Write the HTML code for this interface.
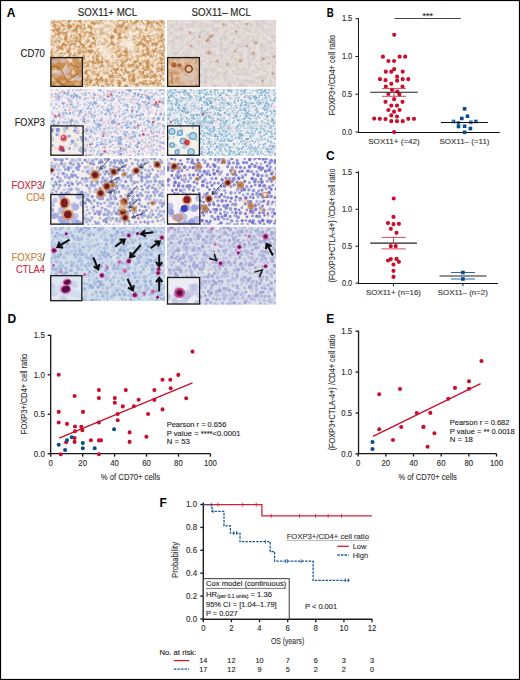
<!DOCTYPE html>
<html><head><meta charset="utf-8"><title>Figure</title>
<style>
html,body{margin:0;padding:0;background:#fff;}
body{width:520px;height:680px;overflow:hidden;position:relative;}
svg{position:absolute;left:0;top:0;display:block;}
text{font-family:"Liberation Sans", sans-serif;}
</style></head><body>
<svg width="520" height="680" viewBox="0 0 520 680">
<rect x="0" y="0" width="520" height="680" fill="#fff"/>
<defs><filter id="bl" x="-5%" y="-5%" width="110%" height="110%"><feGaussianBlur stdDeviation="0.6"/></filter><filter id="bl2" x="-5%" y="-5%" width="110%" height="110%"><feGaussianBlur stdDeviation="0.3"/></filter><radialGradient id="gb"><stop offset="0" stop-color="#5a1420"/><stop offset="0.4" stop-color="#7a2222"/><stop offset="0.62" stop-color="#c07038" stop-opacity="0.85"/><stop offset="1" stop-color="#e0a868" stop-opacity="0"/></radialGradient><radialGradient id="gbl"><stop offset="0" stop-color="#a05a30"/><stop offset="0.5" stop-color="#c07a40" stop-opacity="0.8"/><stop offset="1" stop-color="#e0b080" stop-opacity="0"/></radialGradient><radialGradient id="gm"><stop offset="0" stop-color="#5a0c44"/><stop offset="0.42" stop-color="#8a1868"/><stop offset="0.68" stop-color="#d04c9c" stop-opacity="0.75"/><stop offset="1" stop-color="#e090c8" stop-opacity="0"/></radialGradient><radialGradient id="gml"><stop offset="0" stop-color="#c03890"/><stop offset="0.55" stop-color="#d060a8" stop-opacity="0.7"/><stop offset="1" stop-color="#e8a0d0" stop-opacity="0"/></radialGradient></defs>
<filter id="tb1" x="0" y="0" width="100%" height="100%" color-interpolation-filters="sRGB"><feTurbulence type="fractalNoise" baseFrequency="0.28" numOctaves="3" seed="4"/><feColorMatrix type="matrix" values="0 0 0 0 0.78  0 0 0 0 0.56  0 0 0 0 0.32  3.2 0 0 0 -1.2"/></filter>
<filter id="tb1b" x="0" y="0" width="100%" height="100%" color-interpolation-filters="sRGB"><feTurbulence type="fractalNoise" baseFrequency="0.05" numOctaves="2" seed="9"/><feColorMatrix type="matrix" values="0 0 0 0 0.99  0 0 0 0 0.97  0 0 0 0 0.94  3.5 0 0 0 -2.0"/></filter>
<clipPath id="c1"><rect x="50.5" y="20" width="114.5" height="67"/></clipPath>
<g clip-path="url(#c1)"><g filter="url(#bl)"><rect x="47.5" y="17" width="120.5" height="73" fill="#f4e4d0"/>
<rect x="50.5" y="20" width="114.5" height="67" filter="url(#tb1)"/>
<path d="M87.6 30.1h0M71.2 59.0h0M158.2 43.8h0M77.2 52.5h0M101.0 27.4h0M62.2 58.0h0M154.6 43.0h0M118.1 51.2h0M157.8 30.4h0M65.5 30.2h0M150.4 72.0h0M151.8 30.9h0M99.6 67.0h0M154.7 70.4h0M146.2 57.4h0M153.3 26.2h0M123.0 33.3h0M56.4 64.4h0M106.1 81.1h0M127.1 28.0h0M68.2 55.0h0M58.6 55.1h0M94.9 35.0h0M98.6 79.3h0M92.1 42.4h0M144.7 71.8h0M77.5 38.9h0M72.2 85.2h0M119.5 71.9h0M75.5 46.8h0M108.9 22.7h0M141.2 37.7h0M156.8 80.0h0M65.6 35.2h0M124.6 47.8h0M108.7 24.3h0" stroke="#d2a066" stroke-width="0.9" stroke-linecap="round" stroke-opacity="0.45"/>
<path d="M58.8 55.9h0M139.8 25.5h0M140.9 74.8h0M146.7 83.3h0M144.3 77.9h0M80.6 20.3h0M60.3 26.8h0M146.1 28.0h0M120.5 59.9h0M154.7 43.7h0M117.3 80.6h0M55.3 26.5h0M110.4 78.7h0M100.9 21.2h0M80.5 32.1h0M100.0 53.2h0M69.2 25.7h0M101.5 37.6h0M97.0 36.0h0M59.1 53.5h0M81.5 36.6h0M54.2 67.5h0M85.3 28.6h0M88.0 41.4h0M97.2 63.5h0M70.3 28.9h0M82.5 37.9h0M59.4 22.1h0M105.9 47.3h0M52.6 71.4h0M140.5 34.9h0M91.6 44.5h0M59.7 70.4h0M120.4 36.9h0M123.4 44.1h0M164.2 62.2h0M141.8 37.7h0M136.0 34.8h0M124.3 57.7h0M164.3 68.5h0M112.1 45.1h0" stroke="#b98040" stroke-width="1.8" stroke-linecap="round" stroke-opacity="0.45"/>
<path d="M57.1 54.0h0M99.1 75.4h0M117.5 23.3h0M123.1 24.2h0M159.2 61.1h0M123.4 61.1h0M144.2 69.6h0M109.8 43.8h0M159.8 44.4h0M68.7 86.5h0M163.5 33.1h0M87.8 56.5h0M121.9 54.3h0M163.3 72.8h0M156.6 37.9h0M110.8 36.0h0M66.5 86.3h0M104.8 53.7h0M83.0 61.5h0M160.0 63.1h0M164.3 45.9h0M66.5 32.9h0M108.1 62.2h0M101.6 83.9h0M161.8 36.6h0M60.2 72.0h0M123.4 66.8h0M131.2 40.6h0M161.5 40.9h0M159.5 53.2h0M67.3 46.4h0M158.9 24.4h0M59.5 33.2h0M163.6 37.7h0M80.3 49.4h0M55.1 39.7h0M75.4 44.7h0M73.1 68.8h0M100.2 30.5h0M156.7 69.4h0M90.3 30.8h0M143.3 46.8h0M134.3 74.6h0M121.9 51.8h0M96.5 37.7h0M106.9 31.1h0M57.5 21.7h0M68.7 81.1h0M120.6 64.0h0M161.8 39.8h0" stroke="#c38a48" stroke-width="0.9" stroke-linecap="round" stroke-opacity="0.45"/>
<path d="M100.2 24.7h0M122.7 59.1h0M93.1 56.7h0M91.9 36.6h0M67.8 31.8h0M92.8 57.9h0M80.8 75.5h0M67.3 56.4h0M84.6 63.1h0M141.0 51.6h0M103.5 69.8h0M79.3 39.6h0M142.9 54.0h0M127.3 48.7h0M85.2 28.2h0M164.4 22.5h0M127.3 38.9h0M84.8 62.2h0M160.1 77.2h0M77.4 70.7h0M105.3 65.8h0M106.1 85.2h0M83.2 51.2h0M158.1 33.1h0M80.1 58.2h0M82.3 84.8h0M106.0 81.0h0M162.0 29.5h0M87.9 46.5h0M110.8 63.5h0M113.5 62.8h0M65.4 23.5h0M154.0 61.6h0M147.4 75.6h0M94.4 28.2h0M159.4 29.1h0M162.9 53.0h0M108.0 81.6h0M54.7 32.2h0M146.9 33.6h0" stroke="#c38a48" stroke-width="1.8" stroke-linecap="round" stroke-opacity="0.45"/>
<path d="M114.2 28.9h0M90.6 53.3h0M132.6 79.4h0M107.0 34.6h0M135.0 46.7h0M69.5 46.9h0M98.1 44.0h0M128.6 55.6h0M152.7 33.6h0M98.2 46.3h0M124.2 44.5h0M89.3 33.1h0M107.1 41.9h0M157.9 62.5h0M120.1 34.9h0M107.8 31.9h0M87.5 22.3h0M91.3 20.1h0M108.3 20.3h0M67.0 59.3h0M138.0 68.3h0M124.9 50.8h0M121.6 28.9h0M73.3 85.5h0M82.5 27.5h0M107.5 78.7h0M93.6 28.1h0M87.7 42.7h0M137.0 77.2h0M72.2 45.0h0M107.6 65.2h0M80.0 64.7h0M103.8 37.8h0M146.6 86.0h0M78.9 61.9h0M112.9 30.8h0M97.0 79.2h0M56.6 82.1h0M77.4 71.2h0M157.7 65.5h0M122.1 48.0h0M70.6 86.8h0M151.3 21.0h0" stroke="#b98040" stroke-width="0.9" stroke-linecap="round" stroke-opacity="0.45"/>
<path d="M112.4 58.3h0M57.3 33.8h0M55.0 64.8h0M148.9 83.7h0M135.2 50.6h0M52.9 73.6h0M87.8 85.2h0M73.3 38.6h0M97.0 56.0h0M78.6 50.0h0M73.2 79.1h0M144.9 67.9h0M145.1 59.1h0M50.9 73.4h0M75.4 52.8h0M159.6 28.9h0M143.5 62.3h0M150.2 45.7h0M77.1 81.6h0M72.3 63.7h0M84.6 68.3h0M152.5 35.7h0M73.9 37.1h0M142.8 46.6h0M143.9 32.9h0M59.9 69.1h0M144.4 37.0h0M124.4 49.7h0M97.8 54.7h0M124.2 28.3h0M123.3 65.5h0M119.3 45.4h0" stroke="#d2a066" stroke-width="1.8" stroke-linecap="round" stroke-opacity="0.45"/>
<path d="M99.5 41.0h0M120.2 24.9h0M126.5 24.1h0M53.1 83.7h0M138.9 55.7h0M119.8 43.1h0M140.9 42.3h0M69.0 48.9h0M133.2 21.3h0M137.0 74.9h0M102.5 42.7h0M108.4 85.5h0M152.7 72.5h0M88.5 63.7h0M83.7 25.1h0M117.1 29.5h0M68.7 83.6h0M79.0 37.8h0M73.8 25.4h0M102.1 70.4h0M79.8 69.5h0M106.6 24.9h0M158.3 68.4h0M106.9 66.6h0M57.4 46.4h0M104.0 40.9h0M134.9 51.8h0M72.8 24.2h0M71.4 73.8h0M61.5 53.4h0M62.6 59.9h0M97.3 44.9h0M119.1 56.9h0M95.1 44.6h0M61.5 62.8h0M155.0 25.4h0" stroke="#d2a066" stroke-width="1.35" stroke-linecap="round" stroke-opacity="0.45"/>
<path d="M107.2 43.0h0M69.4 42.9h0M124.6 86.5h0M120.8 30.0h0M164.2 51.2h0M85.4 70.9h0M52.1 61.9h0M122.2 65.6h0M96.9 68.7h0M83.7 44.9h0M164.9 59.5h0M70.1 47.8h0M75.7 80.7h0M51.7 40.2h0M94.0 71.5h0M112.5 49.9h0M80.5 68.0h0M104.9 84.1h0M137.5 72.2h0M151.6 35.5h0M69.2 66.6h0M135.8 79.2h0M65.0 83.2h0M71.0 20.2h0M80.6 53.9h0M53.1 20.2h0M155.3 32.9h0" stroke="#b98040" stroke-width="1.35" stroke-linecap="round" stroke-opacity="0.45"/>
<path d="M95.4 46.7h0M119.5 51.8h0M147.3 54.7h0M76.5 33.2h0M122.0 80.3h0M136.4 52.0h0M62.3 70.2h0M139.4 30.0h0M121.4 28.1h0M151.6 23.8h0M53.7 79.9h0M161.3 34.7h0M80.9 22.7h0M142.1 32.3h0M85.7 34.4h0M84.1 50.8h0M55.3 62.7h0M135.9 51.7h0M89.7 26.1h0M74.5 38.1h0M160.3 63.2h0M110.8 56.6h0M92.0 46.6h0M135.1 53.8h0M134.4 86.8h0M63.0 25.2h0M60.5 67.3h0M93.5 51.1h0M155.1 74.6h0M103.6 22.5h0M157.0 44.9h0M125.1 33.6h0M127.0 48.0h0M63.0 52.9h0M54.9 76.2h0M124.8 40.7h0M140.8 82.3h0M82.0 74.6h0M110.2 66.1h0M67.2 42.2h0M76.8 61.2h0M62.7 43.9h0M117.3 59.5h0M157.7 36.3h0M158.5 37.6h0" stroke="#c38a48" stroke-width="1.35" stroke-linecap="round" stroke-opacity="0.45"/>
<rect x="50.5" y="20" width="114.5" height="67" filter="url(#tb1b)"/>
<ellipse cx="102.5" cy="32" rx="9" ry="11" fill="#f8efe4" fill-opacity="0.4"/>
</g></g>
<filter id="tb1i" x="0" y="0" width="100%" height="100%" color-interpolation-filters="sRGB"><feTurbulence type="fractalNoise" baseFrequency="0.16" numOctaves="2" seed="21"/><feColorMatrix type="matrix" values="0 0 0 0 0.94  0 0 0 0 0.86  0 0 0 0 0.78  3.0 0 0 0 -1.3"/></filter>
<clipPath id="c2"><rect x="50.9" y="57.6" width="31.5" height="28.8"/></clipPath>
<g clip-path="url(#c2)"><g filter="url(#bl)"><rect x="47.9" y="54.6" width="37.5" height="34.8" fill="#c98c50"/>
<rect x="50.9" y="57.6" width="31.5" height="28.8" filter="url(#tb1i)"/>
<circle cx="66.9" cy="70.6" r="3.2" fill="#cdbccc" fill-opacity="0.8"/>
<circle cx="62.599999999999994" cy="60.6" r="2.6" fill="#cdbccc" fill-opacity="0.8"/>
<circle cx="58.9" cy="73.6" r="2.5" fill="#cdbccc" fill-opacity="0.8"/>
<circle cx="76.9" cy="77.6" r="2.6" fill="#cdbccc" fill-opacity="0.8"/>
<circle cx="54.9" cy="61.6" r="2.2" fill="#cdbccc" fill-opacity="0.8"/>
<path d="M52.9 66.6Q60.9 65.6 63.9 74.6T72.9 81.6M68.9 79.6L77.9 73.6M70.9 63.6Q74.9 68.6 80.9 66.6M56.9 79.6Q59.9 83.6 64.9 85.6" stroke="#9a5420" stroke-width="1.1" fill="none" stroke-opacity="0.75"/>
</g></g>
<rect x="50.9" y="57.6" width="31.5" height="28.8" fill="none" stroke="#1a1a1a" stroke-width="1.3"/>
<filter id="tb2" x="0" y="0" width="100%" height="100%" color-interpolation-filters="sRGB"><feTurbulence type="fractalNoise" baseFrequency="0.25" numOctaves="2" seed="11"/><feColorMatrix type="matrix" values="0 0 0 0 0.82  0 0 0 0 0.78  0 0 0 0 0.80  2.2 0 0 0 -0.8"/></filter>
<clipPath id="c3"><rect x="167" y="20" width="109" height="67"/></clipPath>
<g clip-path="url(#c3)"><g filter="url(#bl)"><rect x="164" y="17" width="115" height="73" fill="#e5dfd9"/>
<rect x="167" y="20" width="109" height="67" filter="url(#tb2)"/>
<path d="M274.0 76.4h0M253.3 63.3h0M203.7 37.5h0M268.4 23.2h0M250.8 60.3h0M214.6 71.8h0M227.4 41.7h0M274.2 73.3h0M186.8 28.3h0M272.9 86.6h0M205.5 62.8h0M187.3 20.2h0M193.7 40.2h0M168.3 83.8h0M218.0 57.7h0M177.3 64.2h0M198.9 75.5h0M252.7 57.7h0M233.4 41.2h0M271.0 31.0h0M197.9 20.1h0M273.3 73.4h0M225.3 56.2h0M190.2 26.2h0M220.0 58.0h0M178.5 41.7h0M258.8 62.1h0M184.0 38.2h0M267.8 26.5h0M175.6 25.9h0M266.9 54.7h0" stroke="#e2d8d0" stroke-width="1.5" stroke-linecap="round" stroke-opacity="0.7"/>
<path d="M258.5 66.7h0M170.6 27.5h0M192.2 31.1h0M176.4 79.5h0M189.5 37.6h0M224.9 70.5h0M196.8 27.3h0M252.3 67.8h0M274.3 43.8h0M275.6 70.9h0M179.9 48.1h0M232.4 69.2h0M190.3 47.8h0M251.9 57.1h0M214.4 48.3h0M187.1 22.3h0M228.7 58.7h0M228.9 22.6h0M168.5 45.9h0M218.5 80.0h0M244.8 77.3h0M170.5 24.1h0M200.9 68.9h0M240.8 29.7h0M257.8 59.2h0M209.2 45.2h0M213.1 59.3h0M257.8 74.4h0M188.8 70.3h0M189.5 37.1h0M213.4 83.4h0M259.0 42.7h0M236.7 81.8h0M222.2 32.2h0M265.4 80.6h0M180.5 52.2h0M193.0 29.6h0M182.2 50.0h0M244.8 57.1h0M254.7 37.5h0M207.5 59.9h0" stroke="#f4f0ee" stroke-width="1.5" stroke-linecap="round" stroke-opacity="0.7"/>
<path d="M271.2 35.7h0M174.4 23.1h0M234.4 22.1h0M261.0 26.1h0M214.5 55.1h0M274.1 62.3h0M223.9 30.8h0M271.9 26.8h0M193.4 77.1h0M195.3 66.9h0M202.8 20.7h0M252.2 83.0h0M204.4 69.7h0M213.7 62.7h0M265.3 56.7h0M220.7 23.9h0M233.5 65.7h0M221.9 38.2h0M238.3 73.1h0M239.3 78.2h0M266.6 63.9h0M229.7 81.5h0M190.8 28.1h0M217.1 25.9h0M171.9 86.8h0M171.2 37.1h0M252.7 67.5h0M261.9 37.8h0M219.0 39.2h0M272.8 48.9h0M264.7 23.9h0M182.3 20.1h0M206.3 22.7h0M197.7 62.8h0M168.7 81.0h0" stroke="#e2d8d0" stroke-width="1.0" stroke-linecap="round" stroke-opacity="0.7"/>
<path d="M209.7 59.2h0M273.5 66.9h0M269.9 27.2h0M235.9 52.0h0M242.1 37.2h0M195.2 84.0h0M189.5 46.0h0M273.9 39.8h0M196.9 46.8h0M188.1 63.0h0M268.2 77.2h0M233.3 58.8h0M251.6 43.2h0M207.9 48.1h0M236.4 62.6h0M222.7 52.5h0M201.6 40.0h0M229.6 46.7h0M183.0 65.1h0M171.3 62.5h0M167.5 65.8h0M202.0 53.9h0M230.0 44.0h0M207.5 51.1h0M272.3 86.4h0M178.0 41.3h0M245.2 33.1h0M206.9 42.2h0" stroke="#f4f0ee" stroke-width="1.0" stroke-linecap="round" stroke-opacity="0.7"/>
<path d="M182.1 63.1h0M256.1 74.9h0M179.2 22.3h0M243.8 56.0h0M269.9 39.0h0M252.9 66.7h0M203.4 63.1h0M187.9 40.2h0M210.5 73.0h0M195.0 69.5h0M239.8 63.7h0M259.6 52.3h0M260.6 54.7h0M171.2 56.4h0M259.3 50.6h0M274.9 32.3h0M190.1 28.7h0M257.2 80.7h0M257.6 62.4h0M265.5 73.0h0M264.1 60.8h0M220.9 34.3h0M258.5 65.0h0M243.3 36.5h0M250.9 56.8h0M268.6 37.0h0M246.1 21.0h0M233.2 26.3h0M217.0 83.5h0M201.7 35.6h0M202.2 35.7h0M216.7 52.3h0M173.2 80.0h0M197.2 32.1h0M251.0 67.7h0M186.1 29.2h0M262.0 37.8h0M257.6 44.6h0" stroke="#f4f0ee" stroke-width="2.0" stroke-linecap="round" stroke-opacity="0.7"/>
<path d="M167.5 52.9h0M253.8 32.4h0M204.8 75.7h0M202.6 26.4h0M230.4 55.0h0M184.0 36.6h0M218.9 21.1h0M212.6 48.2h0M195.9 35.0h0M205.7 77.0h0M208.0 37.0h0M210.5 57.1h0M172.1 75.1h0M250.5 24.0h0M197.0 58.1h0M248.1 81.8h0M235.5 67.5h0M209.0 72.7h0M203.4 38.8h0M233.2 65.4h0M192.4 58.8h0M201.4 22.0h0M176.1 23.4h0M240.8 40.0h0M268.1 34.8h0M273.7 21.1h0M200.6 20.7h0" stroke="#e2d8d0" stroke-width="2.0" stroke-linecap="round" stroke-opacity="0.7"/>
<path d="M223.7 49.9h0M223.0 55.5h0M178.2 78.3h0M211.2 29.2h0M259.4 23.6h0M251.6 82.8h0M229.9 38.4h0M173.2 21.5h0M233.0 43.3h0M179.8 46.6h0M256.6 42.1h0M221.6 63.5h0M235.8 55.1h0M258.8 59.3h0M180.2 30.5h0M196.1 26.7h0M173.0 79.7h0M262.0 42.5h0M192.9 22.3h0M204.2 30.4h0M262.1 28.2h0M240.8 47.1h0M262.4 59.2h0M189.9 81.3h0M216.4 23.6h0M195.5 56.6h0M243.1 28.9h0M231.0 36.1h0M229.0 39.4h0" stroke="#d0c4cc" stroke-width="1.0" stroke-linecap="round" stroke-opacity="0.5"/>
<path d="M180.2 67.9h0M186.9 26.9h0M171.9 28.2h0M203.9 36.1h0M247.7 39.2h0M184.7 83.8h0M223.4 75.9h0M267.5 86.7h0M222.9 27.4h0M235.7 60.4h0M211.8 72.8h0M275.7 58.5h0M210.2 44.3h0M271.8 48.3h0M222.0 35.2h0M181.3 67.3h0M265.1 59.4h0M205.8 76.6h0M221.3 54.9h0M270.2 48.4h0M268.9 63.7h0" stroke="#dcc0a8" stroke-width="2.2" stroke-linecap="round" stroke-opacity="0.5"/>
<path d="M261.6 58.6h0M170.9 85.0h0M271.4 82.6h0M178.0 28.2h0M192.8 22.6h0M217.8 55.8h0M208.8 59.2h0M202.5 38.1h0M244.2 81.3h0M206.5 44.6h0M171.8 82.4h0M185.5 45.4h0M263.2 77.7h0M213.9 70.7h0M273.2 65.6h0M257.3 38.8h0M213.7 54.3h0M206.3 33.8h0M187.7 56.4h0" stroke="#d6b49a" stroke-width="1.6" stroke-linecap="round" stroke-opacity="0.5"/>
<path d="M262.1 83.9h0M214.5 85.7h0M239.9 35.1h0M180.5 28.8h0M198.4 43.6h0M167.7 70.0h0M169.8 37.2h0M174.4 35.4h0M262.9 84.6h0M242.3 20.3h0M167.7 78.1h0M193.7 32.8h0M207.1 34.5h0M235.6 58.9h0M198.5 74.7h0M243.2 36.6h0M239.7 60.1h0M200.1 27.4h0M272.0 30.8h0M195.8 63.2h0" stroke="#dcc0a8" stroke-width="1.6" stroke-linecap="round" stroke-opacity="0.5"/>
<path d="M169.3 84.8h0M256.1 22.0h0M248.4 31.0h0M239.3 20.8h0M187.4 41.7h0M196.8 56.3h0M204.9 31.2h0M231.8 43.5h0M275.3 62.6h0M256.7 61.1h0M177.1 38.1h0M196.5 60.8h0M269.6 57.8h0M206.0 47.6h0M226.8 71.0h0" stroke="#d6b49a" stroke-width="2.2" stroke-linecap="round" stroke-opacity="0.5"/>
<path d="M247.5 37.5h0M209.4 48.2h0M261.4 61.6h0M193.4 34.8h0M250.2 54.9h0M256.5 54.7h0M261.9 20.3h0M212.6 72.5h0M267.3 71.8h0M275.8 54.7h0M188.4 53.4h0M196.0 63.3h0M193.5 46.1h0M186.2 44.6h0M205.3 47.6h0M247.5 57.0h0M212.5 69.8h0M221.8 66.1h0M250.0 22.9h0M248.5 42.2h0M267.2 63.2h0" stroke="#d0c4cc" stroke-width="2.2" stroke-linecap="round" stroke-opacity="0.5"/>
<path d="M229.8 55.0h0M260.9 29.9h0M226.8 44.6h0M268.8 47.9h0M182.3 33.6h0M179.1 77.1h0M224.3 59.9h0M215.0 61.8h0M204.4 82.7h0M170.2 25.1h0M191.1 40.7h0M228.3 44.2h0M200.9 29.1h0M223.2 49.8h0" stroke="#d0c4cc" stroke-width="1.6" stroke-linecap="round" stroke-opacity="0.5"/>
<path d="M221.6 38.7h0M255.2 79.3h0M214.5 45.3h0M242.4 70.0h0M222.0 32.6h0M245.0 43.7h0M214.9 61.6h0M169.4 78.2h0M215.3 76.0h0M193.8 60.7h0M209.5 25.8h0M202.0 64.4h0M188.0 68.2h0M241.6 43.4h0M226.3 36.7h0M240.1 35.9h0" stroke="#d6b49a" stroke-width="1.0" stroke-linecap="round" stroke-opacity="0.5"/>
<path d="M271.5 81.7h0M242.7 34.8h0M233.8 51.4h0M215.4 32.3h0M271.5 33.7h0M241.7 46.1h0M168.4 71.6h0M205.0 50.1h0M212.6 36.9h0M226.1 38.1h0M238.7 58.0h0M265.8 26.5h0M257.9 72.0h0M257.6 27.7h0M172.0 51.4h0" stroke="#dcc0a8" stroke-width="1.0" stroke-linecap="round" stroke-opacity="0.5"/>
<circle cx="210" cy="36.8" r="2.28" fill="#c89a80" fill-opacity="0.3"/><circle cx="210" cy="36.8" r="1.32" fill="#b87448" fill-opacity="0.5"/>
<circle cx="207.9" cy="39.9" r="2.09" fill="#c89a80" fill-opacity="0.3"/><circle cx="207.9" cy="39.9" r="1.21" fill="#b87448" fill-opacity="0.5"/>
<circle cx="212" cy="35.7" r="1.90" fill="#c89a80" fill-opacity="0.3"/><circle cx="212" cy="35.7" r="1.10" fill="#b87448" fill-opacity="0.5"/>
<circle cx="208.9" cy="52.5" r="2.66" fill="#c89a80" fill-opacity="0.3"/><circle cx="208.9" cy="52.5" r="1.54" fill="#b87448" fill-opacity="0.5"/>
<circle cx="206.8" cy="41" r="1.90" fill="#c89a80" fill-opacity="0.3"/><circle cx="206.8" cy="41" r="1.10" fill="#b87448" fill-opacity="0.5"/>
<circle cx="191.1" cy="46.2" r="1.71" fill="#c89a80" fill-opacity="0.3"/><circle cx="191.1" cy="46.2" r="0.99" fill="#b87448" fill-opacity="0.5"/>
<circle cx="199.5" cy="36.8" r="1.71" fill="#c89a80" fill-opacity="0.3"/><circle cx="199.5" cy="36.8" r="0.99" fill="#b87448" fill-opacity="0.5"/>
<circle cx="236.2" cy="31.5" r="1.71" fill="#c89a80" fill-opacity="0.3"/><circle cx="236.2" cy="31.5" r="0.99" fill="#b87448" fill-opacity="0.5"/>
<circle cx="246.7" cy="24.2" r="1.90" fill="#c89a80" fill-opacity="0.3"/><circle cx="246.7" cy="24.2" r="1.10" fill="#b87448" fill-opacity="0.5"/>
<circle cx="256.1" cy="43" r="2.28" fill="#c89a80" fill-opacity="0.3"/><circle cx="256.1" cy="43" r="1.32" fill="#b87448" fill-opacity="0.5"/>
<circle cx="253" cy="53.5" r="1.90" fill="#c89a80" fill-opacity="0.3"/><circle cx="253" cy="53.5" r="1.10" fill="#b87448" fill-opacity="0.5"/>
<circle cx="240.4" cy="60.9" r="2.28" fill="#c89a80" fill-opacity="0.3"/><circle cx="240.4" cy="60.9" r="1.32" fill="#b87448" fill-opacity="0.5"/>
<circle cx="263.4" cy="58.8" r="2.09" fill="#c89a80" fill-opacity="0.3"/><circle cx="263.4" cy="58.8" r="1.21" fill="#b87448" fill-opacity="0.5"/>
<circle cx="273.9" cy="56.7" r="1.90" fill="#c89a80" fill-opacity="0.3"/><circle cx="273.9" cy="56.7" r="1.10" fill="#b87448" fill-opacity="0.5"/>
<circle cx="227.8" cy="64" r="1.90" fill="#c89a80" fill-opacity="0.3"/><circle cx="227.8" cy="64" r="1.10" fill="#b87448" fill-opacity="0.5"/>
<circle cx="217.3" cy="60.9" r="1.71" fill="#c89a80" fill-opacity="0.3"/><circle cx="217.3" cy="60.9" r="0.99" fill="#b87448" fill-opacity="0.5"/>
<circle cx="235.1" cy="51.4" r="1.71" fill="#c89a80" fill-opacity="0.3"/><circle cx="235.1" cy="51.4" r="0.99" fill="#b87448" fill-opacity="0.5"/>
<circle cx="223.6" cy="24.2" r="1.71" fill="#c89a80" fill-opacity="0.3"/><circle cx="223.6" cy="24.2" r="0.99" fill="#b87448" fill-opacity="0.5"/>
<circle cx="262.4" cy="80.8" r="1.90" fill="#c89a80" fill-opacity="0.3"/><circle cx="262.4" cy="80.8" r="1.10" fill="#b87448" fill-opacity="0.5"/>
<circle cx="272.9" cy="73.5" r="1.90" fill="#c89a80" fill-opacity="0.3"/><circle cx="272.9" cy="73.5" r="1.10" fill="#b87448" fill-opacity="0.5"/>
<circle cx="246.7" cy="46.2" r="1.71" fill="#c89a80" fill-opacity="0.3"/><circle cx="246.7" cy="46.2" r="0.99" fill="#b87448" fill-opacity="0.5"/>
<circle cx="190" cy="32.6" r="1.71" fill="#c89a80" fill-opacity="0.3"/><circle cx="190" cy="32.6" r="0.99" fill="#b87448" fill-opacity="0.5"/>
</g></g>
<filter id="tb2i" x="0" y="0" width="100%" height="100%" color-interpolation-filters="sRGB"><feTurbulence type="fractalNoise" baseFrequency="0.2" numOctaves="2" seed="5"/><feColorMatrix type="matrix" values="0 0 0 0 0.82  0 0 0 0 0.58  0 0 0 0 0.38  2.6 0 0 0 -1.0"/></filter>
<clipPath id="c4"><rect x="167.6" y="57.6" width="31.8" height="28.8"/></clipPath>
<g clip-path="url(#c4)"><g filter="url(#bl)"><rect x="164.6" y="54.6" width="37.8" height="34.8" fill="#dcc2aa"/>
<rect x="167.6" y="57.6" width="31.8" height="28.8" filter="url(#tb2i)"/>
<ellipse cx="191" cy="79" rx="8" ry="6" fill="#ddd2dc" fill-opacity="0.35"/>
<g fill="#a85420" fill-opacity="0.85"><circle cx="173.8" cy="64.9" r="2.6"/><circle cx="179.6" cy="65.2" r="2"/></g>
<path d="M171 72Q173 78 172 84" stroke="#c07840" stroke-width="2.2" fill="none" stroke-opacity="0.7"/>
<circle cx="188.8" cy="68.9" r="3.4" fill="#e0c0b0" stroke="#8a3e14" stroke-width="1.6"/>
</g></g>
<rect x="167.6" y="57.6" width="31.8" height="28.8" fill="none" stroke="#1a1a1a" stroke-width="1.3"/>
<clipPath id="c5"><rect x="50.5" y="89" width="114.5" height="67"/></clipPath>
<g clip-path="url(#c5)"><g filter="url(#bl)"><rect x="47.5" y="86" width="120.5" height="73" fill="#f3eff4"/>
<path d="M48.1 86.3h0M68.1 88.2h0M61.0 91.1h0M83.0 95.1h0M131.3 100.8h0M80.6 104.7h0M144.0 103.8h0M139.3 107.1h0M158.2 106.3h0M159.8 107.2h0M118.6 108.6h0M143.8 108.5h0M150.6 108.2h0M151.9 112.2h0M116.2 115.7h0M141.0 114.2h0M101.7 117.5h0M48.1 120.4h0M136.0 120.5h0M101.4 124.2h0M138.2 123.0h0M159.6 125.9h0M79.3 128.0h0M74.6 130.3h0M73.2 134.8h0M101.7 133.6h0M70.6 137.3h0M146.7 136.1h0M69.1 139.5h0M160.5 139.2h0M152.3 142.4h0M57.5 144.3h0M117.7 143.8h0M141.7 145.0h0M145.5 145.3h0M84.0 148.2h0M112.5 151.3h0M144.2 151.1h0M161.7 153.3h0" stroke="#e4bcc6" stroke-width="1.8" stroke-linecap="round" stroke-opacity="0.8"/>
<path d="M51.3 87.8h0M167.3 90.9h0M89.3 93.2h0M112.7 95.3h0M133.1 96.3h0M131.7 99.4h0M119.0 101.2h0M63.8 107.0h0M148.1 107.4h0M63.6 114.7h0M95.3 115.9h0M119.7 116.8h0M124.1 118.5h0M153.5 118.6h0M63.2 122.4h0M97.7 123.1h0M123.3 122.5h0M141.2 123.6h0M165.9 123.6h0M67.4 125.5h0M140.3 125.4h0M86.1 128.7h0M128.6 127.4h0M164.4 128.4h0M101.7 141.3h0M109.5 142.6h0M100.4 144.4h0M112.6 144.6h0M95.5 147.0h0M153.7 150.5h0M96.9 154.2h0M81.1 156.2h0M152.0 155.1h0M49.4 158.7h0M103.0 159.4h0" stroke="#7ca0d4" stroke-width="1.8" stroke-linecap="round" stroke-opacity="0.8"/>
<path d="M56.0 88.0h0M105.8 87.2h0M85.3 89.9h0M49.6 91.9h0M62.9 95.8h0M91.0 96.0h0M88.8 98.5h0M161.5 101.6h0M86.6 105.0h0M131.9 103.1h0M134.4 103.5h0M163.4 104.4h0M134.7 106.9h0M150.7 106.3h0M49.0 108.3h0M161.9 109.5h0M116.1 113.1h0M144.1 111.1h0M160.2 115.0h0M159.6 117.9h0M51.8 121.0h0M148.7 120.1h0M87.5 127.0h0M118.6 125.3h0M60.1 129.6h0M107.3 128.2h0M117.1 131.4h0M153.4 130.3h0M88.3 134.0h0M90.8 134.9h0M128.5 134.0h0M139.5 134.2h0M68.5 137.5h0M92.7 141.3h0M156.7 142.5h0M148.1 144.7h0M114.9 148.0h0M133.9 148.6h0M155.9 148.7h0M99.9 151.1h0M166.6 153.8h0M59.2 156.7h0M103.1 156.8h0M126.7 156.1h0M113.1 158.8h0" stroke="#d4c8dc" stroke-width="2.3" stroke-linecap="round" stroke-opacity="0.8"/>
<path d="M59.2 87.0h0M86.8 87.2h0M122.3 89.5h0M131.9 89.7h0M80.8 93.6h0M106.6 93.3h0M53.6 96.7h0M100.6 95.7h0M152.4 95.1h0M159.9 95.9h0M93.5 97.5h0M96.7 98.8h0M99.1 98.5h0M53.6 100.7h0M85.2 101.1h0M140.6 104.5h0M99.4 109.6h0M128.6 111.8h0M156.5 112.1h0M86.5 115.3h0M134.3 114.8h0M129.8 116.5h0M111.3 119.4h0M90.0 126.5h0M110.9 125.2h0M165.6 126.4h0M76.1 130.2h0M53.2 133.8h0M97.4 133.1h0M98.5 137.7h0M133.5 136.7h0M56.4 139.7h0M132.4 140.0h0M89.1 141.7h0M99.2 142.1h0M69.5 145.6h0M95.4 146.1h0M99.2 148.2h0M108.9 147.4h0M78.8 149.4h0M166.7 151.2h0M86.1 153.9h0M102.1 153.4h0M112.2 153.5h0M130.8 152.9h0M114.1 158.8h0M130.9 158.6h0" stroke="#d4c8dc" stroke-width="1.8" stroke-linecap="round" stroke-opacity="0.8"/>
<path d="M61.2 88.2h0M74.4 86.6h0M118.1 86.9h0M109.4 90.9h0M124.1 92.9h0M105.4 98.9h0M152.0 100.5h0M51.6 103.0h0M72.1 103.9h0M84.2 107.7h0M53.0 109.3h0M74.6 110.1h0M98.5 111.0h0M123.0 111.2h0M65.1 116.8h0M68.6 118.5h0M68.6 119.9h0M129.7 121.4h0M82.6 122.4h0M150.0 126.9h0M89.5 129.5h0M160.2 128.9h0M111.6 131.9h0M154.9 131.8h0M57.7 136.2h0M96.6 137.8h0M128.6 135.7h0M137.7 135.8h0M51.4 139.3h0M82.4 138.9h0M88.1 140.5h0M138.1 140.2h0M115.1 141.2h0M68.8 149.9h0M130.4 151.0h0M141.0 153.2h0M138.8 155.1h0M72.1 159.5h0M137.8 158.6h0M144.1 158.1h0" stroke="#bccce8" stroke-width="1.8" stroke-linecap="round" stroke-opacity="0.8"/>
<path d="M71.0 87.4h0M90.3 88.2h0M135.8 89.2h0M140.8 90.1h0M74.2 94.0h0M119.1 92.9h0M122.3 92.3h0M75.8 95.4h0M142.0 94.6h0M73.9 97.3h0M113.9 98.9h0M49.7 100.6h0M71.5 101.7h0M142.6 101.9h0M63.9 103.3h0M127.4 105.0h0M65.2 110.2h0M90.9 108.8h0M127.2 110.0h0M147.6 109.2h0M93.2 115.3h0M136.7 115.5h0M94.2 120.9h0M147.6 120.9h0M152.4 123.7h0M158.5 123.7h0M57.6 125.0h0M81.5 126.8h0M125.3 125.3h0M53.1 128.1h0M63.4 128.6h0M104.3 128.9h0M124.5 131.8h0M142.4 131.1h0M150.9 131.0h0M143.9 135.1h0M53.1 136.9h0M153.7 136.7h0M166.4 140.1h0M67.2 146.1h0M92.2 144.0h0M63.4 149.9h0M85.4 151.3h0M142.4 149.4h0M138.3 154.0h0M91.0 155.1h0M135.6 156.1h0M84.2 158.9h0" stroke="#7ca0d4" stroke-width="2.3" stroke-linecap="round" stroke-opacity="0.8"/>
<path d="M77.6 87.2h0M143.7 87.2h0M159.9 88.0h0M55.4 94.1h0M93.9 93.6h0M134.8 93.5h0M116.6 96.0h0M123.6 99.1h0M149.3 98.2h0M164.4 98.6h0M167.9 101.8h0M62.3 103.0h0M105.1 103.1h0M88.9 106.5h0M111.4 106.4h0M81.6 110.1h0M109.3 112.0h0M136.4 111.5h0M84.7 115.4h0M109.8 114.6h0M99.8 120.7h0M135.3 122.7h0M61.9 125.7h0M74.6 124.6h0M127.4 125.2h0M126.7 127.9h0M145.6 129.1h0M54.0 139.9h0M96.8 139.0h0M110.9 142.1h0M121.1 142.6h0M149.5 142.5h0M160.2 142.4h0M106.5 144.5h0M159.9 146.0h0M167.9 144.8h0M60.0 151.1h0M90.7 151.1h0M103.8 151.1h0M125.9 150.6h0M157.0 149.8h0M160.9 156.6h0M120.2 158.2h0" stroke="#90b0dc" stroke-width="2.3" stroke-linecap="round" stroke-opacity="0.8"/>
<path d="M79.7 87.1h0M160.0 90.3h0M162.8 89.7h0M85.5 94.7h0M138.3 95.4h0M90.2 103.6h0M92.7 105.0h0M124.6 104.3h0M87.8 108.7h0M111.4 109.1h0M139.3 108.2h0M65.7 113.1h0M48.9 115.1h0M163.3 119.6h0M112.7 123.4h0M54.6 125.2h0M121.8 126.9h0M152.8 125.3h0M81.6 128.7h0M55.2 130.4h0M126.9 132.2h0M156.8 136.1h0M109.7 140.3h0M165.0 143.2h0M103.7 144.1h0M80.5 147.8h0M124.2 148.9h0M120.3 150.7h0M77.8 156.7h0M167.4 155.5h0M89.4 159.0h0M97.3 157.7h0" stroke="#90b0dc" stroke-width="2.8" stroke-linecap="round" stroke-opacity="0.8"/>
<path d="M84.3 87.2h0M56.8 89.1h0M78.5 90.2h0M98.2 89.6h0M145.1 90.8h0M144.6 91.7h0M143.0 97.6h0M96.8 100.3h0M138.7 100.5h0M50.6 106.7h0M119.1 106.4h0M157.2 110.0h0M111.0 113.7h0M149.1 114.1h0M63.3 117.4h0M83.0 117.0h0M87.0 120.1h0M96.5 120.0h0M131.5 122.5h0M105.5 126.3h0M65.5 131.0h0M121.2 131.5h0M107.3 133.7h0M85.5 137.5h0M79.4 139.2h0M145.7 142.5h0M50.0 149.3h0M133.4 150.9h0M143.0 153.6h0M147.2 152.4h0M68.8 155.1h0M73.7 158.4h0M119.3 159.8h0" stroke="#9cb6e0" stroke-width="1.8" stroke-linecap="round" stroke-opacity="0.8"/>
<path d="M92.9 87.6h0M103.2 86.4h0M115.2 88.5h0M156.6 87.1h0M162.0 88.0h0M166.2 87.1h0M80.9 89.4h0M113.0 90.8h0M156.5 89.1h0M69.8 95.8h0M109.5 96.7h0M122.4 94.7h0M133.8 99.0h0M136.3 99.4h0M162.9 101.5h0M78.0 103.3h0M94.1 107.7h0M121.8 115.0h0M110.4 117.6h0M148.1 118.1h0M73.3 120.9h0M125.1 119.9h0M116.3 123.9h0M128.1 123.2h0M48.0 125.1h0M90.5 128.7h0M87.3 130.4h0M99.6 131.1h0M109.2 131.8h0M166.4 130.4h0M86.2 133.6h0M110.8 133.2h0M153.7 133.6h0M81.4 136.2h0M67.4 139.0h0M85.9 141.3h0M105.6 141.8h0M60.5 146.1h0M126.6 145.7h0M121.5 147.7h0M149.5 147.2h0M48.8 152.3h0M61.4 153.3h0M106.4 152.4h0M135.0 152.6h0M150.5 153.3h0M152.4 152.7h0M93.7 155.7h0M97.4 156.6h0M52.6 159.5h0M140.4 158.1h0" stroke="#d4c8dc" stroke-width="2.8" stroke-linecap="round" stroke-opacity="0.8"/>
<path d="M95.2 87.0h0M124.9 91.1h0M163.5 94.6h0M76.8 100.7h0M47.8 102.9h0M57.8 104.4h0M167.7 111.1h0M101.7 115.0h0M147.1 114.5h0M74.7 116.8h0M78.5 117.1h0M60.8 121.1h0M105.7 121.3h0M122.5 119.9h0M91.5 122.3h0M130.4 131.1h0M67.0 133.5h0M72.5 139.5h0M48.4 142.9h0M74.5 141.3h0M83.3 143.2h0M131.5 144.8h0M164.6 144.4h0M76.3 147.0h0M56.2 150.6h0M72.6 149.6h0M88.9 150.4h0M106.9 151.2h0M164.4 149.8h0M83.0 153.7h0M117.0 157.0h0" stroke="#eed8dc" stroke-width="2.3" stroke-linecap="round" stroke-opacity="0.8"/>
<path d="M100.3 88.3h0M131.0 86.4h0M137.7 86.5h0M107.9 91.1h0M139.9 89.8h0M108.5 93.9h0M114.4 92.2h0M71.8 98.5h0M69.2 101.6h0M158.0 101.6h0M110.8 104.0h0M52.5 112.9h0M90.5 111.6h0M154.9 121.2h0M69.6 122.4h0M103.9 122.7h0M116.1 127.0h0M103.0 132.2h0M145.6 130.7h0M59.3 134.2h0M81.2 132.8h0M117.6 133.6h0M150.5 137.3h0M133.7 141.3h0M138.2 142.5h0M143.8 142.2h0M119.7 143.9h0M62.1 148.3h0M126.5 147.8h0M58.5 152.3h0M75.7 155.1h0M121.9 156.4h0M81.4 159.4h0" stroke="#e4bcc6" stroke-width="2.8" stroke-linecap="round" stroke-opacity="0.8"/>
<path d="M107.9 88.3h0M68.6 90.2h0M51.8 94.0h0M103.4 92.0h0M151.8 92.3h0M58.8 95.1h0M79.8 96.4h0M166.8 96.7h0M91.5 102.1h0M103.4 100.5h0M121.0 103.0h0M101.6 106.7h0M128.1 107.2h0M167.7 106.5h0M78.0 110.1h0M103.6 109.1h0M132.0 110.0h0M112.5 112.3h0M132.3 113.0h0M98.4 114.4h0M60.3 118.2h0M88.3 116.7h0M91.3 117.1h0M152.3 118.6h0M163.0 118.0h0M81.1 119.7h0M143.1 119.6h0M108.1 123.2h0M98.8 125.8h0M129.8 126.6h0M144.1 125.2h0M100.6 128.9h0M116.6 129.1h0M147.1 135.0h0M163.3 136.6h0M101.6 138.5h0M142.2 140.2h0M151.7 139.9h0M76.2 142.4h0M127.5 141.6h0M50.9 144.1h0M87.5 144.5h0M71.1 147.0h0M90.2 147.1h0M109.9 150.6h0M63.4 155.3h0M73.5 156.1h0M131.7 157.1h0M142.9 155.8h0M145.4 158.8h0M162.6 158.4h0" stroke="#90b0dc" stroke-width="1.8" stroke-linecap="round" stroke-opacity="0.8"/>
<path d="M112.5 87.9h0M100.3 90.3h0M129.4 89.7h0M64.5 93.0h0M147.0 97.7h0M95.9 103.4h0M166.2 103.5h0M69.9 113.3h0M80.0 112.4h0M59.2 114.5h0M105.8 114.2h0M142.7 114.6h0M84.1 118.7h0M132.0 116.9h0M70.9 121.5h0M101.7 119.9h0M49.7 122.4h0M58.8 122.7h0M119.1 123.8h0M149.1 122.1h0M71.1 124.9h0M71.9 131.6h0M91.1 131.6h0M133.5 132.4h0M103.7 133.8h0M125.3 134.8h0M90.1 137.1h0M118.5 137.8h0M120.4 137.5h0M85.8 139.0h0M51.8 143.0h0M162.5 142.8h0M97.3 145.4h0M137.6 147.2h0M81.6 150.4h0M53.1 153.4h0M89.0 155.7h0M163.0 156.2h0M66.9 158.3h0M155.1 158.5h0" stroke="#7ca0d4" stroke-width="2.8" stroke-linecap="round" stroke-opacity="0.8"/>
<path d="M120.7 88.0h0M50.7 89.0h0M144.5 95.2h0M157.9 95.1h0M139.4 99.1h0M109.0 105.0h0M97.1 107.3h0M58.9 112.5h0M141.8 113.1h0M52.7 114.9h0M128.5 115.9h0M54.0 118.1h0M144.4 118.0h0M65.2 119.4h0M156.4 125.7h0M119.2 129.1h0M136.6 132.3h0M49.7 137.3h0M61.3 136.1h0M78.3 137.1h0M83.1 137.0h0M106.4 135.9h0M108.7 135.8h0M115.2 136.8h0M165.4 135.9h0M76.7 139.2h0M136.5 139.0h0M145.5 139.2h0M154.2 139.9h0M54.4 141.4h0M57.4 141.4h0M61.0 141.2h0M53.3 147.3h0M130.4 147.0h0M141.0 148.0h0M143.7 148.3h0M160.3 148.3h0M75.4 149.4h0M159.8 150.4h0M123.8 153.5h0M64.9 158.3h0" stroke="#bccce8" stroke-width="2.3" stroke-linecap="round" stroke-opacity="0.8"/>
<path d="M123.8 87.8h0M54.1 89.0h0M95.6 94.1h0M99.0 93.6h0M64.8 97.2h0M57.6 101.9h0M82.1 100.2h0M127.2 102.3h0M99.2 104.9h0M119.2 103.4h0M91.7 105.5h0M115.8 106.5h0M61.9 109.8h0M113.9 110.1h0M55.8 111.2h0M137.8 112.0h0M98.5 117.5h0M106.5 118.4h0M56.6 123.1h0M65.6 124.6h0M135.4 128.1h0M142.9 128.7h0M51.6 132.3h0M74.8 133.4h0M55.1 137.4h0M64.4 136.8h0M130.2 135.8h0M140.9 136.6h0M164.6 140.7h0M65.8 141.6h0M67.4 147.7h0M90.6 153.7h0M164.8 158.9h0" stroke="#eed8dc" stroke-width="1.8" stroke-linecap="round" stroke-opacity="0.8"/>
<path d="M127.0 87.6h0M133.8 88.3h0M150.8 87.3h0M156.3 93.1h0M50.8 95.8h0M112.3 97.3h0M84.5 104.3h0M152.5 105.0h0M54.1 107.6h0M113.1 107.8h0M105.8 110.1h0M49.9 111.7h0M63.1 112.8h0M149.2 112.2h0M130.9 115.3h0M56.3 117.0h0M93.6 117.5h0M135.5 116.8h0M167.7 116.7h0M134.1 121.3h0M158.4 119.2h0M67.2 122.3h0M75.6 122.1h0M144.3 122.9h0M96.8 124.9h0M101.6 125.5h0M137.4 126.9h0M147.8 125.3h0M94.4 129.0h0M109.5 127.7h0M112.6 128.1h0M137.9 128.4h0M67.7 130.1h0M94.7 133.5h0M123.7 134.1h0M63.6 138.7h0M117.5 138.5h0M137.7 144.1h0M52.7 150.1h0M93.9 150.6h0M117.7 151.6h0M152.3 150.1h0M98.1 153.0h0M156.7 153.7h0M85.9 156.8h0M101.8 156.9h0M118.7 155.5h0M133.4 157.7h0M152.4 157.9h0" stroke="#a8c0e6" stroke-width="2.8" stroke-linecap="round" stroke-opacity="0.8"/>
<path d="M141.4 87.6h0M58.9 92.5h0M82.9 93.5h0M147.2 96.0h0M61.3 98.3h0M154.9 99.1h0M160.0 98.6h0M77.9 102.0h0M101.2 100.2h0M129.9 102.1h0M148.2 102.2h0M72.9 104.7h0M141.7 105.7h0M56.2 109.1h0M95.2 110.5h0M120.4 109.4h0M125.4 110.2h0M81.0 111.8h0M85.2 111.1h0M164.6 112.4h0M54.6 121.4h0M49.5 128.2h0M68.4 127.4h0M59.5 131.8h0M159.3 130.6h0M50.7 134.0h0M79.7 134.5h0M131.5 134.0h0M143.0 134.8h0M159.7 133.0h0M163.4 133.5h0M102.3 136.2h0M123.9 137.5h0M160.3 137.7h0M94.1 139.7h0M125.6 139.0h0M148.7 138.5h0M68.1 142.9h0M64.2 145.6h0M73.3 143.9h0M85.1 145.8h0M49.5 148.2h0M87.5 147.2h0M102.8 147.5h0M149.2 149.9h0M109.3 159.8h0" stroke="#a8c0e6" stroke-width="1.8" stroke-linecap="round" stroke-opacity="0.8"/>
<path d="M153.9 86.4h0M76.2 90.0h0M147.5 89.9h0M151.3 89.2h0M85.8 93.0h0M127.9 94.0h0M165.5 91.7h0M135.2 95.7h0M55.8 97.2h0M67.1 98.3h0M103.2 97.9h0M118.8 99.0h0M120.5 99.4h0M161.8 99.3h0M88.4 102.3h0M94.6 101.8h0M106.8 100.2h0M123.6 100.4h0M59.3 106.4h0M123.9 105.4h0M133.0 109.8h0M138.3 110.4h0M75.1 111.0h0M125.8 112.7h0M78.1 115.4h0M115.5 117.6h0M77.1 121.1h0M88.7 120.7h0M108.7 120.9h0M166.0 120.8h0M78.0 123.0h0M87.6 122.1h0M82.8 127.0h0M65.5 128.0h0M72.9 129.1h0M75.2 127.6h0M147.8 127.6h0M153.8 128.5h0M55.9 135.2h0M68.3 133.7h0M135.1 133.3h0M104.4 140.3h0M121.8 144.6h0M105.3 147.2h0M118.4 147.0h0M145.4 147.2h0M81.4 154.2h0M156.4 156.7h0" stroke="#bccce8" stroke-width="2.8" stroke-linecap="round" stroke-opacity="0.8"/>
<path d="M62.5 91.4h0M73.7 96.2h0M104.2 95.0h0M154.2 94.5h0M84.5 98.8h0M86.4 98.2h0M56.1 104.2h0M149.6 102.7h0M73.0 112.5h0M88.8 112.4h0M119.0 111.8h0M79.7 114.8h0M126.0 117.2h0M83.2 121.1h0M84.9 123.3h0M94.8 123.0h0M126.8 122.9h0M133.9 126.3h0M56.4 128.4h0M156.9 127.5h0M60.9 130.6h0M96.4 130.2h0M105.4 131.8h0M60.4 139.0h0M122.2 139.3h0M157.7 140.6h0M97.2 142.6h0M136.5 145.7h0M154.0 145.0h0M91.9 148.3h0M163.0 148.4h0M122.8 150.7h0M76.4 152.1h0M121.2 153.7h0M93.0 157.9h0" stroke="#9cb6e0" stroke-width="2.3" stroke-linecap="round" stroke-opacity="0.8"/>
<path d="M72.8 90.5h0M116.0 91.1h0M149.5 93.2h0M97.9 95.4h0M48.8 98.3h0M51.3 97.3h0M59.0 100.3h0M112.7 100.7h0M67.5 104.6h0M70.0 107.4h0M102.9 106.6h0M54.4 114.5h0M140.8 118.0h0M59.0 121.3h0M117.5 120.2h0M110.9 122.7h0M153.3 123.0h0M51.4 124.9h0M77.7 126.0h0M122.0 128.5h0M92.5 137.6h0M142.7 135.6h0M106.3 140.3h0M112.5 140.6h0M130.2 143.9h0M64.5 146.9h0M151.9 147.1h0M135.2 151.4h0M127.0 152.8h0M65.9 155.2h0M109.6 157.0h0M155.3 156.6h0M150.5 158.3h0" stroke="#e4bcc6" stroke-width="2.3" stroke-linecap="round" stroke-opacity="0.8"/>
<path d="M91.1 89.0h0M119.4 89.7h0M69.9 93.3h0M146.2 93.5h0M93.4 96.2h0M107.1 96.2h0M130.4 96.1h0M128.5 98.9h0M136.7 101.3h0M154.3 100.5h0M116.2 104.2h0M137.1 102.9h0M57.5 108.6h0M68.7 110.5h0M71.2 108.4h0M152.1 110.4h0M160.7 112.0h0M162.2 114.1h0M139.6 118.0h0M152.9 121.4h0M109.1 124.8h0M48.9 130.5h0M81.6 130.8h0M163.2 130.7h0M150.7 133.0h0M73.3 137.8h0M91.2 138.4h0M70.4 142.5h0M80.6 142.5h0M129.8 142.0h0M82.2 144.1h0M110.9 146.0h0M157.5 146.0h0M55.6 148.2h0M138.7 151.6h0M55.6 153.4h0M92.8 152.5h0M60.5 159.7h0" stroke="#eed8dc" stroke-width="2.8" stroke-linecap="round" stroke-opacity="0.8"/>
<path d="M60.7 93.5h0M161.9 93.8h0M57.9 95.0h0M120.6 96.4h0M126.2 95.5h0M153.9 99.6h0M109.6 100.7h0M156.3 104.7h0M158.4 104.4h0M67.1 106.0h0M78.2 105.6h0M107.5 107.1h0M145.9 106.6h0M94.5 112.6h0M61.8 115.8h0M67.4 114.1h0M73.8 114.8h0M119.1 115.6h0M155.8 114.6h0M158.7 117.7h0M113.9 120.0h0M127.9 121.5h0M93.1 126.9h0M131.4 128.1h0M167.2 129.7h0M129.2 138.8h0M140.3 142.3h0M74.5 145.8h0M151.4 145.5h0M98.4 151.1h0M64.5 152.9h0M70.7 153.1h0M108.4 153.5h0M53.1 156.8h0M112.6 156.6h0M55.6 157.6h0M87.6 158.4h0M99.0 158.9h0M104.5 159.5h0" stroke="#a8c0e6" stroke-width="2.3" stroke-linecap="round" stroke-opacity="0.8"/>
<path d="M68.0 92.3h0M111.3 92.3h0M138.0 94.1h0M58.5 99.4h0M77.3 97.2h0M80.0 97.8h0M145.3 102.2h0M146.2 104.9h0M73.0 107.1h0M75.9 107.4h0M126.8 105.9h0M132.2 107.4h0M155.5 105.9h0M101.6 112.5h0M108.2 111.3h0M90.7 114.0h0M123.8 113.8h0M49.7 117.3h0M140.1 119.3h0M52.5 122.2h0M163.3 125.7h0M98.9 127.6h0M150.6 127.8h0M84.4 131.4h0M114.9 131.8h0M166.9 134.7h0M120.0 140.0h0M118.4 141.6h0M78.0 144.1h0M58.1 147.1h0M67.2 149.8h0M114.6 152.5h0M119.2 153.2h0M56.5 156.9h0M130.2 156.7h0M58.5 158.3h0" stroke="#9cb6e0" stroke-width="2.8" stroke-linecap="round" stroke-opacity="0.8"/>
<path d="M157.2 131.8h0M78.0 142.3h0M76.0 131.2h0M158.0 118.3h0M53.6 124.2h0M135.7 145.6h0M126.8 89.9h0M83.4 148.7h0M139.2 151.1h0M50.6 154.7h0M63.3 103.9h0M80.6 110.9h0M64.5 122.6h0M99.1 124.5h0M111.7 100.3h0M152.0 133.0h0M57.8 151.3h0M127.7 127.5h0" stroke="#6f96d0" stroke-width="2.0" stroke-linecap="round" stroke-opacity="0.7"/>
<path d="M76.9 95.6h0M100.3 155.7h0M71.6 95.8h0M139.8 89.3h0M141.2 97.1h0M61.1 145.4h0M70.7 104.6h0M164.8 115.2h0M130.9 123.8h0M157.7 104.6h0M94.6 95.1h0M148.5 103.6h0M94.3 102.7h0M129.0 146.4h0M139.8 135.6h0M112.2 137.0h0" stroke="#6f96d0" stroke-width="2.5" stroke-linecap="round" stroke-opacity="0.7"/>
<path d="M104.4 99.6h0M120.6 139.8h0M93.7 98.2h0M164.4 126.3h0M54.5 144.7h0M115.1 115.4h0M68.9 99.7h0M50.8 104.6h0M152.0 96.7h0M63.8 126.8h0M137.5 103.5h0M134.7 93.8h0M53.5 120.5h0" stroke="#7a9ed4" stroke-width="2.5" stroke-linecap="round" stroke-opacity="0.7"/>
<path d="M114.7 122.1h0M71.8 120.1h0M58.6 96.9h0M100.7 155.4h0M134.7 135.9h0M138.8 142.7h0M112.5 121.6h0M129.9 91.1h0M64.8 148.3h0M87.1 130.4h0M119.5 143.2h0M157.7 106.4h0M149.4 99.1h0M99.0 125.2h0" stroke="#6f96d0" stroke-width="3.0" stroke-linecap="round" stroke-opacity="0.7"/>
<path d="M101.5 143.8h0M139.7 115.2h0M148.6 97.1h0M50.7 154.9h0M162.8 102.8h0M134.9 127.4h0M85.0 149.6h0M108.3 109.7h0M67.3 94.2h0M139.0 105.1h0M160.8 114.1h0M131.4 137.6h0M80.7 133.8h0M158.2 119.0h0" stroke="#7a9ed4" stroke-width="3.0" stroke-linecap="round" stroke-opacity="0.7"/>
<path d="M76.6 144.9h0M103.4 153.8h0M96.7 127.8h0M137.0 112.1h0M91.5 130.5h0M115.9 140.3h0M138.8 93.9h0M110.5 146.4h0M100.3 97.6h0M67.5 146.9h0M101.9 153.5h0M125.7 144.8h0M52.3 145.1h0M98.2 106.0h0M154.5 117.9h0" stroke="#7a9ed4" stroke-width="2.0" stroke-linecap="round" stroke-opacity="0.7"/>
<path d="M62.5 121.4h0M135.5 122.0h0M106.3 154.7h0M140.2 136.8h0M76.1 147.8h0M116.2 103.0h0M98.7 123.0h0M62.1 101.0h0M163.5 131.8h0M58.7 131.3h0M50.7 112.7h0M105.6 125.1h0" stroke="#e8a8b0" stroke-width="1.0" stroke-linecap="round" stroke-opacity="0.7"/>
<path d="M100.8 154.0h0M155.6 113.7h0M104.2 147.0h0M69.6 110.0h0M146.3 95.3h0M86.5 129.1h0M148.5 134.5h0M126.3 136.6h0M163.2 132.8h0M86.0 113.8h0" stroke="#e48894" stroke-width="2.0" stroke-linecap="round" stroke-opacity="0.7"/>
<path d="M82.2 111.7h0M118.6 92.4h0M102.0 106.2h0M77.4 128.9h0M54.0 135.9h0M102.2 145.0h0M139.3 101.9h0M131.9 149.0h0M94.3 106.2h0M51.8 113.7h0M161.6 107.5h0M103.5 137.8h0" stroke="#f0c8cc" stroke-width="1.0" stroke-linecap="round" stroke-opacity="0.7"/>
<path d="M103.0 130.9h0M118.4 145.0h0M107.4 129.3h0M147.6 108.0h0M155.2 152.9h0M85.9 144.9h0M66.4 122.9h0M93.9 101.2h0M56.0 94.8h0M51.7 89.7h0M77.9 111.1h0M153.8 151.9h0M101.0 134.8h0M156.7 140.1h0M125.2 122.5h0M88.0 139.5h0M62.7 95.4h0M146.1 120.2h0M125.4 99.6h0M146.0 145.6h0M107.9 153.1h0M114.4 147.1h0M105.6 138.8h0" stroke="#e8a8b0" stroke-width="1.5" stroke-linecap="round" stroke-opacity="0.7"/>
<path d="M82.7 112.6h0M93.3 132.1h0M104.5 148.7h0M81.0 89.4h0M163.3 93.6h0M53.8 147.1h0M82.7 120.1h0M121.9 123.1h0M81.3 153.3h0M153.8 122.0h0M76.7 99.6h0M125.8 93.5h0M137.9 127.3h0M159.4 132.3h0" stroke="#e48894" stroke-width="1.5" stroke-linecap="round" stroke-opacity="0.7"/>
<path d="M65.7 102.8h0M152.9 103.9h0M138.2 95.7h0M80.0 99.1h0M61.4 139.3h0M60.3 115.8h0M141.2 140.1h0M154.7 93.7h0M117.1 110.5h0M112.7 151.7h0M100.4 123.2h0M133.9 127.9h0M109.9 97.7h0" stroke="#e48894" stroke-width="1.0" stroke-linecap="round" stroke-opacity="0.7"/>
<path d="M96.2 114.8h0M165.0 126.8h0M51.6 103.0h0M159.8 116.0h0M108.7 120.7h0M135.3 108.3h0M92.7 118.1h0M132.1 90.4h0M92.3 141.7h0M155.7 120.4h0M161.7 106.9h0M56.0 136.1h0M159.0 133.0h0M72.1 137.3h0M159.0 137.0h0M74.6 148.5h0" stroke="#f0c8cc" stroke-width="1.5" stroke-linecap="round" stroke-opacity="0.7"/>
<path d="M117.4 123.8h0M129.5 137.3h0M56.2 100.0h0M133.2 137.7h0M161.0 123.9h0M130.4 143.9h0M161.4 146.9h0M119.1 96.9h0M145.4 101.2h0M113.1 112.9h0M61.1 96.7h0M117.5 95.9h0M55.6 97.3h0M154.1 140.5h0M71.5 135.6h0M100.7 96.6h0M56.6 93.9h0M57.6 133.9h0M62.4 113.1h0M159.8 146.3h0M147.3 146.3h0M91.6 115.0h0" stroke="#e8a8b0" stroke-width="2.0" stroke-linecap="round" stroke-opacity="0.7"/>
<path d="M154.9 132.2h0M65.3 129.9h0M141.3 149.1h0M79.9 91.1h0M116.1 150.9h0M127.7 101.2h0M91.6 96.9h0M100.9 152.0h0M87.3 149.7h0M82.1 117.2h0M105.7 133.5h0M86.0 146.1h0M57.5 90.5h0M87.9 89.6h0M164.7 89.9h0M74.3 110.3h0M144.9 143.0h0M144.3 126.0h0" stroke="#f0c8cc" stroke-width="2.0" stroke-linecap="round" stroke-opacity="0.7"/>
<path d="M129.6 156.0h0M154.5 104.7h0" stroke="#d84050" stroke-width="1.8" stroke-linecap="round" stroke-opacity="0.85"/>
<path d="M111.1 94.7h0M108.0 96.3h0M153.1 122.0h0" stroke="#c83040" stroke-width="2.2" stroke-linecap="round" stroke-opacity="0.85"/>
<path d="M55.4 116.3h0M159.6 101.8h0M105.0 151.5h0" stroke="#d84050" stroke-width="2.6" stroke-linecap="round" stroke-opacity="0.85"/>
<path d="M55.7 132.5h0M90.2 144.4h0M155.7 103.4h0M138.2 125.4h0M59.0 115.8h0" stroke="#d84050" stroke-width="2.2" stroke-linecap="round" stroke-opacity="0.85"/>
<path d="M132.1 110.9h0M156.2 102.0h0M121.0 154.3h0M84.4 121.3h0M120.7 148.4h0M103.5 135.9h0M86.1 155.5h0" stroke="#c83040" stroke-width="1.8" stroke-linecap="round" stroke-opacity="0.85"/>
<path d="M76.1 128.1h0M143.3 134.3h0" stroke="#c83040" stroke-width="2.6" stroke-linecap="round" stroke-opacity="0.85"/>
</g></g>
<clipPath id="c6"><rect x="50.9" y="125.9" width="32.2" height="29.3"/></clipPath>
<g clip-path="url(#c6)"><g filter="url(#bl)"><rect x="47.9" y="122.9" width="38.2" height="35.3" fill="#f2efe8"/>
<path d="M57.7 129.7h0M81.9 151.5h0M75.7 127.6h0M81.0 148.1h0M79.7 150.1h0" stroke="#98a4dc" stroke-width="3.5" stroke-linecap="round" stroke-opacity="0.75"/>
<path d="M51.7 129.7h0" stroke="#6a78c8" stroke-width="3.5" stroke-linecap="round" stroke-opacity="0.75"/>
<path d="M70.7 144.1h0M64.0 128.1h0" stroke="#b8c0e4" stroke-width="2.5" stroke-linecap="round" stroke-opacity="0.75"/>
<path d="M64.6 130.2h0M68.4 136.4h0M60.4 145.9h0" stroke="#b8c0e4" stroke-width="3.5" stroke-linecap="round" stroke-opacity="0.75"/>
<path d="M57.4 134.1h0M73.2 142.1h0M75.8 145.2h0M52.3 139.2h0M66.4 128.3h0M61.8 150.0h0" stroke="#b8c0e4" stroke-width="4.5" stroke-linecap="round" stroke-opacity="0.75"/>
<path d="M69.6 148.4h0M69.6 136.1h0" stroke="#6a78c8" stroke-width="2.5" stroke-linecap="round" stroke-opacity="0.75"/>
<path d="M77.6 132.0h0" stroke="#98a4dc" stroke-width="4.5" stroke-linecap="round" stroke-opacity="0.75"/>
<path d="M56.9 134.9h0M52.6 145.5h0M81.7 140.2h0M66.8 127.7h0" stroke="#7c88d0" stroke-width="2.5" stroke-linecap="round" stroke-opacity="0.75"/>
<path d="M57.9 130.0h0M51.6 130.7h0" stroke="#7c88d0" stroke-width="4.5" stroke-linecap="round" stroke-opacity="0.75"/>
<path d="M81.2 137.4h0M74.6 130.7h0M72.2 141.2h0" stroke="#7c88d0" stroke-width="3.5" stroke-linecap="round" stroke-opacity="0.75"/>
<path d="M77.8 139.8h0" stroke="#98a4dc" stroke-width="2.5" stroke-linecap="round" stroke-opacity="0.75"/>
<path d="M76.7 139.2h0M75.4 141.8h0M67.5 147.2h0" stroke="#f0d8d8" stroke-width="2.5" stroke-linecap="round" stroke-opacity="0.8"/>
<path d="M76.5 145.1h0M78.0 128.5h0" stroke="#e0c0c8" stroke-width="2.0" stroke-linecap="round" stroke-opacity="0.8"/>
<path d="M82.4 133.0h0M51.7 136.5h0M64.3 131.4h0" stroke="#e0c0c8" stroke-width="3.0" stroke-linecap="round" stroke-opacity="0.8"/>
<path d="M55.2 148.0h0M73.8 148.7h0M78.5 131.4h0" stroke="#f0d8d8" stroke-width="3.0" stroke-linecap="round" stroke-opacity="0.8"/>
<path d="M54.0 128.6h0" stroke="#e0c0c8" stroke-width="2.5" stroke-linecap="round" stroke-opacity="0.8"/>
<path d="M75.0 149.5h0M60.6 151.3h0" stroke="#f0d8d8" stroke-width="2.0" stroke-linecap="round" stroke-opacity="0.8"/>
<circle cx="63.7" cy="138" r="4.2" fill="#e898a8" fill-opacity="0.5"/><circle cx="63.7" cy="138" r="2.9" fill="#d03048" fill-opacity="0.85"/><circle cx="62.8" cy="137" r="0.9" fill="#f0c8d0"/>
<circle cx="61.5" cy="148.6" r="3.7" fill="#e898a8" fill-opacity="0.5"/><circle cx="61.5" cy="148.6" r="2.6" fill="#c82848" fill-opacity="0.85"/><circle cx="63.5" cy="150.5" r="1.5" fill="#5040a0" fill-opacity="0.8"/>
</g></g>
<rect x="50.9" y="125.9" width="32.2" height="29.3" fill="none" stroke="#1a1a1a" stroke-width="1.3"/>
<clipPath id="c7"><rect x="167" y="89" width="109" height="67"/></clipPath>
<g clip-path="url(#c7)"><g filter="url(#bl)"><rect x="164" y="86" width="115" height="73" fill="#f1f2f5"/>
<path d="M165.1 87.5h0M236.5 87.1h0M267.5 89.5h0M194.8 92.6h0M250.3 92.9h0M252.6 95.4h0M267.9 95.9h0M196.6 100.5h0M201.6 99.8h0M216.9 99.7h0M186.6 103.2h0M195.0 103.3h0M198.4 102.7h0M172.6 105.3h0M186.9 106.2h0M214.6 105.9h0M223.5 105.8h0M207.3 108.6h0M240.0 108.3h0M234.7 110.5h0M165.3 113.5h0M168.4 113.7h0M230.4 113.2h0M244.2 115.3h0M270.5 115.5h0M200.2 117.9h0M206.3 118.5h0M230.3 117.9h0M216.6 121.0h0M270.9 121.4h0M255.6 125.4h0M275.4 125.7h0M186.0 129.2h0M194.9 129.3h0M215.4 128.4h0M242.9 130.6h0M252.1 131.0h0M213.3 133.4h0M227.5 134.5h0M166.4 135.8h0M189.8 137.0h0M193.9 135.6h0M220.0 136.1h0M268.5 138.7h0M242.9 143.8h0M190.4 146.1h0M237.3 147.0h0M275.4 146.0h0M203.5 148.9h0M237.8 151.1h0M227.6 155.1h0M232.9 153.7h0M260.3 153.5h0M265.5 154.9h0M255.9 157.2h0" stroke="#b4d0e2" stroke-width="2.4" stroke-linecap="round" stroke-opacity="0.82"/>
<path d="M168.7 87.5h0M216.1 86.7h0M191.0 90.0h0M223.7 90.5h0M177.3 91.9h0M207.1 92.4h0M218.1 92.8h0M223.8 92.7h0M236.8 92.4h0M208.3 94.5h0M241.1 94.5h0M246.6 95.8h0M174.5 98.1h0M236.0 98.1h0M266.6 100.5h0M166.5 105.0h0M268.1 105.7h0M164.9 107.3h0M198.4 108.6h0M236.7 108.0h0M175.6 110.4h0M238.1 111.2h0M266.5 113.0h0M271.7 113.1h0M233.3 117.9h0M170.0 121.3h0M187.8 121.0h0M243.4 121.6h0M166.0 123.6h0M239.5 124.1h0M276.9 122.8h0M187.7 125.6h0M196.4 125.6h0M243.7 125.8h0M249.9 126.5h0M218.5 128.7h0M263.4 128.8h0M219.7 131.6h0M240.4 130.9h0M198.1 133.7h0M215.9 134.2h0M198.8 136.5h0M211.3 135.8h0M223.8 136.5h0M264.2 135.6h0M179.8 138.2h0M184.0 138.4h0M221.8 138.5h0M207.7 147.0h0M246.2 146.2h0M255.5 147.2h0M191.9 148.8h0M220.9 149.1h0M211.9 151.9h0M185.8 154.3h0M212.3 153.8h0M215.4 154.8h0M253.3 154.4h0M262.7 153.7h0M175.9 157.5h0" stroke="#78aecc" stroke-width="2.0" stroke-linecap="round" stroke-opacity="0.82"/>
<path d="M171.1 87.6h0M203.3 88.1h0M251.4 87.5h0M252.6 90.8h0M222.1 93.1h0M231.2 92.1h0M215.0 94.5h0M228.8 95.7h0M234.7 95.6h0M249.8 95.7h0M269.5 95.9h0M215.8 98.2h0M262.1 100.3h0M167.9 103.5h0M253.9 103.1h0M221.6 107.3h0M180.2 113.8h0M241.8 113.0h0M217.6 115.1h0M240.4 115.7h0M189.2 119.0h0M242.7 119.0h0M259.7 117.9h0M171.0 124.0h0M274.9 129.0h0M189.8 131.8h0M247.1 131.3h0M255.1 131.2h0M238.6 136.4h0M224.9 139.0h0M173.3 142.0h0M202.8 140.8h0M246.5 142.2h0M258.6 141.0h0M180.6 144.4h0M274.1 143.3h0M167.8 146.1h0M204.8 152.3h0M248.3 154.5h0M181.9 157.4h0M211.5 157.4h0M231.3 156.8h0M259.2 156.3h0" stroke="#8cb8d4" stroke-width="2.0" stroke-linecap="round" stroke-opacity="0.82"/>
<path d="M173.7 87.3h0M191.6 87.9h0M212.2 86.8h0M221.6 88.3h0M226.7 90.2h0M250.1 90.2h0M227.0 93.3h0M233.9 92.0h0M239.6 92.7h0M179.5 94.6h0M244.4 95.4h0M233.5 97.8h0M270.9 98.1h0M229.6 100.1h0M232.1 99.6h0M215.7 102.4h0M277.5 103.0h0M174.8 107.7h0M222.8 110.6h0M194.9 113.7h0M172.5 116.1h0M179.0 115.6h0M262.8 117.8h0M274.0 117.9h0M272.5 123.9h0M217.9 125.6h0M234.8 126.6h0M247.1 125.9h0M184.0 128.8h0M233.0 129.1h0M266.1 128.7h0M180.6 133.3h0M263.4 133.6h0M246.8 135.7h0M267.8 136.6h0M212.2 139.6h0M229.9 138.1h0M205.5 140.8h0M217.0 141.2h0M261.0 141.0h0M165.6 144.6h0M257.4 143.8h0M277.2 144.1h0M206.0 146.7h0M234.9 146.8h0M186.1 148.5h0M213.1 149.0h0M227.6 149.1h0M264.9 151.6h0M250.0 156.3h0" stroke="#e8d8de" stroke-width="2.0" stroke-linecap="round" stroke-opacity="0.82"/>
<path d="M176.6 87.2h0M244.5 86.7h0M277.7 88.3h0M217.3 89.9h0M258.4 89.7h0M165.5 93.1h0M244.6 93.1h0M260.6 92.9h0M262.9 91.9h0M190.0 95.9h0M226.3 94.9h0M261.6 94.8h0M265.0 95.2h0M244.8 97.3h0M254.9 106.1h0M258.4 104.7h0M213.0 107.7h0M256.8 108.5h0M266.6 108.7h0M202.2 110.6h0M191.0 115.2h0M258.2 116.4h0M181.1 118.7h0M248.5 117.9h0M178.2 121.2h0M197.1 121.6h0M205.1 121.2h0M262.0 121.4h0M189.7 123.2h0M213.8 126.6h0M220.3 125.7h0M260.7 128.6h0M194.3 131.1h0M219.3 133.4h0M229.6 133.8h0M203.1 135.7h0M194.3 138.5h0M201.0 138.9h0M175.5 141.3h0M241.2 141.5h0M168.3 144.5h0M173.9 144.0h0M250.5 144.7h0M263.5 144.6h0M195.7 146.8h0M252.1 147.3h0M166.1 148.7h0M168.1 148.9h0M209.0 149.3h0M241.6 148.7h0M166.7 151.1h0M175.1 151.1h0M220.6 150.9h0M246.0 152.2h0M255.1 151.4h0M171.2 154.6h0M185.5 156.3h0M192.8 156.7h0" stroke="#80b2d0" stroke-width="2.4" stroke-linecap="round" stroke-opacity="0.82"/>
<path d="M180.0 88.2h0M194.9 87.2h0M260.3 88.3h0M174.5 92.8h0M215.0 92.3h0M275.3 93.0h0M184.8 94.5h0M211.1 94.6h0M276.7 95.3h0M181.9 100.8h0M190.0 100.0h0M225.3 100.6h0M224.0 103.4h0M230.2 103.4h0M248.1 107.5h0M257.7 111.2h0M267.4 110.7h0M181.5 115.7h0M177.2 118.8h0M272.0 118.9h0M191.2 121.2h0M268.0 120.5h0M203.9 123.9h0M206.9 122.7h0M242.8 123.6h0M257.1 122.8h0M199.7 125.7h0M205.8 126.7h0M208.1 126.7h0M264.8 126.2h0M171.1 129.2h0M251.4 128.4h0M271.2 128.0h0M202.4 130.9h0M209.0 130.5h0M237.1 131.5h0M176.6 133.3h0M194.2 133.5h0M254.2 133.6h0M278.3 133.2h0M253.1 135.6h0M181.7 141.7h0M183.7 144.5h0M249.4 147.2h0M250.6 149.4h0M226.2 151.1h0M229.0 151.9h0M242.9 152.1h0M257.8 151.8h0M261.1 151.7h0M188.9 153.8h0M236.2 154.6h0M191.1 157.5h0" stroke="#a0c4dc" stroke-width="2.8" stroke-linecap="round" stroke-opacity="0.82"/>
<path d="M183.4 86.9h0M202.1 90.5h0M246.0 89.7h0M256.1 90.7h0M273.4 90.4h0M276.8 90.5h0M188.8 93.2h0M257.6 92.4h0M180.8 97.4h0M212.0 102.8h0M263.1 102.4h0M272.4 103.6h0M202.0 104.9h0M228.7 104.8h0M249.1 105.8h0M179.6 108.5h0M230.5 108.8h0M278.2 108.9h0M232.5 110.9h0M252.9 115.8h0M184.9 121.6h0M208.2 121.4h0M167.7 123.4h0M175.1 123.2h0M186.8 122.8h0M197.9 123.2h0M245.0 128.3h0M269.5 128.3h0M184.2 131.0h0M260.7 131.7h0M272.9 136.5h0M257.3 139.1h0M277.8 139.2h0M185.4 141.4h0M243.5 140.9h0M213.0 144.6h0M219.3 144.0h0M169.4 146.5h0M172.9 146.9h0M193.0 146.1h0M229.7 149.5h0M262.6 148.5h0M199.5 151.2h0M240.8 152.1h0M252.1 151.3h0M210.1 154.9h0M224.0 155.0h0M223.8 156.7h0" stroke="#80b2d0" stroke-width="2.0" stroke-linecap="round" stroke-opacity="0.82"/>
<path d="M185.5 87.6h0M207.4 88.3h0M265.8 86.9h0M275.2 88.3h0M185.0 90.9h0M228.7 90.5h0M172.3 95.9h0M205.8 94.6h0M220.2 95.0h0M168.9 97.7h0M275.5 98.1h0M176.6 100.0h0M199.8 100.1h0M274.0 100.6h0M206.9 103.3h0M210.4 103.0h0M227.6 103.3h0M260.3 103.1h0M183.8 107.9h0M201.6 108.1h0M182.4 111.0h0M247.7 113.5h0M166.6 115.6h0M197.1 115.0h0M220.3 115.2h0M235.6 116.1h0M246.4 116.5h0M267.2 116.5h0M204.3 118.7h0M272.6 120.4h0M192.8 123.6h0M172.1 130.5h0M199.2 131.3h0M188.3 137.0h0M215.0 136.0h0M247.7 139.0h0M179.5 141.9h0M209.0 142.2h0M189.7 144.8h0M175.3 146.4h0M217.0 146.9h0M273.3 146.7h0M173.8 149.3h0M209.0 152.4h0M239.0 154.0h0M204.7 157.2h0" stroke="#68a2c6" stroke-width="2.8" stroke-linecap="round" stroke-opacity="0.82"/>
<path d="M189.3 88.2h0M200.7 87.5h0M225.2 88.2h0M170.3 90.4h0M214.7 89.8h0M231.3 90.7h0M166.7 94.7h0M188.2 94.5h0M182.9 98.3h0M169.3 100.8h0M266.0 103.2h0M268.0 103.7h0M194.0 106.1h0M246.0 104.9h0M185.5 108.8h0M263.5 108.2h0M186.3 112.9h0M187.0 118.4h0M192.4 118.0h0M194.3 118.9h0M210.0 117.7h0M244.6 118.6h0M175.7 120.3h0M202.7 121.4h0M244.5 123.0h0M268.2 123.9h0M178.1 125.8h0M173.8 129.2h0M213.4 128.4h0M221.2 128.1h0M214.1 130.6h0M226.2 131.5h0M270.9 131.9h0M191.8 133.5h0M266.2 133.8h0M275.1 133.7h0M226.3 135.8h0M250.3 136.4h0M270.7 136.8h0M228.0 139.3h0M186.5 143.9h0M245.3 144.1h0M270.2 146.1h0M277.7 149.7h0M173.0 151.4h0M217.0 157.1h0" stroke="#80b2d0" stroke-width="2.8" stroke-linecap="round" stroke-opacity="0.82"/>
<path d="M198.4 87.9h0M199.6 90.4h0M186.2 92.7h0M210.4 92.3h0M255.6 96.0h0M185.5 98.2h0M209.5 97.9h0M212.1 98.1h0M234.8 100.4h0M241.4 100.0h0M276.6 101.1h0M242.1 102.7h0M235.6 106.1h0M219.2 108.0h0M223.9 108.3h0M245.0 108.4h0M207.7 110.1h0M217.4 110.0h0M264.7 110.1h0M270.6 111.1h0M210.2 112.5h0M199.5 115.0h0M224.0 118.2h0M256.4 118.6h0M166.5 121.3h0M221.0 123.5h0M172.7 125.4h0M193.8 125.3h0M225.4 125.6h0M253.6 128.3h0M188.2 131.0h0M181.3 136.0h0M235.9 138.1h0M241.7 138.6h0M245.9 139.2h0M265.2 139.0h0M275.1 138.7h0M252.2 141.1h0M255.3 141.8h0M259.6 144.4h0M201.9 147.2h0M180.6 148.9h0M195.3 149.9h0M225.1 149.2h0M254.1 149.1h0M182.4 152.1h0M198.0 153.5h0M207.4 153.8h0M179.2 156.9h0M187.4 156.2h0M246.6 156.6h0" stroke="#68a2c6" stroke-width="2.0" stroke-linecap="round" stroke-opacity="0.82"/>
<path d="M218.0 87.5h0M244.3 90.7h0M179.7 92.3h0M191.6 97.4h0M256.4 97.9h0M265.7 97.7h0M210.7 101.1h0M171.3 103.4h0M176.8 102.7h0M204.3 102.3h0M207.9 105.1h0M211.8 106.2h0M274.0 110.9h0M218.2 113.5h0M224.8 113.0h0M262.5 113.4h0M208.8 116.1h0M229.2 115.1h0M218.2 119.1h0M226.3 121.0h0M238.2 120.3h0M180.3 124.2h0M200.2 123.2h0M253.6 122.8h0M176.3 125.9h0M192.2 128.9h0M167.7 130.8h0M211.4 131.5h0M200.6 133.6h0M173.3 136.0h0M217.5 136.6h0M176.6 139.4h0M190.5 141.7h0M199.9 142.0h0M229.2 141.0h0M229.6 147.2h0M171.1 149.7h0M170.7 151.2h0M165.7 154.9h0M192.1 154.8h0M201.3 153.7h0M173.3 157.0h0M264.1 156.9h0" stroke="#68a2c6" stroke-width="2.4" stroke-linecap="round" stroke-opacity="0.82"/>
<path d="M226.9 87.2h0M237.7 89.7h0M241.3 90.8h0M172.0 93.0h0M183.2 92.3h0M200.2 92.4h0M268.3 92.9h0M170.1 95.7h0M167.2 100.6h0M208.3 100.1h0M214.7 100.0h0M221.5 102.9h0M270.7 105.5h0M170.4 110.3h0M244.2 110.2h0M215.0 113.7h0M236.8 113.2h0M212.7 118.3h0M250.5 118.8h0M199.5 120.8h0M211.4 121.2h0M209.8 123.2h0M201.8 126.2h0M261.1 126.4h0M210.0 129.1h0M236.4 128.5h0M223.2 130.8h0M204.6 133.2h0M248.5 133.1h0M259.7 133.0h0M231.8 136.3h0M261.3 136.6h0M166.2 139.4h0M217.9 139.6h0M220.7 141.0h0M223.7 140.9h0M270.9 141.8h0M177.7 144.1h0M181.1 146.6h0M220.0 146.4h0M243.0 147.2h0M177.3 149.3h0M256.3 149.4h0M266.3 148.6h0M202.1 152.0h0M231.1 151.2h0M276.9 152.3h0M202.3 156.7h0M270.7 156.2h0" stroke="#8cb8d4" stroke-width="2.8" stroke-linecap="round" stroke-opacity="0.82"/>
<path d="M230.6 87.2h0M233.9 86.9h0M268.6 86.8h0M220.9 90.3h0M271.8 93.0h0M194.0 94.7h0M217.2 96.0h0M231.9 95.6h0M178.0 98.1h0M224.9 98.5h0M246.5 100.4h0M218.6 103.7h0M196.3 105.2h0M261.9 104.7h0M273.9 106.1h0M260.5 108.3h0M271.6 107.8h0M197.1 111.0h0M228.7 110.7h0M252.5 111.0h0M192.1 113.6h0M212.3 112.8h0M175.1 115.9h0M165.2 117.5h0M171.8 117.6h0M193.2 120.6h0M257.9 120.5h0M263.6 120.3h0M218.8 123.3h0M211.2 126.3h0M267.2 126.8h0M180.1 128.0h0M234.3 131.3h0M168.4 133.9h0M235.0 135.7h0M258.6 135.9h0M197.9 138.8h0M187.9 141.2h0M196.5 141.4h0M214.8 141.5h0M171.8 144.7h0M200.4 144.1h0M247.6 144.2h0M199.1 145.9h0M213.8 147.1h0M267.9 147.2h0M198.6 149.4h0M206.1 149.9h0M178.5 151.1h0M194.0 151.5h0M178.1 153.8h0M194.9 153.7h0M267.3 156.3h0" stroke="#e8d8de" stroke-width="2.4" stroke-linecap="round" stroke-opacity="0.82"/>
<path d="M240.0 87.1h0M248.6 88.3h0M210.7 90.7h0M269.8 90.1h0M198.6 93.1h0M265.6 92.5h0M278.2 91.9h0M196.3 96.0h0M237.0 94.7h0M165.6 97.9h0M189.0 97.8h0M206.8 98.6h0M230.3 98.1h0M238.6 98.0h0M278.2 97.2h0M219.5 99.9h0M222.8 100.1h0M255.5 99.8h0M248.2 103.6h0M244.3 105.1h0M168.5 108.8h0M179.3 110.2h0M205.2 111.3h0M246.1 110.7h0M249.1 110.8h0M255.8 110.1h0M276.3 111.0h0M257.0 112.5h0M276.5 115.6h0M213.9 121.0h0M276.3 120.6h0M177.8 122.9h0M194.8 123.3h0M233.1 122.8h0M229.2 125.6h0M189.1 128.2h0M197.8 128.1h0M186.1 133.5h0M189.1 133.9h0M271.9 134.1h0M178.4 136.8h0M243.2 135.5h0M192.2 144.6h0M210.1 144.1h0M211.0 146.5h0M258.5 147.0h0M215.2 149.4h0M188.2 151.8h0M222.0 153.7h0M257.5 153.9h0M225.3 156.1h0" stroke="#8cb8d4" stroke-width="2.4" stroke-linecap="round" stroke-opacity="0.82"/>
<path d="M242.8 87.0h0M179.3 89.3h0M193.8 90.6h0M234.6 89.5h0M191.8 92.1h0M262.6 98.1h0M184.4 99.9h0M193.4 100.4h0M188.5 103.5h0M236.4 103.2h0M169.6 105.2h0M217.0 105.0h0M237.9 105.4h0M189.0 108.7h0M254.1 107.6h0M274.3 107.8h0M214.4 110.5h0M183.2 113.8h0M238.8 112.5h0M210.8 115.4h0M222.3 115.6h0M226.1 115.7h0M216.3 117.7h0M238.8 117.6h0M215.8 122.8h0M260.7 124.0h0M191.3 126.4h0M232.4 126.7h0M258.3 125.7h0M241.9 127.9h0M175.3 130.4h0M181.4 130.8h0M249.5 130.6h0M272.7 131.1h0M208.3 136.1h0M174.5 138.6h0M191.5 138.9h0M272.3 138.3h0M237.1 141.4h0M222.3 152.2h0M271.6 154.2h0M169.7 157.4h0M209.1 156.3h0M220.6 156.7h0M261.0 157.2h0" stroke="#e8d8de" stroke-width="2.8" stroke-linecap="round" stroke-opacity="0.82"/>
<path d="M254.2 87.9h0M204.9 90.1h0M265.0 90.5h0M200.8 97.8h0M250.4 98.5h0M254.0 97.4h0M245.7 102.2h0M251.5 103.3h0M257.3 102.6h0M241.0 105.4h0M265.1 106.0h0M178.1 107.7h0M184.1 111.3h0M220.2 110.4h0M188.4 112.6h0M204.5 112.9h0M169.6 115.3h0M193.6 115.5h0M202.5 115.2h0M250.3 115.2h0M168.4 118.7h0M212.1 123.1h0M224.3 123.0h0M274.0 122.9h0M237.8 126.2h0M228.2 128.1h0M256.6 128.8h0M278.1 128.6h0M196.2 131.2h0M209.5 134.1h0M221.8 134.4h0M239.5 134.0h0M241.6 134.4h0M239.1 138.2h0M222.1 144.7h0M234.1 144.2h0M188.1 146.3h0M238.8 149.2h0M268.2 149.7h0M184.0 151.7h0M234.1 152.1h0M267.8 151.6h0M270.1 152.1h0M168.0 154.9h0M174.6 154.5h0M229.8 154.2h0M195.8 157.1h0" stroke="#78aecc" stroke-width="2.8" stroke-linecap="round" stroke-opacity="0.82"/>
<path d="M256.6 87.9h0M242.5 93.1h0M273.9 94.8h0M198.3 97.2h0M269.4 97.5h0M174.9 103.6h0M205.3 105.0h0M220.1 104.8h0M233.8 108.4h0M242.7 108.8h0M191.0 111.3h0M193.7 109.9h0M200.0 110.0h0M177.1 112.7h0M254.8 113.8h0M276.9 113.2h0M213.7 115.1h0M273.7 115.8h0M197.7 118.4h0M228.6 120.4h0M234.2 120.9h0M246.8 121.6h0M250.9 123.6h0M167.0 126.7h0M169.6 125.4h0M252.5 126.5h0M273.2 125.9h0M224.6 128.6h0M247.8 128.1h0M224.9 133.2h0M170.3 136.8h0M205.0 136.1h0M232.8 139.4h0M193.7 140.9h0M249.6 141.8h0M194.6 144.5h0M207.4 143.7h0M225.3 144.3h0M238.8 143.9h0M185.5 146.8h0M219.1 149.0h0M236.9 148.5h0M274.1 148.7h0M272.7 152.1h0M218.6 153.7h0M277.6 154.7h0M229.2 157.1h0" stroke="#b4d0e2" stroke-width="2.8" stroke-linecap="round" stroke-opacity="0.82"/>
<path d="M262.9 87.6h0M167.1 90.8h0M203.3 92.9h0M199.7 94.4h0M195.8 98.4h0M218.5 97.3h0M172.2 101.0h0M179.5 100.3h0M187.1 100.8h0M243.5 101.1h0M253.2 105.8h0M191.6 108.5h0M268.6 108.0h0M167.3 110.6h0M264.8 115.6h0M221.1 118.4h0M254.4 118.2h0M265.4 118.9h0M226.9 123.1h0M201.1 128.0h0M229.5 130.5h0M276.1 130.8h0M245.9 133.0h0M185.3 135.9h0M188.7 138.2h0M215.6 139.4h0M212.0 141.7h0M225.5 141.0h0M271.9 144.1h0M226.0 146.2h0M248.0 148.8h0M250.6 153.7h0M269.0 154.0h0M214.0 156.5h0M234.8 156.0h0" stroke="#a0c4dc" stroke-width="2.0" stroke-linecap="round" stroke-opacity="0.82"/>
<path d="M272.2 87.8h0M173.2 89.3h0M182.3 89.7h0M176.3 95.4h0M259.2 95.5h0M259.1 97.2h0M205.8 100.8h0M165.9 103.1h0M179.7 102.2h0M192.2 103.4h0M190.6 105.7h0M231.3 105.8h0M195.6 107.8h0M187.5 110.7h0M226.7 110.5h0M170.7 113.2h0M174.2 113.2h0M227.7 113.8h0M233.6 113.1h0M274.6 113.6h0M237.2 115.7h0M261.6 115.1h0M175.1 118.9h0M183.2 118.5h0M236.1 118.0h0M222.8 120.7h0M240.1 120.4h0M252.7 121.6h0M255.6 121.6h0M265.5 122.9h0M181.6 126.5h0M223.4 126.3h0M241.1 126.3h0M230.7 128.4h0M239.3 129.4h0M170.6 131.7h0M174.8 133.7h0M183.4 133.5h0M276.3 137.1h0M186.2 138.5h0M206.7 138.5h0M251.0 138.3h0M260.6 138.9h0M262.7 139.6h0M223.8 146.7h0M232.1 147.2h0M263.7 146.7h0M200.7 148.9h0M217.4 152.5h0M249.7 152.4h0M241.3 156.4h0M275.9 156.3h0" stroke="#a0c4dc" stroke-width="2.4" stroke-linecap="round" stroke-opacity="0.82"/>
<path d="M175.4 90.0h0M261.2 90.0h0M168.5 92.2h0M203.9 97.3h0M222.1 97.9h0M248.6 97.5h0M238.1 100.6h0M258.8 100.6h0M270.7 100.1h0M234.2 102.6h0M176.1 104.9h0M179.2 104.9h0M184.6 104.8h0M171.7 107.6h0M210.5 108.3h0M215.8 108.0h0M172.6 109.8h0M240.4 110.1h0M201.6 112.4h0M207.3 113.3h0M245.4 113.4h0M259.9 113.7h0M205.9 116.2h0M255.1 115.6h0M173.4 120.5h0M181.3 121.2h0M220.8 120.4h0M249.4 121.6h0M248.1 124.0h0M270.6 126.1h0M166.2 128.3h0M168.5 129.3h0M176.9 128.0h0M206.7 128.4h0M178.1 130.5h0M264.5 130.7h0M267.9 131.4h0M165.5 134.3h0M207.5 133.3h0M251.5 133.3h0M240.7 135.7h0M209.3 139.1h0M167.7 141.8h0M169.9 141.1h0M231.4 140.7h0M268.0 141.1h0M203.7 143.8h0M215.3 143.4h0M227.3 144.7h0M265.3 143.6h0M188.7 149.0h0M271.4 149.0h0M196.1 151.1h0M183.2 153.9h0M275.2 153.9h0M167.4 156.5h0M251.9 156.1h0M274.0 156.8h0" stroke="#78aecc" stroke-width="2.4" stroke-linecap="round" stroke-opacity="0.82"/>
<path d="M197.0 90.7h0M212.2 93.4h0M247.6 92.7h0M249.6 101.2h0M263.8 99.8h0M240.1 102.7h0M181.1 106.2h0M198.8 106.2h0M225.7 105.9h0M203.1 108.3h0M228.0 108.6h0M251.4 107.6h0M251.4 113.7h0M185.0 116.3h0M278.3 118.9h0M230.1 123.2h0M263.5 123.2h0M204.0 128.3h0M217.5 131.3h0M232.1 131.0h0M258.1 130.7h0M171.9 133.3h0M233.8 134.2h0M235.6 134.4h0M196.0 136.9h0M171.1 139.4h0M203.8 139.6h0M254.6 138.9h0M253.7 143.2h0M245.3 149.6h0M259.9 148.7h0M203.8 154.7h0M241.6 154.1h0M199.0 157.1h0M238.3 157.3h0M243.5 157.2h0" stroke="#b4d0e2" stroke-width="2.0" stroke-linecap="round" stroke-opacity="0.82"/>
<path d="M256.7 103.0h0M237.4 131.3h0M179.0 111.8h0M268.2 152.4h0M214.5 102.5h0M225.2 97.6h0M210.3 114.3h0M270.7 97.4h0M200.2 120.6h0M270.6 143.7h0M219.8 125.8h0M254.2 128.3h0M246.2 141.0h0M269.7 108.6h0M192.4 147.4h0M210.3 139.4h0M272.6 131.1h0M238.7 96.5h0M240.9 153.8h0M248.7 98.6h0M182.6 90.3h0M256.4 93.2h0M252.0 105.0h0M232.0 114.5h0M185.8 93.7h0M222.9 101.5h0M230.6 117.5h0M169.7 136.0h0" stroke="#f0d0d8" stroke-width="2.0" stroke-linecap="round" stroke-opacity="0.7"/>
<path d="M207.7 113.7h0M227.5 125.6h0M270.7 104.4h0M183.4 110.0h0M240.4 120.3h0M268.5 147.4h0M182.3 132.6h0M268.8 128.7h0M215.7 96.1h0M179.1 102.4h0M250.1 136.9h0M247.8 117.9h0M220.5 92.6h0" stroke="#f0d0d8" stroke-width="1.5" stroke-linecap="round" stroke-opacity="0.7"/>
<path d="M237.6 146.0h0M220.3 107.1h0M255.2 150.8h0M172.7 134.3h0M169.3 131.5h0M184.7 155.1h0M202.1 110.3h0M222.2 113.6h0M233.5 105.6h0M168.8 90.4h0M221.4 94.3h0M202.1 101.9h0M235.9 98.6h0M275.2 119.4h0M244.0 134.8h0M246.3 96.1h0M231.4 106.9h0M211.1 144.8h0M266.7 120.3h0" stroke="#f0d0d8" stroke-width="1.0" stroke-linecap="round" stroke-opacity="0.7"/>
<circle cx="203" cy="114" r="1.3" fill="#c04050" fill-opacity="0.75"/><circle cx="171" cy="122" r="1.2" fill="#c04050" fill-opacity="0.7"/>
</g></g>
<clipPath id="c8"><rect x="167.6" y="125.9" width="31.8" height="29.3"/></clipPath>
<g clip-path="url(#c8)"><g filter="url(#bl)"><rect x="164.6" y="122.9" width="37.8" height="35.3" fill="#f4f0ea"/>
<path d="M173.6 137.2h0M193.0 127.6h0M196.7 140.1h0" stroke="#98c0dc" stroke-width="2.5" stroke-linecap="round" stroke-opacity="0.7"/>
<path d="M177.2 134.8h0M187.8 135.2h0M181.9 130.0h0M181.4 139.6h0" stroke="#98c0dc" stroke-width="3.25" stroke-linecap="round" stroke-opacity="0.7"/>
<path d="M187.2 144.8h0M182.8 146.9h0M175.8 145.7h0" stroke="#b0d0e4" stroke-width="2.5" stroke-linecap="round" stroke-opacity="0.7"/>
<path d="M187.5 145.9h0M180.5 126.9h0" stroke="#b0d0e4" stroke-width="3.25" stroke-linecap="round" stroke-opacity="0.7"/>
<path d="M188.3 138.2h0" stroke="#f0dcdc" stroke-width="2.5" stroke-linecap="round" stroke-opacity="0.7"/>
<path d="M168.8 138.0h0M174.8 145.5h0M178.8 149.4h0" stroke="#b0d0e4" stroke-width="4.0" stroke-linecap="round" stroke-opacity="0.7"/>
<path d="M177.3 129.9h0" stroke="#f0dcdc" stroke-width="3.25" stroke-linecap="round" stroke-opacity="0.7"/>
<path d="M184.4 147.3h0" stroke="#98c0dc" stroke-width="4.0" stroke-linecap="round" stroke-opacity="0.7"/>
<g fill="#a8cce0" stroke="#5a9cc8" stroke-width="1.1" fill-opacity="0.85"><circle cx="172" cy="131.5" r="3.0"/><circle cx="180" cy="133" r="2.5"/><circle cx="193" cy="136" r="3.4"/><circle cx="183" cy="141" r="2.8"/><circle cx="191" cy="152" r="3.2"/><circle cx="172" cy="145" r="2.3"/><circle cx="177" cy="152" r="2.1"/></g>
<circle cx="186.9" cy="142.4" r="3.8" fill="#e08080" fill-opacity="0.5"/><circle cx="186.9" cy="142.4" r="2.7" fill="#c82830" fill-opacity="0.85"/>
</g></g>
<rect x="167.6" y="125.9" width="31.8" height="29.3" fill="none" stroke="#1a1a1a" stroke-width="1.3"/>
<clipPath id="c9"><rect x="50.5" y="158" width="114.5" height="66.7"/></clipPath>
<g clip-path="url(#c9)"><g filter="url(#bl)"><rect x="47.5" y="155" width="120.5" height="72.7" fill="#f5efef"/>
<path d="M48.2 156.9h0M95.4 157.0h0M115.4 154.8h0M141.8 155.4h0M100.9 160.3h0M114.6 160.6h0M142.8 160.1h0M154.7 159.1h0M93.6 164.0h0M114.8 162.8h0M104.8 167.2h0M138.7 166.1h0M109.1 173.8h0M117.1 173.2h0M52.0 178.8h0M57.7 177.2h0M131.2 177.6h0M59.5 181.4h0M68.0 182.6h0M91.7 182.1h0M101.7 181.9h0M56.6 184.3h0M95.7 189.6h0M105.5 188.3h0M48.9 193.1h0M97.7 196.9h0M120.8 196.4h0M81.6 200.0h0M64.0 203.8h0M139.2 203.8h0M74.1 206.7h0M162.1 206.0h0M94.9 213.6h0M152.9 214.6h0M59.3 217.4h0M54.5 226.2h0" stroke="#8c98d2" stroke-width="3.25" stroke-linecap="round" stroke-opacity="0.9"/>
<path d="M52.0 156.0h0M111.6 156.7h0M119.1 157.1h0M88.9 159.7h0M129.5 166.8h0M154.6 166.7h0M126.9 173.2h0M168.0 181.4h0M82.5 184.7h0M97.6 184.7h0M158.2 185.2h0M163.4 189.7h0M53.2 206.4h0M91.6 208.1h0M159.5 216.9h0M161.0 220.6h0M72.4 225.8h0" stroke="#bcc2e4" stroke-width="2.8" stroke-linecap="round" stroke-opacity="0.9"/>
<path d="M56.8 155.7h0M127.2 156.7h0M133.6 156.8h0M135.6 159.7h0M138.3 160.7h0M160.3 159.8h0M82.1 163.2h0M154.4 162.5h0M73.1 171.6h0M72.4 176.8h0M157.9 176.7h0M137.5 182.2h0M56.4 191.6h0M102.2 192.9h0M110.4 196.5h0M65.0 200.3h0M111.2 199.2h0M136.0 200.4h0M165.4 200.5h0M151.3 202.6h0M64.8 206.3h0M102.1 208.0h0M52.2 213.7h0M89.5 213.2h0M51.0 217.1h0M67.0 217.7h0M48.0 221.3h0M157.8 220.9h0M156.2 226.2h0" stroke="#94a0d6" stroke-width="2.8" stroke-linecap="round" stroke-opacity="0.9"/>
<path d="M59.9 155.1h0M55.2 159.2h0M61.9 160.1h0M168.3 158.4h0M99.7 162.5h0M157.5 162.6h0M68.4 167.9h0M79.0 166.1h0M106.7 171.5h0M115.0 171.6h0M72.0 175.1h0M95.6 175.1h0M113.1 173.9h0M141.9 177.2h0M97.1 181.9h0M105.1 180.8h0M108.2 185.0h0M123.0 186.1h0M162.4 184.9h0M100.2 188.5h0M81.8 192.4h0M132.0 192.6h0M166.9 191.7h0M137.8 195.5h0M61.3 199.8h0M87.4 199.3h0M84.9 202.8h0M125.9 203.7h0M130.1 203.0h0M128.9 207.1h0M59.7 210.4h0M72.6 210.4h0M118.9 210.3h0M143.4 211.9h0M61.1 214.5h0M70.6 214.6h0M99.2 213.8h0M116.7 213.5h0M141.7 215.1h0M166.5 215.0h0M129.9 224.8h0" stroke="#808ccc" stroke-width="3.7" stroke-linecap="round" stroke-opacity="0.9"/>
<path d="M64.5 155.4h0M106.4 155.9h0M130.4 158.4h0M49.0 162.9h0M87.4 162.1h0M102.0 166.6h0M158.1 171.1h0M146.8 174.7h0M60.3 178.6h0M89.6 178.2h0M108.3 181.5h0M162.9 181.3h0M103.0 185.2h0M153.9 184.9h0M148.4 192.4h0M57.7 195.7h0M74.8 196.0h0M154.9 195.4h0M162.8 196.3h0M91.6 203.3h0M104.7 202.9h0M136.2 207.0h0M49.5 210.4h0M67.8 209.5h0M87.3 210.1h0M133.3 213.3h0M137.3 214.8h0M163.3 219.0h0M95.1 222.0h0" stroke="#9ca6da" stroke-width="2.8" stroke-linecap="round" stroke-opacity="0.9"/>
<path d="M70.2 155.2h0M56.1 164.0h0M148.6 162.5h0M150.1 166.7h0M57.5 169.7h0M59.9 170.2h0M90.0 170.1h0M128.1 169.7h0M54.1 174.7h0M58.5 173.5h0M160.9 173.8h0M94.4 178.8h0M97.8 177.7h0M85.0 181.8h0M132.4 184.6h0M64.2 189.8h0M68.2 189.3h0M122.9 188.2h0M167.9 189.3h0M89.8 191.5h0M97.9 192.5h0M136.7 192.1h0M131.0 196.5h0M68.5 199.5h0M157.2 200.4h0M119.9 207.1h0M132.9 207.1h0M148.7 207.4h0M149.7 214.2h0M142.4 217.4h0M110.7 220.5h0M122.5 226.2h0M142.2 226.2h0M160.5 225.2h0" stroke="#bcc2e4" stroke-width="3.25" stroke-linecap="round" stroke-opacity="0.9"/>
<path d="M73.7 156.1h0M137.6 163.5h0M145.2 169.9h0M100.2 174.6h0M71.2 182.6h0M58.6 188.4h0M78.9 189.8h0M125.8 188.6h0M137.6 188.5h0M159.4 187.8h0M78.5 192.6h0M129.1 192.5h0M146.0 198.9h0M167.7 203.4h0M110.3 206.2h0M79.6 211.5h0M156.2 210.3h0M160.2 211.4h0M77.8 215.2h0M127.8 213.7h0M70.3 219.1h0M81.0 222.0h0M116.3 220.9h0M124.3 221.7h0" stroke="#acb4de" stroke-width="3.25" stroke-linecap="round" stroke-opacity="0.9"/>
<path d="M78.2 156.8h0M144.3 156.8h0M70.4 163.2h0M50.9 165.8h0M122.3 166.6h0M142.2 167.6h0M87.3 171.5h0M69.3 177.8h0M102.9 178.1h0M111.2 176.8h0M146.0 177.6h0M116.6 181.9h0M134.4 182.4h0M141.7 180.6h0M53.5 185.8h0M91.6 184.9h0M71.1 189.3h0M147.6 187.8h0M61.6 193.3h0M107.0 191.6h0M154.1 192.2h0M159.8 195.2h0M56.4 200.8h0M132.8 199.6h0M113.0 203.1h0M122.2 202.3h0M60.0 206.9h0M82.3 207.6h0M100.1 211.6h0M126.7 211.8h0M168.0 211.8h0M119.3 214.0h0M62.1 218.4h0M75.0 218.1h0M69.8 221.3h0M51.4 224.8h0" stroke="#94a0d6" stroke-width="3.7" stroke-linecap="round" stroke-opacity="0.9"/>
<path d="M83.1 155.3h0M86.6 154.7h0M157.5 156.4h0M75.7 160.5h0M146.9 160.0h0M51.6 163.0h0M64.9 164.0h0M58.6 166.0h0M87.5 167.0h0M103.1 171.3h0M162.1 171.6h0M164.9 169.7h0M92.2 173.4h0M164.4 173.7h0M123.3 176.7h0M49.7 182.1h0M121.1 180.8h0M119.6 184.8h0M85.4 193.3h0M95.1 191.3h0M48.3 200.9h0M154.5 200.0h0M76.3 204.2h0M56.6 207.1h0M114.6 207.9h0M166.5 206.4h0M55.1 209.8h0M57.4 215.0h0M65.2 214.2h0M86.0 214.8h0M124.0 214.7h0M125.0 218.8h0M64.9 220.8h0M118.2 225.1h0" stroke="#bcc2e4" stroke-width="3.7" stroke-linecap="round" stroke-opacity="0.9"/>
<path d="M89.7 155.6h0M85.1 160.1h0M108.4 159.0h0M121.1 160.6h0M61.4 163.6h0M90.6 163.3h0M102.0 162.2h0M47.2 171.6h0M118.9 170.4h0M133.3 174.1h0M118.9 178.9h0M148.9 176.6h0M112.4 182.7h0M125.7 181.7h0M72.5 184.0h0M86.9 185.6h0M116.7 186.0h0M112.4 189.4h0M92.2 196.6h0M89.6 200.9h0M127.8 198.6h0M78.2 207.4h0M145.0 206.8h0M130.0 210.7h0M81.5 215.4h0M106.2 218.9h0M56.5 222.6h0M61.3 222.0h0M106.5 222.1h0M128.8 221.1h0M144.9 221.8h0M67.4 225.8h0M105.1 225.8h0" stroke="#808ccc" stroke-width="3.25" stroke-linecap="round" stroke-opacity="0.9"/>
<path d="M98.1 156.7h0M49.3 158.5h0M92.8 160.7h0M111.1 162.7h0M161.6 162.2h0M166.7 162.4h0M54.3 166.7h0M97.6 167.8h0M159.5 166.6h0M123.3 170.6h0M82.5 178.8h0M116.8 178.8h0M147.3 181.8h0M94.3 185.6h0M116.7 188.2h0M130.0 189.6h0M51.7 193.2h0M157.1 191.4h0M79.0 197.3h0M114.1 196.0h0M142.0 195.3h0M147.4 196.3h0M108.0 199.8h0M51.2 203.1h0M154.8 202.3h0M160.2 202.7h0M74.7 210.1h0M105.5 209.6h0M108.6 211.7h0M135.4 211.2h0M164.0 211.5h0M107.7 214.6h0M84.3 218.3h0M121.0 218.1h0M148.1 216.9h0M100.0 225.5h0M113.5 225.4h0M169.2 226.2h0" stroke="#9ca6da" stroke-width="3.7" stroke-linecap="round" stroke-opacity="0.9"/>
<path d="M103.8 155.1h0M58.7 159.7h0M117.5 160.6h0M144.7 163.2h0M164.9 167.8h0M68.6 170.0h0M152.6 169.7h0M104.9 174.2h0M150.4 173.9h0M166.9 174.2h0M141.5 186.3h0M144.9 184.7h0M149.2 185.8h0M109.4 189.9h0M140.4 193.3h0M49.4 195.9h0M150.9 195.8h0M72.6 200.1h0M102.6 198.9h0M58.6 203.3h0M66.4 204.3h0M100.9 203.8h0M158.1 207.8h0M83.2 211.4h0M139.8 210.3h0M148.4 222.1h0M75.6 225.4h0M92.8 225.5h0M124.9 224.5h0M137.9 225.4h0M147.9 224.2h0" stroke="#8c98d2" stroke-width="2.8" stroke-linecap="round" stroke-opacity="0.9"/>
<path d="M135.6 154.8h0M79.8 159.7h0M96.3 158.9h0M151.4 158.5h0M141.5 164.2h0M64.1 166.3h0M125.0 166.6h0M53.7 169.7h0M65.4 169.4h0M138.8 175.3h0M65.4 177.1h0M77.4 177.4h0M49.2 184.6h0M65.2 185.2h0M128.0 186.0h0M161.9 192.9h0M62.0 196.8h0M84.3 196.5h0M133.3 196.3h0M123.9 199.1h0M71.0 203.3h0M110.3 203.2h0M124.8 207.1h0M141.6 206.2h0M97.2 211.7h0M114.3 211.3h0M48.2 214.3h0M144.4 215.4h0M161.5 215.4h0M91.9 217.7h0M98.3 222.8h0M119.7 221.2h0M135.7 222.1h0M140.6 222.0h0M152.7 221.5h0M62.7 225.3h0" stroke="#9ca6da" stroke-width="3.25" stroke-linecap="round" stroke-opacity="0.9"/>
<path d="M149.9 156.7h0M152.2 156.4h0M162.5 156.2h0M72.3 160.0h0M73.2 164.4h0M98.4 170.7h0M133.0 170.9h0M140.0 170.5h0M148.7 170.8h0M66.7 175.2h0M156.7 175.2h0M154.5 177.7h0M150.6 181.6h0M76.6 188.8h0M89.5 188.2h0M67.4 194.9h0M88.0 195.1h0M149.7 198.8h0M54.4 203.7h0M48.4 207.7h0M111.5 213.8h0M158.7 214.3h0M87.7 219.0h0M109.0 217.9h0M86.5 221.8h0" stroke="#acb4de" stroke-width="3.7" stroke-linecap="round" stroke-opacity="0.9"/>
<path d="M167.1 156.8h0M105.4 159.0h0M126.1 160.4h0M119.9 162.8h0M76.7 168.0h0M110.6 169.5h0M50.2 173.1h0M63.2 173.6h0M86.1 178.7h0M128.0 176.8h0M155.3 181.0h0M159.9 182.0h0M66.2 193.5h0M68.5 192.6h0M110.3 193.3h0M115.1 192.4h0M72.0 195.6h0M102.0 197.3h0M76.9 199.3h0M115.6 198.6h0M133.5 202.5h0M163.5 203.4h0M68.2 206.9h0M104.1 214.3h0M78.9 219.0h0M112.5 218.5h0M77.2 222.5h0M104.1 220.7h0M165.6 222.0h0M96.5 224.2h0M109.1 225.4h0" stroke="#8c98d2" stroke-width="3.7" stroke-linecap="round" stroke-opacity="0.9"/>
<path d="M66.8 158.4h0M78.2 163.7h0M114.0 166.7h0M78.3 169.5h0M93.6 171.2h0M55.4 182.1h0M131.2 180.5h0M112.1 185.7h0M142.5 189.7h0M52.3 200.8h0M94.1 200.6h0M97.6 203.0h0M117.5 203.9h0M148.2 203.4h0M122.9 211.0h0M151.8 210.9h0M156.2 217.4h0M90.0 220.6h0M134.0 225.1h0" stroke="#94a0d6" stroke-width="3.25" stroke-linecap="round" stroke-opacity="0.9"/>
<path d="M122.9 163.0h0M132.3 163.7h0M116.7 167.3h0M167.9 165.7h0M137.0 169.6h0M75.3 175.4h0M122.6 174.6h0M130.4 175.4h0M141.7 173.2h0M47.6 178.9h0M80.2 182.7h0M60.0 185.5h0M69.2 185.7h0M77.8 184.1h0M49.9 189.8h0M152.3 187.7h0M155.2 188.8h0M118.9 192.0h0M104.5 195.2h0M168.8 196.8h0M99.7 199.1h0M139.7 200.2h0M80.6 203.9h0M93.8 207.0h0M146.4 210.3h0M54.0 217.5h0M116.7 218.9h0M138.3 218.2h0M52.5 222.0h0M58.7 224.2h0M79.3 226.5h0M88.5 225.2h0" stroke="#808ccc" stroke-width="2.8" stroke-linecap="round" stroke-opacity="0.9"/>
<path d="M71.3 167.5h0M85.0 167.5h0M92.2 168.1h0M110.2 165.7h0M82.8 171.3h0M88.6 173.7h0M107.3 178.6h0M62.4 181.0h0M76.5 181.4h0M87.3 181.0h0M165.0 185.8h0M53.6 189.7h0M134.0 188.6h0M145.6 192.2h0M54.4 196.5h0M125.9 195.2h0M120.5 200.8h0M160.9 200.5h0M86.6 206.9h0M97.9 206.0h0M107.9 206.0h0M93.4 210.4h0M73.8 214.2h0M100.1 218.1h0M134.8 216.8h0M151.2 217.0h0M167.0 216.9h0M73.6 222.0h0M83.4 225.5h0" stroke="#acb4de" stroke-width="2.8" stroke-linecap="round" stroke-opacity="0.9"/>
<path d="M96.6 178.6h0M90.2 193.8h0M146.2 221.2h0M134.2 207.6h0M130.5 197.1h0M163.6 165.8h0M112.7 220.0h0M102.7 214.2h0" stroke="#f3dcc0" stroke-width="2.25" stroke-linecap="round" stroke-opacity="0.7"/>
<path d="M55.1 224.1h0M133.3 174.3h0M127.7 191.2h0M69.0 192.3h0" stroke="#efd2b0" stroke-width="2.25" stroke-linecap="round" stroke-opacity="0.7"/>
<path d="M118.5 185.6h0M106.1 214.2h0M85.1 168.9h0M111.7 218.6h0M81.6 209.5h0M94.5 202.3h0M79.3 220.2h0M57.0 164.0h0M65.0 165.3h0M111.5 194.8h0M107.5 196.6h0M100.3 220.1h0" stroke="#efd2b0" stroke-width="1.5" stroke-linecap="round" stroke-opacity="0.7"/>
<path d="M135.3 205.4h0M139.9 169.5h0M140.3 220.0h0M158.1 187.2h0M97.7 169.1h0" stroke="#f3dcc0" stroke-width="3.0" stroke-linecap="round" stroke-opacity="0.7"/>
<path d="M157.3 216.4h0M148.6 197.2h0M51.7 170.1h0M80.1 183.3h0M53.3 208.6h0M53.4 206.3h0M110.5 179.0h0" stroke="#f3dcc0" stroke-width="1.5" stroke-linecap="round" stroke-opacity="0.7"/>
<path d="M151.5 209.6h0M159.9 169.6h0M105.6 195.6h0M89.2 165.8h0" stroke="#efd2b0" stroke-width="3.0" stroke-linecap="round" stroke-opacity="0.7"/>
<circle cx="95.0" cy="175.0" r="6.08" fill="url(#gb)"/>
<circle cx="113.8" cy="171.8" r="4.75" fill="url(#gb)"/>
<circle cx="136.2" cy="170.7" r="4.56" fill="url(#gb)"/>
<circle cx="157.3" cy="164.6" r="4.56" fill="url(#gb)"/>
<circle cx="106.8" cy="186.3" r="5.32" fill="url(#gb)"/>
<circle cx="100.6" cy="193.2" r="5.32" fill="url(#gb)"/>
<circle cx="124.1" cy="201.8" r="5.13" fill="url(#gb)"/>
<circle cx="123" cy="212.2" r="5.13" fill="url(#gb)"/>
<circle cx="125.2" cy="217.7" r="4.94" fill="url(#gb)"/>
<circle cx="51.5" cy="170.2" r="3.42" fill="url(#gb)"/>
<circle cx="113" cy="185" r="3.84" fill="url(#gbl)"/>
<circle cx="134" cy="208.9" r="3.84" fill="url(#gbl)"/>
<circle cx="152.8" cy="203.3" r="3.20" fill="url(#gbl)"/>
<circle cx="124.6" cy="174.2" r="3.04" fill="url(#gbl)"/>
<g fill="#e8b070" fill-opacity="0.55"><ellipse cx="123" cy="206" rx="3" ry="6"/><ellipse cx="95" cy="180" rx="3" ry="2"/></g>
<path d="M109.0 159.2L99.8 169.5M103.2 168.3L99.8 169.5L100.6 166.0" fill="none" stroke="#2a2a3a" stroke-width="0.85"/>
<path d="M126.7 164.3L117.5 170.1M121.1 169.9L117.5 170.1L119.3 167.0" fill="none" stroke="#2a2a3a" stroke-width="0.85"/>
<path d="M147.7 162.4L139.6 167.8M143.2 167.5L139.6 167.8L141.3 164.6" fill="none" stroke="#2a2a3a" stroke-width="0.85"/>
<path d="M119.4 177.0L109.8 182.2M113.4 182.2L109.8 182.2L111.8 179.2" fill="none" stroke="#2a2a3a" stroke-width="0.85"/>
<path d="M115.4 190.3L108.5 192.4M112.0 193.1L108.5 192.4L111.0 189.8" fill="none" stroke="#2a2a3a" stroke-width="0.85"/>
<path d="M137.3 185.7L127.5 196.7M130.9 195.5L127.5 196.7L128.3 193.2" fill="none" stroke="#2a2a3a" stroke-width="0.85"/>
<path d="M139.6 197.8L129.6 207.8M133.1 206.8L129.6 207.8L130.6 204.3" fill="none" stroke="#2a2a3a" stroke-width="0.85"/>
<path d="M142.9 213.3L131.8 217.7M135.4 218.1L131.8 217.7L134.1 214.9" fill="none" stroke="#2a2a3a" stroke-width="0.85"/>
</g></g>
<clipPath id="c10"><rect x="50.8" y="194.5" width="32.2" height="29.6"/></clipPath>
<g clip-path="url(#c10)"><g filter="url(#bl)"><rect x="47.8" y="191.5" width="38.2" height="35.6" fill="#f4f0f4"/>
<path d="M61.4 209.7h0M51.9 204.6h0M75.4 216.0h0M69.0 212.7h0M73.7 205.2h0" stroke="#b0b6e2" stroke-width="6.0" stroke-linecap="round" stroke-opacity="0.75"/>
<path d="M61.9 196.2h0M83.0 203.6h0M79.1 196.0h0M74.8 222.3h0" stroke="#9aa4dc" stroke-width="7.0" stroke-linecap="round" stroke-opacity="0.75"/>
<path d="M80.2 223.5h0M51.7 210.2h0M78.2 222.5h0" stroke="#8c98d6" stroke-width="5.0" stroke-linecap="round" stroke-opacity="0.75"/>
<path d="M55.1 200.2h0" stroke="#b0b6e2" stroke-width="5.0" stroke-linecap="round" stroke-opacity="0.75"/>
<path d="M61.3 219.3h0M66.5 222.1h0" stroke="#8c98d6" stroke-width="7.0" stroke-linecap="round" stroke-opacity="0.75"/>
<path d="M54.0 215.9h0M76.1 206.7h0" stroke="#8c98d6" stroke-width="6.0" stroke-linecap="round" stroke-opacity="0.75"/>
<path d="M61.6 211.0h0M74.8 207.4h0M73.4 219.1h0" stroke="#b0b6e2" stroke-width="7.0" stroke-linecap="round" stroke-opacity="0.75"/>
<path d="M56.3 215.4h0" stroke="#9aa4dc" stroke-width="6.0" stroke-linecap="round" stroke-opacity="0.75"/>
<path d="M62.4 222.6h0" stroke="#9aa4dc" stroke-width="5.0" stroke-linecap="round" stroke-opacity="0.75"/>
<g fill="#d88a48" fill-opacity="0.75"><ellipse cx="64.8" cy="203.0" rx="5.5" ry="6"/><ellipse cx="67.8" cy="214.5" rx="6" ry="5.5"/></g>
<g fill="#7a1a22"><ellipse cx="64.3" cy="203.0" rx="3.5" ry="4.5"/><ellipse cx="67.8" cy="214.5" rx="3.8" ry="3.8"/></g>
</g></g>
<rect x="50.8" y="194.5" width="32.2" height="29.6" fill="none" stroke="#1a1a1a" stroke-width="1.3"/>
<clipPath id="c11"><rect x="167" y="158" width="109" height="66.7"/></clipPath>
<g clip-path="url(#c11)"><g filter="url(#bl)"><rect x="164" y="155" width="115" height="72.7" fill="#f7f2f0"/>
<path d="M165.8 156.8h0M188.0 158.7h0M249.8 159.4h0M275.5 160.8h0M167.9 167.4h0M184.6 167.2h0M193.3 167.6h0M214.8 166.1h0M259.3 167.5h0M269.2 170.1h0M280.0 174.8h0M178.2 177.5h0M238.8 178.3h0M252.2 178.5h0M175.1 182.4h0M261.9 181.9h0M178.6 185.7h0M202.8 185.5h0M244.2 189.5h0M276.4 189.0h0M269.1 192.6h0M245.8 197.8h0M184.2 205.4h0M216.3 209.7h0M166.7 212.8h0M171.4 212.5h0M176.1 212.8h0M225.4 215.3h0M202.1 220.6h0M262.7 220.4h0" stroke="#6468ca" stroke-width="3.7" stroke-linecap="round" stroke-opacity="0.88"/>
<path d="M168.6 156.6h0M178.5 156.2h0M199.6 154.9h0M218.8 167.7h0M257.0 171.6h0M272.8 172.0h0M174.4 178.2h0M205.0 179.7h0M184.7 181.7h0M223.6 182.9h0M241.5 183.0h0M194.2 187.1h0M278.8 186.4h0M198.2 189.5h0M224.6 190.4h0M194.5 194.5h0M193.1 198.1h0M258.0 196.9h0M174.1 201.5h0M181.9 200.2h0M256.9 201.4h0M188.1 205.7h0M185.8 209.6h0M227.5 219.2h0M226.9 223.9h0M189.7 228.9h0M266.9 226.9h0M272.2 227.0h0" stroke="#9ca0de" stroke-width="3.25" stroke-linecap="round" stroke-opacity="0.88"/>
<path d="M174.3 155.4h0M222.7 158.4h0M165.9 164.0h0M169.3 163.6h0M208.3 171.4h0M219.9 173.9h0M266.6 175.6h0M212.0 178.5h0M229.8 178.5h0M272.4 179.4h0M242.2 186.9h0M218.7 189.7h0M237.7 189.7h0M204.7 194.6h0M215.7 196.8h0M182.1 208.6h0M270.0 209.0h0M197.0 212.6h0M173.8 215.2h0M235.2 215.6h0M178.5 224.4h0M196.0 224.4h0M229.0 224.0h0M269.4 222.8h0M232.2 227.7h0M244.6 227.1h0" stroke="#9ca0de" stroke-width="3.7" stroke-linecap="round" stroke-opacity="0.88"/>
<path d="M182.3 154.9h0M234.6 155.8h0M197.7 160.0h0M181.7 164.2h0M207.9 164.5h0M265.2 162.2h0M201.0 167.2h0M267.2 166.0h0M239.6 171.8h0M171.8 175.5h0M197.8 174.7h0M209.9 174.8h0M242.7 177.5h0M261.0 178.9h0M194.0 182.2h0M174.1 185.7h0M207.2 187.0h0M221.3 186.3h0M172.4 190.5h0M271.2 189.5h0M177.6 193.8h0M212.8 192.5h0M203.5 202.1h0M245.4 204.0h0M169.6 208.2h0M174.4 209.0h0M267.8 213.7h0M182.0 216.9h0M179.3 219.5h0" stroke="#6468ca" stroke-width="2.8" stroke-linecap="round" stroke-opacity="0.88"/>
<path d="M186.9 155.3h0M247.6 156.0h0M251.2 155.6h0M171.6 158.6h0M218.9 159.5h0M259.4 158.4h0M168.0 169.9h0M265.5 171.2h0M271.5 173.8h0M222.1 179.7h0M244.7 181.3h0M193.3 190.3h0M221.4 194.5h0M219.3 197.1h0M231.4 198.0h0M236.3 196.9h0M250.7 201.7h0M276.9 201.7h0M166.4 204.8h0M175.3 206.2h0M207.8 209.5h0M263.8 209.9h0M202.5 212.5h0M236.1 212.7h0M218.0 216.8h0M256.7 216.2h0M242.1 220.6h0M170.8 227.8h0" stroke="#6468ca" stroke-width="3.25" stroke-linecap="round" stroke-opacity="0.88"/>
<path d="M189.9 157.0h0M243.8 162.5h0M262.5 168.2h0M172.3 170.5h0M178.3 171.9h0M168.7 179.7h0M279.0 179.7h0M269.6 187.2h0M180.7 190.4h0M216.4 193.0h0M256.9 193.7h0M198.6 196.4h0M262.8 196.9h0M271.0 196.4h0M224.0 205.8h0M232.9 204.5h0M249.3 203.9h0M280.3 205.2h0M190.5 209.7h0M194.1 209.2h0M206.2 211.7h0M240.4 212.9h0M263.2 212.4h0M238.1 217.2h0M253.3 220.9h0M183.4 226.7h0" stroke="#7e84d6" stroke-width="3.7" stroke-linecap="round" stroke-opacity="0.88"/>
<path d="M195.9 156.8h0M238.1 155.4h0M269.3 155.2h0M175.0 159.6h0M204.9 162.5h0M274.7 162.9h0M189.7 167.4h0M207.2 166.4h0M213.3 170.0h0M255.8 179.3h0M188.3 181.3h0M271.4 181.7h0M255.2 185.0h0M272.8 185.2h0M214.2 189.2h0M258.7 190.8h0M280.5 189.7h0M174.4 193.5h0M239.6 192.8h0M188.9 197.6h0M250.2 197.2h0M230.3 201.6h0M248.1 201.4h0M276.6 204.9h0M246.9 209.9h0M197.9 221.3h0M245.9 220.6h0M204.6 224.4h0M205.6 228.6h0" stroke="#7e84d6" stroke-width="2.8" stroke-linecap="round" stroke-opacity="0.88"/>
<path d="M204.3 156.1h0M221.3 156.8h0M260.4 155.4h0M251.9 164.1h0M279.5 167.1h0M261.1 169.9h0M276.5 174.0h0M216.0 178.5h0M281.2 181.9h0M251.3 186.4h0M166.2 189.6h0M241.6 190.6h0M186.3 194.1h0M199.3 193.4h0M172.4 197.9h0M253.2 197.9h0M170.3 200.6h0M176.8 200.8h0M190.2 202.1h0M193.7 205.2h0M202.1 205.7h0M205.3 205.7h0M262.6 206.0h0M189.1 213.1h0M220.4 213.7h0M259.5 213.0h0M177.1 215.8h0M199.4 216.4h0M203.6 215.4h0M246.9 216.8h0M264.5 215.3h0M168.0 224.8h0M274.5 223.6h0M194.2 227.6h0M218.1 227.3h0" stroke="#6c70cc" stroke-width="2.8" stroke-linecap="round" stroke-opacity="0.88"/>
<path d="M208.9 156.7h0M265.6 156.0h0M224.6 162.6h0M246.7 162.6h0M227.6 166.7h0M236.5 167.1h0M181.8 170.7h0M234.9 172.1h0M189.6 174.9h0M227.5 174.6h0M245.6 174.8h0M253.7 174.2h0M262.1 175.5h0M225.9 178.1h0M218.4 183.0h0M229.0 182.3h0M209.5 189.6h0M248.9 189.8h0M227.8 197.6h0M165.3 201.9h0M194.4 202.1h0M200.3 200.7h0M208.0 201.1h0M272.8 202.1h0M230.1 216.4h0M184.2 219.1h0M210.3 221.2h0M218.5 219.2h0M259.2 221.3h0" stroke="#7e84d6" stroke-width="3.25" stroke-linecap="round" stroke-opacity="0.88"/>
<path d="M217.8 156.5h0M271.2 160.7h0M229.0 163.2h0M237.7 163.4h0M255.0 166.2h0M204.4 171.7h0M233.8 178.9h0M269.8 178.9h0M203.0 181.5h0M254.8 181.4h0M187.3 186.2h0M189.8 185.9h0M260.4 194.3h0M240.3 198.5h0M222.1 200.8h0M209.4 204.5h0M227.5 205.3h0M255.1 205.4h0M226.2 207.8h0M255.8 209.3h0M184.3 213.6h0M253.4 212.2h0M168.9 215.9h0M167.0 220.4h0M249.9 221.1h0M190.8 223.8h0M199.3 224.6h0M208.5 223.7h0M264.1 224.8h0M280.4 228.2h0" stroke="#7278d2" stroke-width="3.7" stroke-linecap="round" stroke-opacity="0.88"/>
<path d="M225.9 155.1h0M269.7 163.1h0M199.8 171.2h0M230.8 170.5h0M176.8 175.1h0M182.4 179.3h0M253.5 190.5h0M230.9 192.8h0M252.5 194.6h0M181.2 197.6h0M206.5 196.9h0M218.6 205.5h0M235.6 204.4h0M230.5 208.9h0M279.1 207.9h0M212.0 216.5h0M259.5 216.5h0M174.5 220.2h0M193.9 220.7h0M231.7 220.8h0M255.1 224.8h0M180.9 226.7h0M214.6 227.5h0" stroke="#8a90da" stroke-width="3.7" stroke-linecap="round" stroke-opacity="0.88"/>
<path d="M243.7 156.1h0M273.4 155.2h0M231.8 158.5h0M263.2 159.0h0M277.5 162.6h0M240.4 167.3h0M242.2 171.0h0M184.8 175.9h0M193.5 174.9h0M199.9 177.4h0M167.4 181.2h0M237.1 182.0h0M183.0 186.0h0M238.9 185.2h0M176.3 189.5h0M207.2 193.4h0M209.9 196.8h0M275.1 197.6h0M279.2 196.7h0M263.7 201.2h0M213.9 204.4h0M235.4 209.1h0M179.8 211.6h0M245.3 213.6h0M206.5 221.0h0M214.9 219.1h0M181.8 222.9h0M235.0 224.8h0M252.6 222.8h0M211.0 228.0h0M262.7 227.7h0" stroke="#6c70cc" stroke-width="3.25" stroke-linecap="round" stroke-opacity="0.88"/>
<path d="M256.4 157.0h0M192.0 162.3h0M198.6 163.0h0M179.0 167.9h0M249.6 166.7h0M217.7 171.0h0M248.0 171.0h0M214.2 173.7h0M258.0 175.2h0M224.6 185.9h0M259.8 185.5h0M264.2 185.8h0M164.5 193.7h0M267.1 196.5h0M250.8 211.6h0M274.7 213.5h0M268.0 221.2h0M276.3 220.8h0M280.6 220.2h0M221.0 223.0h0" stroke="#6c70cc" stroke-width="3.7" stroke-linecap="round" stroke-opacity="0.88"/>
<path d="M278.4 154.8h0M254.7 158.8h0M279.3 159.8h0M233.4 162.8h0M232.2 167.6h0M270.4 167.1h0M275.8 168.3h0M196.2 170.4h0M251.6 171.6h0M180.4 175.9h0M190.5 178.2h0M179.1 183.1h0M207.1 183.1h0M168.5 185.0h0M231.0 186.5h0M246.8 186.7h0M190.1 194.2h0M184.9 198.5h0M224.5 196.5h0M217.8 200.8h0M177.3 207.7h0M213.8 209.3h0M220.6 209.5h0M260.3 208.0h0M273.4 209.5h0M252.5 215.8h0M237.1 221.1h0M242.2 224.2h0" stroke="#8a90da" stroke-width="3.25" stroke-linecap="round" stroke-opacity="0.88"/>
<path d="M167.1 160.0h0M202.9 159.7h0M205.2 160.8h0M187.5 162.3h0M217.8 162.3h0M256.8 163.3h0M261.0 164.2h0M198.1 167.2h0M242.1 175.7h0M184.3 189.7h0M183.3 192.8h0M225.6 192.9h0M235.2 192.9h0M243.2 194.9h0M239.7 200.4h0M260.6 202.0h0M196.7 204.9h0M271.4 204.2h0M227.5 212.8h0M232.2 212.4h0M272.0 212.5h0M185.5 216.1h0M268.2 215.3h0M174.3 224.3h0M278.3 224.0h0M198.4 227.6h0M224.2 226.6h0M253.2 226.6h0M257.3 227.2h0M274.9 226.9h0" stroke="#9ca0de" stroke-width="2.8" stroke-linecap="round" stroke-opacity="0.88"/>
<path d="M180.4 160.6h0M192.6 159.9h0M237.0 160.4h0M194.4 163.9h0M171.5 167.8h0M176.4 167.6h0M244.6 167.8h0M197.1 183.5h0M214.6 183.2h0M249.5 182.6h0M187.3 201.8h0M225.9 200.8h0M268.4 201.6h0M239.1 209.8h0M165.3 217.1h0M191.8 217.4h0M247.7 224.6h0M260.1 223.2h0" stroke="#7278d2" stroke-width="2.8" stroke-linecap="round" stroke-opacity="0.88"/>
<path d="M210.5 159.1h0M228.8 160.8h0M244.8 158.7h0M210.3 166.8h0M187.5 169.8h0M221.5 171.8h0M276.8 170.6h0M185.7 179.1h0M196.0 179.2h0M210.3 182.4h0M258.6 182.0h0M267.2 181.3h0M276.6 182.7h0M164.6 187.2h0M189.2 189.2h0M266.1 188.9h0M247.7 194.0h0M203.0 197.4h0M213.3 202.4h0M235.4 200.5h0M172.1 204.5h0M258.7 204.5h0M199.9 208.2h0M242.0 207.7h0M215.2 212.7h0M224.6 211.9h0M194.6 216.6h0M272.5 216.5h0M224.1 219.1h0M218.0 225.0h0M237.7 224.5h0M237.5 227.6h0" stroke="#8a90da" stroke-width="2.8" stroke-linecap="round" stroke-opacity="0.88"/>
<path d="M215.2 159.6h0M266.1 158.7h0M178.3 164.1h0M213.7 164.6h0M222.0 162.5h0M202.2 175.2h0M207.0 173.9h0M233.2 174.2h0M236.0 175.0h0M164.3 177.8h0M232.3 181.3h0M212.0 185.3h0M234.2 184.9h0M262.0 190.1h0M277.2 192.9h0M176.0 197.9h0M267.8 204.1h0M204.3 209.2h0M251.1 209.3h0M194.2 212.3h0M210.4 211.8h0M222.0 216.8h0M187.7 220.5h0M271.0 221.0h0M164.9 224.0h0M176.5 228.5h0" stroke="#7278d2" stroke-width="3.25" stroke-linecap="round" stroke-opacity="0.88"/>
<path d="M272.8 220.5h0M233.0 205.7h0M169.8 199.3h0M182.7 217.8h0M257.7 170.2h0M184.8 176.7h0M267.4 185.4h0M217.9 175.1h0M266.0 196.1h0M243.4 204.7h0" stroke="#efd2b0" stroke-width="2.25" stroke-linecap="round" stroke-opacity="0.7"/>
<path d="M185.4 211.0h0M218.6 198.7h0M222.3 177.0h0M198.1 222.1h0" stroke="#f3dcc0" stroke-width="2.25" stroke-linecap="round" stroke-opacity="0.7"/>
<path d="M236.9 178.6h0M244.3 213.0h0M215.9 183.2h0M262.2 170.3h0M176.1 167.2h0M266.9 179.7h0M255.7 192.6h0M247.1 221.7h0M194.3 162.2h0M209.0 166.1h0M214.1 223.3h0M240.0 220.7h0M250.0 216.2h0" stroke="#efd2b0" stroke-width="1.5" stroke-linecap="round" stroke-opacity="0.7"/>
<path d="M190.1 208.3h0M194.7 197.8h0M253.9 204.8h0M208.0 223.8h0M185.9 171.6h0M189.2 170.8h0" stroke="#f3dcc0" stroke-width="1.5" stroke-linecap="round" stroke-opacity="0.7"/>
<path d="M270.0 204.8h0M183.3 177.7h0M254.8 212.4h0M177.7 215.4h0" stroke="#f3dcc0" stroke-width="3.0" stroke-linecap="round" stroke-opacity="0.7"/>
<path d="M272.5 170.2h0M248.7 213.8h0M266.6 210.2h0" stroke="#efd2b0" stroke-width="3.0" stroke-linecap="round" stroke-opacity="0.7"/>
<circle cx="174.3" cy="166.4" r="4.75" fill="url(#gb)"/>
<circle cx="227.8" cy="182.7" r="4.56" fill="url(#gb)"/>
<circle cx="208.9" cy="198.9" r="4.75" fill="url(#gb)"/>
<circle cx="198.4" cy="166.4" r="3.68" fill="url(#gbl)"/>
<circle cx="223.6" cy="161.1" r="3.52" fill="url(#gbl)"/>
<circle cx="240.4" cy="185.3" r="4.00" fill="url(#gbl)"/>
<circle cx="204.7" cy="208.3" r="3.84" fill="url(#gbl)"/>
<circle cx="250.9" cy="206.2" r="3.52" fill="url(#gbl)"/>
<circle cx="273.9" cy="177.9" r="3.52" fill="url(#gbl)"/>
<circle cx="197.4" cy="179" r="3.04" fill="url(#gbl)"/>
<g fill="none" stroke="#c87838" stroke-width="1.2" stroke-opacity="0.75"><circle cx="240.4" cy="185.3" r="3.2"/><circle cx="204.7" cy="208.3" r="3"/><circle cx="250.9" cy="206.2" r="2.8"/><circle cx="198.4" cy="166.4" r="2.8"/><circle cx="265" cy="195" r="2.6"/><circle cx="233" cy="172" r="2.4"/></g>
<g fill="#e0a060" fill-opacity="0.35"><ellipse cx="180" cy="168" rx="5" ry="2"/><ellipse cx="246" cy="201" rx="4" ry="2"/><ellipse cx="262" cy="210" rx="3" ry="3"/></g>
<path d="M222.6 183.2L212.1 194.7M215.5 193.5L212.1 194.7L213.0 191.2" fill="none" stroke="#2a2a3a" stroke-width="0.85"/>
</g></g>
<clipPath id="c12"><rect x="167.5" y="194.4" width="32.3" height="29.6"/></clipPath>
<g clip-path="url(#c12)"><g filter="url(#bl)"><rect x="164.5" y="191.4" width="38.3" height="35.6" fill="#f6f2f4"/>
<path d="M179.1 219.2h0M190.6 221.4h0" stroke="#7c88d4" stroke-width="5.0" stroke-linecap="round" stroke-opacity="0.75"/>
<path d="M194.5 207.0h0M182.0 211.3h0" stroke="#a4aae0" stroke-width="6.0" stroke-linecap="round" stroke-opacity="0.75"/>
<path d="M170.0 206.3h0M196.7 219.2h0M194.5 222.9h0M198.9 197.9h0M183.9 217.1h0" stroke="#a4aae0" stroke-width="7.0" stroke-linecap="round" stroke-opacity="0.75"/>
<path d="M174.3 217.3h0M192.5 220.0h0M179.9 222.6h0M171.7 214.7h0" stroke="#a4aae0" stroke-width="5.0" stroke-linecap="round" stroke-opacity="0.75"/>
<path d="M191.9 222.3h0" stroke="#8e98dc" stroke-width="6.0" stroke-linecap="round" stroke-opacity="0.75"/>
<path d="M199.3 207.2h0" stroke="#8e98dc" stroke-width="5.0" stroke-linecap="round" stroke-opacity="0.75"/>
<path d="M171.1 211.8h0" stroke="#7c88d4" stroke-width="6.0" stroke-linecap="round" stroke-opacity="0.75"/>
<path d="M194.0 208.5h0M186.7 207.8h0M185.4 223.7h0" stroke="#8e98dc" stroke-width="7.0" stroke-linecap="round" stroke-opacity="0.75"/>
<path d="M187.2 198.2h0" stroke="#7c88d4" stroke-width="7.0" stroke-linecap="round" stroke-opacity="0.75"/>
<g fill="#e08840" fill-opacity="0.8"><ellipse cx="187" cy="200" rx="5" ry="4.5"/><ellipse cx="178" cy="217.5" rx="5" ry="4"/></g>
<circle cx="186.9" cy="199.7" r="3.4" fill="#8a1830"/>
<circle cx="184.2" cy="208.5" r="3.5" fill="#3c40b8"/>
<circle cx="177.5" cy="217.4" r="2.8" fill="#a8a0c8"/>
</g></g>
<rect x="167.5" y="194.4" width="32.3" height="29.6" fill="none" stroke="#1a1a1a" stroke-width="1.3"/>
<clipPath id="c13"><rect x="50.5" y="226.7" width="114.5" height="74.3"/></clipPath>
<g clip-path="url(#c13)"><g filter="url(#bl)"><rect x="47.5" y="223.7" width="120.5" height="80.3" fill="#d2deea"/>
<path d="M51.7 223.3h0M65.6 223.9h0M160.6 224.8h0M62.5 227.0h0M137.3 227.2h0M149.2 228.7h0M57.0 233.3h0M79.2 231.6h0M151.6 231.3h0M93.6 234.6h0M74.0 239.1h0M156.6 239.2h0M58.9 242.0h0M67.6 243.7h0M140.2 243.7h0M105.1 252.0h0M91.6 255.4h0M117.7 253.3h0M58.6 257.1h0M105.7 257.0h0M110.8 257.0h0M87.5 262.6h0M145.7 265.7h0M94.6 270.5h0M107.3 269.1h0M56.1 274.1h0M96.8 272.0h0M165.0 276.1h0M100.9 281.7h0M118.1 281.3h0M47.2 284.6h0M65.8 284.1h0M151.5 284.4h0M100.8 292.2h0M122.6 291.1h0M161.5 294.4h0M130.7 299.8h0M161.4 298.6h0" stroke="#94a8d6" stroke-width="3.0" stroke-linecap="round" stroke-opacity="0.85"/>
<path d="M55.7 223.7h0M142.3 224.7h0M168.1 224.3h0M155.4 231.5h0M123.5 235.2h0M78.4 239.3h0M112.7 240.2h0M83.4 247.5h0M55.5 250.7h0M146.4 250.6h0M74.9 254.8h0M82.2 254.3h0M103.5 254.7h0M151.1 254.4h0M55.1 257.1h0M92.2 258.8h0M138.8 261.9h0M71.9 265.6h0M157.4 264.6h0M52.6 268.5h0M55.8 269.5h0M71.0 270.3h0M114.0 268.5h0M128.8 268.2h0M64.3 273.9h0M76.0 273.5h0M158.2 271.9h0M70.9 279.7h0M93.3 281.0h0M145.1 281.2h0M161.1 280.5h0M166.9 281.6h0M84.6 289.0h0M116.9 290.6h0M66.6 295.1h0M114.4 294.4h0M124.4 294.5h0" stroke="#9cb0da" stroke-width="4.0" stroke-linecap="round" stroke-opacity="0.85"/>
<path d="M62.5 223.5h0M162.6 227.3h0M70.3 233.1h0M67.4 237.0h0M115.4 234.7h0M105.2 239.8h0M139.9 238.8h0M52.2 246.7h0M74.3 246.7h0M47.8 253.3h0M78.9 254.5h0M146.8 255.0h0M64.0 257.2h0M60.4 262.8h0M91.9 262.7h0M118.4 263.2h0M59.1 266.7h0M77.0 265.9h0M81.6 264.7h0M118.4 265.3h0M157.1 268.9h0M50.5 273.8h0M152.9 272.2h0M70.8 275.9h0M105.1 276.1h0M114.0 277.3h0M110.6 280.4h0M71.3 288.8h0M162.9 288.6h0M128.9 292.3h0M55.8 295.1h0M96.3 300.1h0M156.8 299.8h0M81.5 302.0h0M132.4 303.4h0M137.5 303.0h0" stroke="#aebde0" stroke-width="4.0" stroke-linecap="round" stroke-opacity="0.85"/>
<path d="M70.4 224.1h0M138.7 224.9h0M60.2 228.9h0M133.8 232.4h0M168.4 232.8h0M122.2 239.7h0M132.7 242.6h0M101.8 251.9h0M122.6 263.0h0M126.4 263.2h0M85.7 265.8h0M166.7 265.5h0M140.7 272.5h0M48.0 276.6h0M112.6 284.4h0M146.0 285.4h0M160.5 284.5h0M139.6 287.4h0M96.2 292.1h0M107.4 292.7h0M63.1 294.6h0M51.5 302.2h0M71.9 303.1h0M83.7 304.3h0M89.8 302.1h0M120.6 303.7h0M166.4 301.9h0" stroke="#9cb0da" stroke-width="3.5" stroke-linecap="round" stroke-opacity="0.85"/>
<path d="M79.2 225.1h0M117.6 225.2h0M49.3 235.7h0M105.2 236.0h0M167.8 236.0h0M47.9 238.3h0M52.9 240.2h0M57.6 238.4h0M88.7 242.2h0M116.2 244.0h0M165.4 242.3h0M99.5 247.7h0M131.0 248.0h0M168.2 246.0h0M49.3 250.4h0M97.7 250.3h0M131.3 255.6h0M66.4 258.0h0M124.8 259.1h0M145.0 258.9h0M107.3 261.1h0M51.0 266.4h0M150.5 265.9h0M93.5 274.1h0M102.3 273.8h0M109.5 273.3h0M128.0 273.2h0M75.2 275.9h0M92.2 276.5h0M151.5 277.5h0M128.6 279.5h0M53.7 292.7h0M60.3 291.0h0M61.9 299.3h0M167.9 298.3h0M109.6 303.9h0" stroke="#c0cce6" stroke-width="3.5" stroke-linecap="round" stroke-opacity="0.85"/>
<path d="M81.8 223.5h0M108.0 223.4h0M133.4 228.9h0M131.5 235.1h0M60.2 240.6h0M135.1 240.6h0M164.7 240.5h0M150.6 247.4h0M128.0 249.7h0M139.4 255.2h0M75.7 257.3h0M80.2 258.3h0M129.0 258.0h0M156.9 258.5h0M127.5 264.8h0M48.3 268.3h0M165.4 269.7h0M168.7 269.3h0M135.5 272.7h0M62.9 280.7h0M154.2 287.5h0M149.8 294.7h0M165.4 296.8h0M57.8 300.6h0M85.8 300.5h0M138.7 298.5h0" stroke="#aebde0" stroke-width="3.5" stroke-linecap="round" stroke-opacity="0.85"/>
<path d="M87.6 224.6h0M50.1 229.5h0M102.2 228.4h0M146.1 228.6h0M129.5 232.6h0M63.1 235.8h0M127.7 234.6h0M118.3 243.2h0M145.8 244.1h0M47.6 247.4h0M121.9 247.5h0M125.2 246.1h0M159.3 248.2h0M163.5 254.8h0M167.6 254.5h0M88.4 258.4h0M137.4 258.5h0M140.5 257.2h0M56.3 261.4h0M78.9 261.0h0M89.5 265.1h0M93.9 265.9h0M65.7 268.5h0M78.4 268.7h0M117.7 268.4h0M161.8 272.7h0M167.5 272.8h0M135.0 277.3h0M68.7 284.1h0M83.6 283.7h0M94.9 283.7h0M107.2 288.2h0M72.8 294.5h0M102.7 296.0h0M111.5 296.8h0M131.3 295.7h0M136.8 295.7h0M158.7 295.5h0M47.6 299.8h0M60.2 304.0h0M122.7 304.3h0" stroke="#a8b8de" stroke-width="4.0" stroke-linecap="round" stroke-opacity="0.85"/>
<path d="M92.5 223.6h0M112.0 223.7h0M81.1 229.4h0M85.2 227.3h0M99.0 229.4h0M117.5 232.1h0M139.8 232.9h0M142.8 232.0h0M89.0 235.0h0M111.4 235.7h0M158.9 243.9h0M62.1 247.4h0M120.0 250.3h0M124.3 250.8h0M108.2 254.6h0M146.8 263.0h0M155.4 261.3h0M101.1 266.2h0M152.7 269.3h0M66.5 281.3h0M61.4 284.7h0M73.1 284.3h0M90.6 285.7h0M100.8 284.6h0M54.9 286.9h0M67.5 288.5h0M152.3 293.1h0M156.8 291.0h0M80.2 295.9h0M82.6 299.0h0M92.2 300.4h0M54.8 302.0h0" stroke="#94a8d6" stroke-width="4.0" stroke-linecap="round" stroke-opacity="0.85"/>
<path d="M95.0 225.2h0M124.1 227.6h0M85.9 230.8h0M104.7 232.5h0M131.0 239.3h0M161.1 238.7h0M168.6 238.7h0M90.6 246.9h0M113.9 246.9h0M165.1 247.1h0M75.8 250.7h0M153.1 250.2h0M68.7 253.6h0M85.9 254.5h0M142.9 253.9h0M73.6 263.1h0M159.7 261.5h0M58.2 272.1h0M120.0 273.1h0M88.1 275.6h0M50.5 279.6h0M124.6 285.6h0M139.2 291.5h0M76.1 295.9h0M70.9 299.7h0M93.6 303.7h0" stroke="#b4c2e2" stroke-width="4.0" stroke-linecap="round" stroke-opacity="0.85"/>
<path d="M101.1 225.3h0M130.4 225.3h0M55.5 228.7h0M77.0 227.9h0M165.4 228.8h0M47.5 230.9h0M52.0 232.7h0M161.4 232.0h0M59.7 235.1h0M141.5 234.6h0M144.7 236.5h0M107.4 240.0h0M62.2 242.4h0M112.0 242.6h0M127.9 242.7h0M94.6 245.8h0M114.5 250.7h0M66.3 253.2h0M99.5 255.7h0M66.5 262.7h0M53.6 265.7h0M62.4 266.0h0M135.7 264.6h0M149.0 274.1h0M129.0 275.7h0M144.2 277.2h0M59.7 281.0h0M123.2 279.7h0M130.6 285.0h0M59.5 288.9h0M148.4 288.4h0M142.9 292.9h0M49.5 295.6h0M122.0 299.0h0M162.8 303.1h0" stroke="#a8b8de" stroke-width="3.5" stroke-linecap="round" stroke-opacity="0.85"/>
<path d="M104.2 224.7h0M133.7 224.4h0M88.8 228.6h0M94.5 227.2h0M114.1 228.6h0M122.3 232.6h0M55.3 236.6h0M72.8 236.0h0M106.4 244.4h0M161.7 243.5h0M139.8 246.4h0M148.5 246.4h0M80.1 250.8h0M60.4 254.7h0M135.0 253.2h0M150.9 260.7h0M97.2 266.0h0M114.0 265.2h0M162.3 265.3h0M60.7 269.6h0M105.5 270.2h0M66.6 272.4h0M89.5 272.0h0M66.5 278.1h0M98.2 281.6h0M137.2 281.5h0M150.3 281.4h0M157.1 281.6h0M92.3 287.6h0M98.1 287.0h0M119.5 294.6h0M144.4 294.6h0M53.5 300.0h0M164.4 299.1h0M106.0 303.1h0M145.9 302.7h0" stroke="#94a8d6" stroke-width="3.5" stroke-linecap="round" stroke-opacity="0.85"/>
<path d="M121.5 224.0h0M147.0 225.5h0M150.9 224.6h0M96.3 232.5h0M107.7 231.5h0M126.7 231.1h0M118.1 235.8h0M69.6 240.4h0M75.3 244.1h0M86.0 244.0h0M101.1 243.6h0M84.3 249.5h0M111.9 250.7h0M113.0 254.8h0M153.5 257.1h0M144.0 261.8h0M131.8 266.2h0M90.9 269.0h0M126.1 268.6h0M122.9 273.9h0M118.2 278.1h0M160.5 277.1h0M118.0 283.4h0M138.5 283.7h0M169.7 283.1h0M124.7 286.9h0M49.0 291.5h0M73.0 292.2h0M82.1 291.0h0M86.3 292.5h0M141.6 296.4h0M154.1 295.1h0M104.2 298.7h0M134.0 299.9h0M148.5 300.2h0M139.7 303.8h0" stroke="#c0cce6" stroke-width="3.0" stroke-linecap="round" stroke-opacity="0.85"/>
<path d="M125.6 223.4h0M140.4 229.2h0M90.2 232.8h0M165.3 232.4h0M115.9 238.6h0M126.3 238.4h0M152.4 240.3h0M69.8 246.5h0M88.3 246.2h0M89.0 250.3h0M132.0 249.5h0M98.9 259.4h0M166.4 258.7h0M95.3 261.0h0M133.1 261.2h0M121.7 268.6h0M115.5 273.1h0M61.1 276.4h0M83.2 276.5h0M101.2 275.9h0M107.9 277.6h0M139.2 277.1h0M75.4 279.4h0M89.5 280.0h0M156.6 284.7h0M63.1 286.9h0M119.3 288.8h0M128.4 288.6h0M133.1 289.0h0M136.5 287.5h0M104.1 292.5h0M146.4 290.6h0M161.1 293.2h0M92.6 294.8h0M99.7 300.3h0M107.7 299.0h0M101.7 302.1h0" stroke="#b4c2e2" stroke-width="3.5" stroke-linecap="round" stroke-opacity="0.85"/>
<path d="M155.6 223.3h0M83.6 233.1h0M137.3 235.2h0M81.5 239.2h0M97.8 244.2h0M104.5 248.3h0M133.9 248.0h0M139.7 249.8h0M165.7 250.7h0M120.6 254.9h0M160.8 254.3h0M51.5 258.4h0M118.4 257.7h0M148.3 259.5h0M106.3 265.5h0M152.5 265.6h0M143.5 269.2h0M133.1 273.2h0M96.6 278.2h0M103.3 284.8h0M135.3 292.2h0M97.6 295.4h0" stroke="#9cb0da" stroke-width="3.0" stroke-linecap="round" stroke-opacity="0.85"/>
<path d="M163.7 225.0h0M99.6 231.0h0M101.5 235.8h0M158.9 236.1h0M96.6 239.7h0M143.8 238.3h0M51.5 243.1h0M72.3 243.2h0M79.4 244.3h0M66.1 246.9h0M60.3 250.9h0M149.1 251.6h0M161.0 251.0h0M58.2 254.9h0M125.3 254.3h0M48.7 263.0h0M70.8 262.1h0M82.2 261.2h0M130.1 261.9h0M169.5 260.8h0M142.1 266.5h0M99.8 269.5h0M107.6 272.9h0M121.7 277.6h0M146.0 276.7h0M55.7 281.3h0M77.2 283.6h0M87.3 284.1h0M145.5 288.1h0M165.3 288.0h0M66.5 292.9h0M85.5 296.3h0M107.1 295.6h0M128.0 295.1h0M78.6 299.0h0" stroke="#aebde0" stroke-width="3.0" stroke-linecap="round" stroke-opacity="0.85"/>
<path d="M68.4 228.4h0M120.4 228.7h0M154.2 227.3h0M77.4 237.0h0M87.3 238.2h0M146.2 238.5h0M55.2 244.0h0M156.7 248.2h0M72.0 251.4h0M86.0 257.1h0M101.4 258.5h0M116.1 258.0h0M162.2 257.4h0M51.4 262.0h0M103.0 262.7h0M111.6 262.8h0M122.9 265.7h0M81.8 269.7h0M87.1 269.1h0M135.0 268.6h0M106.0 279.6h0M56.9 284.7h0M49.6 288.5h0M57.3 291.0h0M124.7 292.6h0M66.2 300.3h0M117.9 300.4h0M142.5 300.2h0" stroke="#a8b8de" stroke-width="3.0" stroke-linecap="round" stroke-opacity="0.85"/>
<path d="M159.0 228.8h0M66.1 232.6h0M75.4 230.9h0M149.7 235.3h0M154.6 235.1h0M162.0 235.2h0M91.6 240.8h0M123.3 243.7h0M150.7 244.1h0M55.9 246.6h0M141.9 247.8h0M68.3 250.4h0M136.3 251.5h0M157.6 251.1h0M95.8 253.5h0M111.8 264.8h0M161.3 270.5h0M51.5 277.8h0M125.6 275.9h0M114.7 280.7h0M131.6 281.4h0M135.0 283.8h0M164.3 285.6h0M115.1 288.7h0M70.5 292.2h0M79.1 291.9h0M112.3 292.4h0M164.9 293.1h0M167.7 290.8h0M58.7 296.1h0M64.3 304.1h0M68.6 303.3h0M127.2 304.3h0M149.9 304.3h0" stroke="#c0cce6" stroke-width="4.0" stroke-linecap="round" stroke-opacity="0.85"/>
<path d="M81.8 236.7h0M101.0 238.4h0M152.7 243.4h0M78.9 248.3h0M107.5 247.9h0M53.7 254.2h0M131.4 259.0h0M100.9 262.9h0M57.3 276.8h0M156.5 276.2h0M168.6 277.7h0M121.1 284.8h0M141.7 285.2h0M89.1 287.8h0M102.7 288.2h0M110.9 286.9h0M157.7 288.2h0M75.3 299.3h0M125.4 300.1h0M151.6 298.5h0M153.8 302.1h0" stroke="#b4c2e2" stroke-width="3.0" stroke-linecap="round" stroke-opacity="0.85"/>
<path d="M73.0 228.4h0M112.9 273.9h0M72.3 289.2h0M68.6 257.0h0M143.0 299.3h0M76.7 279.3h0M98.4 294.8h0M104.4 275.1h0M109.9 292.2h0" stroke="#e0ecee" stroke-width="3.0" stroke-linecap="round" stroke-opacity="0.6"/>
<path d="M72.6 239.9h0M132.9 265.3h0M153.9 241.7h0M145.7 265.0h0M83.2 285.4h0M120.2 276.1h0M87.2 237.4h0M157.8 239.1h0M54.7 263.6h0M59.1 227.2h0M163.2 268.7h0" stroke="#e8f0f2" stroke-width="2.0" stroke-linecap="round" stroke-opacity="0.6"/>
<path d="M132.3 288.2h0M148.1 272.4h0M101.2 240.8h0M70.6 241.2h0M116.1 280.2h0M93.5 267.4h0M114.7 258.0h0" stroke="#e8f0f2" stroke-width="4.0" stroke-linecap="round" stroke-opacity="0.6"/>
<path d="M102.4 300.9h0M138.3 253.1h0M83.5 249.1h0M125.5 297.4h0M103.9 265.7h0M111.8 276.1h0M108.1 228.1h0M103.7 270.9h0" stroke="#e0ecee" stroke-width="2.0" stroke-linecap="round" stroke-opacity="0.6"/>
<path d="M86.6 261.6h0M92.3 281.0h0M97.8 264.5h0M123.9 238.4h0M55.5 279.5h0M117.1 299.3h0M134.6 259.2h0M119.5 300.7h0M98.5 269.9h0M131.5 250.3h0M162.8 257.1h0" stroke="#e0ecee" stroke-width="4.0" stroke-linecap="round" stroke-opacity="0.6"/>
<path d="M127.6 293.0h0M115.9 250.3h0M131.7 261.2h0M123.2 266.2h0" stroke="#e8f0f2" stroke-width="3.0" stroke-linecap="round" stroke-opacity="0.6"/>
<circle cx="54" cy="250.5" r="3.64" fill="url(#gm)"/>
<circle cx="66.2" cy="233.8" r="2.24" fill="url(#gm)"/>
<circle cx="128.8" cy="235.5" r="2.80" fill="url(#gm)"/>
<circle cx="137.5" cy="233.5" r="2.24" fill="url(#gm)"/>
<circle cx="161.9" cy="237.6" r="3.08" fill="url(#gm)"/>
<circle cx="128.8" cy="261.1" r="3.36" fill="url(#gm)"/>
<circle cx="101.9" cy="275.4" r="3.36" fill="url(#gm)"/>
<circle cx="158.7" cy="269.3" r="2.80" fill="url(#gm)"/>
<circle cx="158.1" cy="273" r="3.08" fill="url(#gm)"/>
<circle cx="134.9" cy="295" r="3.50" fill="url(#gm)"/>
<circle cx="157.6" cy="297.3" r="2.24" fill="url(#gm)"/>
<circle cx="53.5" cy="265.2" r="2.10" fill="url(#gml)"/>
<circle cx="61" cy="272" r="2.10" fill="url(#gml)"/>
<circle cx="84.6" cy="274.5" r="2.40" fill="url(#gml)"/>
<circle cx="107.1" cy="267.5" r="2.25" fill="url(#gml)"/>
<circle cx="119.5" cy="261.9" r="2.70" fill="url(#gml)"/>
<circle cx="124.8" cy="270.9" r="3.30" fill="url(#gml)"/>
<circle cx="152.9" cy="291.5" r="3.30" fill="url(#gml)"/>
<circle cx="144.4" cy="293.1" r="2.40" fill="url(#gml)"/>
<path d="M69.6 239.6L57.5 247.0M62.9 247.4L57.5 247.0L59.6 242.0" fill="none" stroke="#111" stroke-width="2.1" stroke-linejoin="miter" stroke-linecap="butt"/>
<path d="M93.3 257.4L98.2 269.3M99.4 264.0L98.2 269.3L93.6 266.4" fill="none" stroke="#111" stroke-width="2.1" stroke-linejoin="miter" stroke-linecap="butt"/>
<path d="M115.3 246.6L124.8 239.5M119.4 239.6L124.8 239.5L123.2 244.6" fill="none" stroke="#111" stroke-width="2.1" stroke-linejoin="miter" stroke-linecap="butt"/>
<path d="M140.7 245.0L130.1 257.2M135.4 255.9L130.1 257.2L130.6 251.8" fill="none" stroke="#111" stroke-width="2.1" stroke-linejoin="miter" stroke-linecap="butt"/>
<path d="M153.4 232.3L141.2 233.9M146.0 236.4L141.2 233.9L145.1 230.2" fill="none" stroke="#111" stroke-width="2.1" stroke-linejoin="miter" stroke-linecap="butt"/>
<path d="M150.7 248.2L159.7 241.3M154.3 241.5L159.7 241.3L158.1 246.5" fill="none" stroke="#111" stroke-width="2.1" stroke-linejoin="miter" stroke-linecap="butt"/>
<path d="M159.2 254.6L159.2 266.4M162.3 262.0L159.2 266.4L156.1 262.0" fill="none" stroke="#111" stroke-width="2.1" stroke-linejoin="miter" stroke-linecap="butt"/>
<path d="M159.2 291.5L159.2 277.8M156.1 282.2L159.2 277.8L162.3 282.2" fill="none" stroke="#111" stroke-width="2.1" stroke-linejoin="miter" stroke-linecap="butt"/>
<path d="M127.5 278.8L132.8 290.4M133.8 285.1L132.8 290.4L128.1 287.7" fill="none" stroke="#111" stroke-width="2.1" stroke-linejoin="miter" stroke-linecap="butt"/>
</g></g>
<clipPath id="c14"><rect x="50.7" y="275.7" width="31.1" height="25.0"/></clipPath>
<g clip-path="url(#c14)"><g filter="url(#bl)"><rect x="47.7" y="272.7" width="37.1" height="31.0" fill="#dfe8f0"/>
<path d="M63.1 298.7h0M74.9 284.6h0M54.3 293.1h0" stroke="#c4cee6" stroke-width="7.0" stroke-linecap="round" stroke-opacity="0.7"/>
<path d="M61.3 291.0h0M52.0 284.5h0M59.6 288.3h0M79.1 294.3h0" stroke="#d0d8ec" stroke-width="5.0" stroke-linecap="round" stroke-opacity="0.7"/>
<path d="M65.9 293.1h0M73.3 294.1h0M74.4 292.8h0" stroke="#d0d8ec" stroke-width="7.0" stroke-linecap="round" stroke-opacity="0.7"/>
<path d="M53.2 286.5h0M64.7 299.6h0M63.6 299.9h0" stroke="#c4cee6" stroke-width="5.0" stroke-linecap="round" stroke-opacity="0.7"/>
<path d="M79.0 296.2h0M62.2 285.4h0" stroke="#d0d8ec" stroke-width="6.0" stroke-linecap="round" stroke-opacity="0.7"/>
<path d="M71.1 283.3h0" stroke="#c4cee6" stroke-width="6.0" stroke-linecap="round" stroke-opacity="0.7"/>
<g fill="#d850a8" fill-opacity="0.8"><ellipse cx="67.2" cy="282.2" rx="4.6" ry="3.6"/><ellipse cx="65.7" cy="289.4" rx="5.6" ry="4.6"/></g>
<g fill="#5a1048"><ellipse cx="67.2" cy="282.2" rx="3.4" ry="2.4" transform="rotate(-20 67.2 282.2)"/><ellipse cx="65.9" cy="289.2" rx="4.2" ry="3.2" transform="rotate(-20 65.9 289.2)"/></g>
</g></g>
<rect x="50.7" y="275.7" width="31.1" height="25.0" fill="none" stroke="#1a1a1a" stroke-width="1.3"/>
<clipPath id="c15"><rect x="167" y="226.7" width="109" height="78"/></clipPath>
<g clip-path="url(#c15)"><g filter="url(#bl)"><rect x="164" y="223.7" width="115" height="84" fill="#dcdeea"/>
<path d="M164.4 223.8h0M188.0 229.5h0M211.1 235.4h0M258.3 234.5h0M270.8 235.6h0M279.4 236.0h0M247.5 240.8h0M259.1 240.8h0M264.9 244.0h0M166.1 247.6h0M177.7 248.1h0M215.2 255.7h0M254.0 254.1h0M167.1 258.9h0M223.9 258.2h0M270.9 258.3h0M222.0 261.9h0M267.7 263.0h0M271.7 269.9h0M249.8 273.1h0M258.3 273.6h0M221.9 276.6h0M202.1 280.9h0M235.4 279.6h0M203.5 291.9h0M226.3 295.7h0M278.6 296.8h0M242.6 298.2h0M254.5 300.1h0M229.2 305.6h0" stroke="#b6bce0" stroke-width="3.5" stroke-linecap="round" stroke-opacity="0.85"/>
<path d="M170.0 225.5h0M185.2 225.2h0M224.7 224.6h0M178.8 228.5h0M205.6 227.2h0M251.9 229.2h0M194.8 232.4h0M250.3 232.6h0M260.4 235.5h0M172.8 238.4h0M274.3 244.1h0M236.8 247.0h0M200.4 250.3h0M186.6 254.0h0M273.9 257.4h0M185.6 261.4h0M190.6 270.3h0M219.6 268.9h0M167.7 281.3h0M233.5 291.4h0M277.7 291.8h0M166.1 295.9h0M170.2 294.5h0M217.7 295.3h0M220.6 307.1h0M237.0 306.6h0M243.4 307.3h0M268.0 306.8h0" stroke="#b0b6dc" stroke-width="3.5" stroke-linecap="round" stroke-opacity="0.85"/>
<path d="M174.2 224.0h0M176.6 225.8h0M211.9 223.7h0M230.6 225.2h0M267.4 223.4h0M249.5 228.2h0M274.0 228.3h0M193.8 235.2h0M274.2 235.7h0M245.5 246.8h0M191.9 255.7h0M198.1 254.0h0M211.6 254.6h0M220.5 254.5h0M258.3 266.6h0M211.2 268.5h0M250.1 268.8h0M165.9 273.6h0M184.8 272.0h0M198.3 273.2h0M279.6 273.3h0M270.3 281.7h0M228.5 284.6h0M246.9 283.1h0M239.2 289.2h0M252.0 287.7h0M273.4 288.1h0M178.5 291.9h0M256.2 292.1h0M169.8 300.3h0M259.3 299.6h0M187.0 307.6h0" stroke="#c2c6e4" stroke-width="3.0" stroke-linecap="round" stroke-opacity="0.85"/>
<path d="M182.6 224.8h0M277.5 225.3h0M184.8 227.4h0M244.1 227.4h0M178.3 231.4h0M186.6 231.1h0M275.7 232.8h0M174.4 235.2h0M224.5 240.8h0M210.4 242.5h0M234.9 242.6h0M194.2 247.7h0M273.3 248.2h0M245.5 250.9h0M237.9 254.2h0M259.9 254.8h0M251.9 258.1h0M178.8 260.7h0M264.5 261.5h0M277.5 268.8h0M170.4 273.1h0M180.8 272.0h0M186.9 276.6h0M217.7 277.5h0M259.4 276.5h0M192.9 281.9h0M173.1 283.8h0M211.1 288.6h0M227.5 289.1h0M178.7 295.8h0M183.2 295.4h0M188.8 296.2h0M261.5 296.2h0M183.2 303.5h0M239.4 304.3h0M245.8 306.9h0" stroke="#b0b6dc" stroke-width="4.0" stroke-linecap="round" stroke-opacity="0.85"/>
<path d="M190.8 224.8h0M250.1 224.4h0M197.1 227.8h0M210.5 229.4h0M180.7 236.2h0M200.3 236.3h0M232.1 235.8h0M255.1 239.1h0M233.3 253.8h0M190.5 260.7h0M166.2 266.9h0M176.8 266.5h0M179.5 266.8h0M214.9 266.7h0M278.0 265.3h0M234.5 270.2h0M225.5 276.0h0M243.5 277.5h0M209.3 281.8h0M243.3 280.9h0M251.8 284.1h0M200.7 287.6h0M256.3 289.1h0M209.9 294.9h0M223.4 294.5h0M254.0 296.4h0M173.4 299.3h0M230.1 299.6h0M246.4 300.3h0M231.5 303.3h0M191.5 307.5h0" stroke="#b6bce0" stroke-width="4.0" stroke-linecap="round" stroke-opacity="0.85"/>
<path d="M195.4 225.8h0M223.9 227.7h0M230.3 229.5h0M277.7 229.2h0M190.5 239.8h0M233.7 238.9h0M275.9 239.9h0M184.9 244.0h0M261.0 242.1h0M277.7 246.4h0M193.1 250.0h0M248.0 252.0h0M265.4 251.2h0M204.4 254.6h0M263.2 255.4h0M183.5 257.6h0M265.3 258.9h0M216.3 262.6h0M228.5 262.0h0M272.3 260.9h0M240.6 264.7h0M177.9 269.2h0M200.3 269.0h0M242.8 268.5h0M192.2 273.1h0M177.2 276.0h0M207.9 277.0h0M189.2 281.9h0M205.4 281.8h0M257.2 281.7h0M260.8 280.0h0M199.9 283.4h0M224.1 288.5h0M200.4 296.9h0M235.3 294.5h0M275.3 294.7h0M181.2 300.7h0M198.1 299.1h0M178.8 308.1h0M251.1 308.1h0" stroke="#9ea6d6" stroke-width="4.0" stroke-linecap="round" stroke-opacity="0.85"/>
<path d="M199.8 225.3h0M202.4 224.2h0M237.0 224.9h0M174.7 229.4h0M213.1 227.5h0M219.9 228.9h0M269.3 229.1h0M165.7 232.8h0M210.9 232.0h0M272.6 238.2h0M198.6 248.2h0M213.9 251.6h0M235.9 249.9h0M275.3 250.3h0M230.1 255.5h0M251.6 253.7h0M175.8 258.6h0M213.8 257.8h0M218.1 259.1h0M278.2 256.9h0M241.4 263.2h0M189.7 266.6h0M222.5 265.4h0M252.6 264.8h0M180.9 270.0h0M214.5 273.4h0M274.3 272.5h0M276.9 276.3h0M219.3 281.0h0M222.1 281.4h0M275.4 281.3h0M167.9 285.4h0M271.5 283.2h0M208.3 291.3h0M229.8 290.6h0M245.9 292.0h0M263.1 292.1h0M205.4 295.5h0M269.3 296.3h0M195.6 300.6h0M170.4 306.3h0M172.9 305.8h0" stroke="#989fd2" stroke-width="3.0" stroke-linecap="round" stroke-opacity="0.85"/>
<path d="M206.6 225.3h0M247.2 224.9h0M259.9 223.4h0M267.1 229.5h0M266.8 231.3h0M177.0 238.5h0M167.5 244.4h0M192.4 242.9h0M214.3 242.1h0M168.2 246.1h0M208.9 246.5h0M243.3 246.9h0M269.1 247.1h0M168.3 251.0h0M184.7 250.0h0M256.1 252.0h0M202.2 259.3h0M226.2 258.0h0M244.9 259.4h0M249.0 257.2h0M235.7 265.9h0M215.6 270.1h0M232.5 273.8h0M241.6 283.9h0M165.7 286.9h0M198.2 288.8h0M264.8 304.2h0M263.4 307.2h0" stroke="#b6bce0" stroke-width="3.0" stroke-linecap="round" stroke-opacity="0.85"/>
<path d="M217.7 224.4h0M220.3 224.8h0M170.1 228.1h0M227.9 227.7h0M233.5 232.6h0M262.5 232.3h0M203.7 239.7h0M229.3 240.4h0M237.9 240.6h0M171.1 243.1h0M244.6 244.5h0M186.5 247.7h0M221.0 246.3h0M256.0 248.1h0M241.7 254.3h0M180.1 258.6h0M239.8 257.4h0M182.3 263.2h0M219.4 266.1h0M165.2 270.3h0M169.7 270.0h0M202.7 268.6h0M169.5 277.5h0M212.4 276.3h0M213.5 281.1h0M212.3 285.3h0M184.2 287.1h0M188.0 287.4h0M270.9 289.1h0M260.7 292.6h0M249.2 296.2h0M172.0 301.8h0M176.7 302.7h0M234.5 302.9h0M245.1 302.5h0" stroke="#989fd2" stroke-width="3.5" stroke-linecap="round" stroke-opacity="0.85"/>
<path d="M234.8 224.1h0M235.3 228.3h0M181.8 232.2h0M217.0 231.1h0M266.4 234.7h0M181.5 240.4h0M220.9 240.6h0M243.5 240.7h0M232.7 244.4h0M183.3 247.5h0M187.2 250.8h0M204.5 251.5h0M196.8 258.1h0M235.9 259.1h0M206.8 262.7h0M212.6 262.4h0M246.1 262.7h0M250.5 262.3h0M246.2 270.7h0M266.7 279.7h0M172.4 287.1h0M205.3 287.5h0M219.9 299.1h0M192.0 304.1h0M200.5 303.5h0M215.2 303.5h0M270.8 301.9h0M199.2 306.7h0" stroke="#b0b6dc" stroke-width="3.0" stroke-linecap="round" stroke-opacity="0.85"/>
<path d="M254.1 225.6h0M207.2 240.8h0M217.5 238.4h0M202.3 243.8h0M228.3 244.5h0M172.8 247.6h0M168.1 254.3h0M230.3 257.3h0M170.3 261.8h0M209.4 264.8h0M202.3 272.5h0M253.7 272.9h0M182.3 276.0h0M264.6 285.3h0M219.1 288.3h0M190.4 292.5h0M194.0 293.1h0M242.1 292.7h0M175.5 295.4h0M271.9 299.4h0M249.2 302.6h0" stroke="#c2c6e4" stroke-width="3.5" stroke-linecap="round" stroke-opacity="0.85"/>
<path d="M263.2 225.2h0M183.7 235.2h0M236.0 236.8h0M188.1 243.2h0M218.8 244.5h0M233.8 246.5h0M225.0 253.2h0M267.7 253.3h0M256.8 258.7h0M173.7 262.3h0M200.2 263.1h0M171.5 264.7h0M245.2 264.8h0M262.7 269.4h0M237.0 273.8h0M270.5 274.0h0M200.0 277.5h0M203.8 277.1h0M232.9 278.1h0M241.4 279.8h0M165.7 284.4h0M202.8 284.8h0M233.0 285.6h0M277.1 284.1h0M244.5 287.7h0M241.2 294.5h0M213.2 298.2h0M274.3 303.2h0M212.0 306.4h0" stroke="#aab0da" stroke-width="3.0" stroke-linecap="round" stroke-opacity="0.85"/>
<path d="M272.6 225.4h0M167.1 228.8h0M201.8 228.5h0M261.4 229.3h0M168.2 230.8h0M208.4 231.7h0M237.9 231.9h0M186.3 239.8h0M211.2 239.1h0M240.1 243.3h0M256.2 244.1h0M176.0 250.9h0M223.8 251.1h0M226.1 250.2h0M279.5 251.0h0M173.4 253.6h0M207.2 255.8h0M189.7 257.1h0M191.5 259.1h0M261.9 259.5h0M203.5 262.0h0M254.8 261.6h0M230.6 264.5h0M266.1 266.2h0M174.0 269.9h0M267.2 272.0h0M194.4 277.1h0M272.6 276.0h0M181.0 289.4h0M174.2 292.3h0M182.4 292.4h0M237.2 293.0h0M251.1 291.0h0M265.5 296.4h0M176.9 298.5h0M224.3 298.6h0M232.7 298.2h0M228.3 304.2h0M194.5 307.4h0M217.4 306.1h0" stroke="#aab0da" stroke-width="4.0" stroke-linecap="round" stroke-opacity="0.85"/>
<path d="M192.5 227.1h0M225.1 233.0h0M241.7 231.4h0M271.8 233.0h0M198.0 235.5h0M249.9 236.8h0M264.7 240.6h0M179.6 242.4h0M249.9 243.3h0M269.9 243.6h0M202.7 246.8h0M178.7 250.4h0M165.4 253.7h0M177.3 255.2h0M276.3 253.6h0M171.7 257.3h0M197.0 265.9h0M204.5 265.2h0M249.5 264.8h0M274.7 265.8h0M238.0 269.8h0M175.6 274.1h0M248.5 280.1h0M179.0 283.7h0M215.7 283.3h0M174.5 288.6h0M249.8 287.0h0M211.0 293.1h0M219.8 290.7h0M194.0 296.4h0M256.9 295.5h0M186.1 299.3h0M207.2 300.0h0M268.1 300.0h0M167.0 304.0h0" stroke="#989fd2" stroke-width="4.0" stroke-linecap="round" stroke-opacity="0.85"/>
<path d="M240.6 228.5h0M174.6 232.4h0M198.8 232.3h0M220.5 230.9h0M166.0 235.5h0M222.7 234.7h0M195.3 239.0h0M175.3 244.5h0M197.5 243.4h0M189.9 247.7h0M223.8 246.1h0M230.1 247.2h0M249.9 246.1h0M172.0 250.1h0M196.8 250.4h0M210.4 250.6h0M231.9 251.4h0M246.9 254.4h0M205.4 258.3h0M259.0 262.2h0M201.8 266.9h0M225.9 265.1h0M186.6 270.3h0M209.1 270.4h0M217.5 272.7h0M166.1 277.6h0M228.1 275.7h0M231.4 280.6h0M190.6 283.8h0M193.9 284.9h0M206.8 283.6h0M220.7 283.9h0M224.6 292.2h0M268.9 292.1h0M273.5 290.8h0M215.5 294.3h0M230.4 294.9h0M243.3 295.1h0M191.2 299.5h0M237.7 298.3h0M277.1 298.1h0M197.3 303.2h0M233.0 306.8h0M275.6 305.7h0" stroke="#c2c6e4" stroke-width="4.0" stroke-linecap="round" stroke-opacity="0.85"/>
<path d="M258.1 228.8h0M190.2 231.3h0M246.7 231.0h0M259.5 231.4h0M239.5 234.9h0M169.0 239.0h0M222.7 243.0h0M259.0 247.2h0M241.2 251.5h0M184.7 265.3h0M262.4 266.7h0M225.7 269.3h0M261.8 271.9h0M245.3 277.6h0M250.2 278.2h0M262.8 277.0h0M267.1 277.6h0M196.9 280.8h0M228.2 280.8h0M252.7 281.4h0M278.4 289.0h0M264.4 300.2h0M222.7 303.3h0M260.4 303.2h0M203.2 306.8h0M208.0 306.7h0M255.1 307.6h0M272.9 307.2h0" stroke="#aab0da" stroke-width="3.5" stroke-linecap="round" stroke-opacity="0.85"/>
<path d="M202.3 231.5h0M171.7 236.0h0M187.9 234.8h0M228.1 234.9h0M245.2 235.0h0M254.0 236.2h0M251.8 239.7h0M218.5 251.0h0M252.4 250.1h0M270.2 251.2h0M183.3 254.9h0M194.9 255.0h0M272.7 253.5h0M210.1 257.7h0M194.8 268.2h0M209.3 274.3h0M227.2 272.3h0M174.2 277.2h0M180.9 283.4h0M256.2 285.6h0M268.4 285.3h0M192.1 287.1h0M236.9 287.8h0M262.2 287.7h0M265.2 288.5h0M168.8 291.4h0M197.8 295.3h0M216.5 299.2h0M251.3 299.0h0M205.8 304.0h0M210.7 302.6h0M278.5 303.5h0M166.0 305.7h0M225.5 307.8h0" stroke="#9ea6d6" stroke-width="3.0" stroke-linecap="round" stroke-opacity="0.85"/>
<path d="M256.1 230.9h0M207.0 236.8h0M213.7 236.0h0M219.5 236.9h0M165.9 240.1h0M198.2 238.6h0M268.6 239.5h0M205.9 242.6h0M253.8 244.5h0M263.0 247.9h0M262.2 251.2h0M164.3 262.4h0M194.1 263.0h0M223.8 262.2h0M234.6 262.5h0M193.7 265.4h0M255.3 268.1h0M224.1 273.1h0M191.4 276.8h0M237.1 276.5h0M174.4 281.4h0M277.6 279.9h0M185.9 283.3h0M237.5 285.2h0M259.9 283.4h0M165.6 292.0h0M187.4 292.7h0M216.6 291.4h0M181.2 303.4h0M189.1 302.8h0" stroke="#9ea6d6" stroke-width="3.5" stroke-linecap="round" stroke-opacity="0.85"/>
<path d="M181.0 252.3h0M179.7 286.7h0M194.9 298.1h0M238.0 283.8h0M187.3 230.5h0M264.1 249.2h0M194.7 292.0h0M248.4 234.4h0M263.8 244.9h0M194.6 284.4h0" stroke="#f0f2f6" stroke-width="3.0" stroke-linecap="round" stroke-opacity="0.6"/>
<path d="M267.0 299.2h0M218.0 228.3h0M255.5 253.0h0M176.7 254.0h0M262.1 270.1h0M250.3 291.7h0M274.4 276.0h0M261.8 247.8h0M271.4 293.7h0" stroke="#f0f2f6" stroke-width="4.0" stroke-linecap="round" stroke-opacity="0.6"/>
<path d="M234.5 290.0h0M251.2 242.7h0M246.1 242.0h0M258.3 280.7h0M233.6 229.8h0M258.3 263.1h0M264.3 260.5h0" stroke="#eceef4" stroke-width="3.0" stroke-linecap="round" stroke-opacity="0.6"/>
<path d="M206.0 271.2h0M194.4 273.2h0M210.8 271.9h0M206.5 265.3h0M260.7 229.6h0M177.9 264.3h0M180.8 277.1h0M185.4 298.7h0M221.9 243.6h0M178.2 280.7h0" stroke="#eceef4" stroke-width="4.0" stroke-linecap="round" stroke-opacity="0.6"/>
<path d="M248.4 293.8h0M252.6 268.4h0M269.5 232.7h0M190.1 233.7h0M273.5 303.9h0M204.6 290.4h0M178.9 302.0h0M233.6 231.8h0M257.0 227.7h0" stroke="#f0f2f6" stroke-width="2.0" stroke-linecap="round" stroke-opacity="0.6"/>
<path d="M248.3 251.2h0M205.7 264.1h0M242.2 253.7h0M233.5 249.8h0M191.1 244.2h0" stroke="#eceef4" stroke-width="2.0" stroke-linecap="round" stroke-opacity="0.6"/>
<circle cx="265.5" cy="236.5" r="3.92" fill="url(#gm)"/>
<circle cx="239.3" cy="247" r="3.08" fill="url(#gm)"/>
<circle cx="238.3" cy="252.8" r="2.24" fill="url(#gm)"/>
<circle cx="220.5" cy="263.3" r="2.80" fill="url(#gm)"/>
<circle cx="265.5" cy="266.3" r="2.66" fill="url(#gm)"/>
<circle cx="248.8" cy="236.1" r="2.25" fill="url(#gml)"/>
<circle cx="215.2" cy="244.4" r="2.25" fill="url(#gml)"/>
<circle cx="212.1" cy="229.1" r="2.25" fill="url(#gml)"/>
<circle cx="172.2" cy="227.7" r="1.80" fill="url(#gml)"/>
<path d="M209.2 258.5L216.5 260.4L214.2 253.8" fill="none" stroke="#111" stroke-width="1.5"/>
<path d="M254.5 272.1L262.3 269.8L259.5 277.0" fill="none" stroke="#111" stroke-width="1.5"/>
<path d="M272.9 255.4L266.6 243.8M265.9 249.2L266.6 243.8L271.5 246.2" fill="none" stroke="#111" stroke-width="2.1" stroke-linejoin="miter" stroke-linecap="butt"/>
</g></g>
<clipPath id="c16"><rect x="167.5" y="277.5" width="32.1" height="26.5"/></clipPath>
<g clip-path="url(#c16)"><g filter="url(#bl)"><rect x="164.5" y="274.5" width="38.1" height="32.5" fill="#ecedf4"/>
<path d="M178.9 303.8h0M189.9 293.4h0M185.9 296.0h0" stroke="#c4c8e4" stroke-width="7.5" stroke-linecap="round" stroke-opacity="0.75"/>
<path d="M197.4 303.3h0M176.3 295.3h0" stroke="#b8bcdc" stroke-width="6.75" stroke-linecap="round" stroke-opacity="0.75"/>
<path d="M174.5 301.0h0M168.4 296.7h0" stroke="#b8bcdc" stroke-width="6.0" stroke-linecap="round" stroke-opacity="0.75"/>
<path d="M181.8 293.9h0M191.6 287.1h0M184.4 300.0h0M194.1 291.9h0" stroke="#c4c8e4" stroke-width="6.75" stroke-linecap="round" stroke-opacity="0.75"/>
<path d="M194.6 287.1h0M187.1 295.9h0" stroke="#b8bcdc" stroke-width="7.5" stroke-linecap="round" stroke-opacity="0.75"/>
<path d="M177.2 289.2h0M185.8 292.9h0M199.1 295.3h0" stroke="#c4c8e4" stroke-width="6.0" stroke-linecap="round" stroke-opacity="0.75"/>
<circle cx="179.6" cy="292.8" r="5.4" fill="#c83890" fill-opacity="0.85"/><circle cx="179.6" cy="292.8" r="3.4" fill="#8a1450"/><circle cx="179.6" cy="292.8" r="1.8" fill="#3a0420"/>
</g></g>
<rect x="167.5" y="277.5" width="32.1" height="26.5" fill="none" stroke="#1a1a1a" stroke-width="1.3"/>
<text x="6.8" y="16.8" font-size="12.0" fill="#000" font-weight="bold">A</text>
<text x="107.5" y="15.8" font-size="10.27" fill="#222" text-anchor="middle" textLength="59.6" lengthAdjust="spacingAndGlyphs" stroke="#222" stroke-width="0.12">SOX11+ MCL</text>
<text x="221.2" y="15.8" font-size="10.27" fill="#222" text-anchor="middle" textLength="59.3" lengthAdjust="spacingAndGlyphs" stroke="#222" stroke-width="0.12">SOX11– MCL</text>
<text x="44.9" y="56.9" font-size="10.27" fill="#222" text-anchor="end" textLength="24.3" lengthAdjust="spacingAndGlyphs" stroke="#222" stroke-width="0.12">CD70</text>
<text x="44.9" y="126" font-size="10.27" fill="#222" text-anchor="end" textLength="30.2" lengthAdjust="spacingAndGlyphs" stroke="#222" stroke-width="0.12">FOXP3</text>
<text x="44.9" y="189.1" font-size="10.27" text-anchor="end" fill="#222" stroke-width="0.12" textLength="33.4" lengthAdjust="spacingAndGlyphs"><tspan fill="#c8283c" stroke="#c8283c">FOXP3</tspan><tspan stroke="#222">/</tspan></text>
<text x="44.9" y="200.9" font-size="10.27" fill="#c8843e" text-anchor="end" textLength="18.7" lengthAdjust="spacingAndGlyphs" stroke="#c8843e" stroke-width="0.12">CD4</text>
<text x="44.9" y="261.4" font-size="10.27" text-anchor="end" fill="#222" stroke-width="0.12" textLength="33.4" lengthAdjust="spacingAndGlyphs"><tspan fill="#c8843e" stroke="#c8843e">FOXP3</tspan><tspan stroke="#222">/</tspan></text>
<text x="44.9" y="272.7" font-size="10.27" fill="#d0283e" text-anchor="end" textLength="28.9" lengthAdjust="spacingAndGlyphs" stroke="#d0283e" stroke-width="0.12">CTLA4</text>
<text x="326.8" y="16.7" font-size="12.0" fill="#000" font-weight="bold" textLength="7.0" lengthAdjust="spacingAndGlyphs">B</text>
<path d="M358.5 18.2V132.5" stroke="#1a1a1a" stroke-width="1.05"/>
<path d="M355.5 18.75H358.5" stroke="#1a1a1a" stroke-width="1.05"/>
<text x="352.2" y="21.35" font-size="8.14" fill="#2a2a2a" text-anchor="end" textLength="10.29" lengthAdjust="spacingAndGlyphs" stroke="#2a2a2a" stroke-width="0.12">1.5</text>
<path d="M355.5 56.50H358.5" stroke="#1a1a1a" stroke-width="1.05"/>
<text x="352.2" y="59.1" font-size="8.14" fill="#2a2a2a" text-anchor="end" textLength="10.29" lengthAdjust="spacingAndGlyphs" stroke="#2a2a2a" stroke-width="0.12">1.0</text>
<path d="M355.5 94.25H358.5" stroke="#1a1a1a" stroke-width="1.05"/>
<text x="352.2" y="96.85" font-size="8.14" fill="#2a2a2a" text-anchor="end" textLength="10.29" lengthAdjust="spacingAndGlyphs" stroke="#2a2a2a" stroke-width="0.12">0.5</text>
<path d="M355.5 132.00H358.5" stroke="#1a1a1a" stroke-width="1.05"/>
<text x="352.2" y="134.6" font-size="8.14" fill="#2a2a2a" text-anchor="end" textLength="10.29" lengthAdjust="spacingAndGlyphs" stroke="#2a2a2a" stroke-width="0.12">0.0</text>
<path d="M358 132.5H499.8" stroke="#111" stroke-width="1.05"/>
<text x="0" y="0" font-size="8.8" fill="#333" stroke="#333" stroke-width="0.12" text-anchor="middle" textLength="80" lengthAdjust="spacingAndGlyphs" transform="translate(334.6 75.2) rotate(-90)">FOXP3+/CD4+ cell ratio</text>
<text x="394" y="143.5" font-size="7.98" fill="#333" text-anchor="middle" textLength="51.6" lengthAdjust="spacingAndGlyphs" stroke="#333" stroke-width="0.12">SOX11+ (=42)</text>
<text x="464.5" y="143.5" font-size="7.98" fill="#333" text-anchor="middle" textLength="50" lengthAdjust="spacingAndGlyphs" stroke="#333" stroke-width="0.12">SOX11– (=11)</text>
<path d="M394.5 18.5H460.8" stroke="#444" stroke-width="1"/>
<text x="427.8" y="18.6" font-size="9.0" fill="#222" text-anchor="middle" stroke="#222" stroke-width="0.12">***</text>
<path d="M394.2 34.8h0M382.9 56.7h0M399.6 56.7h0M405.2 56.7h0M388.4 61.0h0M394.1 61.0h0M385.8 71.7h0M391.3 71.7h0M394.2 69.2h0M402.7 71.7h0M380.0 79.2h0M385.5 80.2h0M397.1 76.7h0M397.1 80.7h0M402.7 79.2h0M408.3 79.2h0M391.3 83.8h0M385.8 86.5h0M402.5 86.5h0M391.9 89.8h0M397.3 91.5h0M388.4 94.0h0M399.4 94.4h0M394.1 99.2h0M385.5 101.8h0M402.5 101.8h0M391.3 105.6h0M397.0 105.6h0M388.4 110.0h0M399.6 110.0h0M394.1 111.7h0M391.3 115.4h0M397.0 116.5h0M374.2 118.6h0M379.8 118.8h0M385.5 119.1h0M391.3 121.2h0M397.0 121.2h0M402.7 121.2h0M408.3 118.8h0M414.0 118.8h0M394.1 132.1h0" stroke="#c8102e" stroke-width="4.2" stroke-linecap="round"/>
<path d="M370.2 92.3H417.7" stroke="#222" stroke-width="1.1"/>
<path d="M382 88.4H406M382 96.3H406M394 88.4V96.3" stroke="#d03050" stroke-width="0.9"/>
<g fill="#0a4c8a"><rect x="462.8" y="107.0" width="3.6" height="3.6"/><rect x="465.7" y="114.4" width="3.6" height="3.6"/><rect x="460.0" y="116.7" width="3.6" height="3.6"/><rect x="451.7" y="119.7" width="3.6" height="3.6"/><rect x="456.7" y="121.2" width="3.6" height="3.6"/><rect x="456.7" y="124.7" width="3.6" height="3.6"/><rect x="462.8" y="124.4" width="3.6" height="3.6"/><rect x="468.6" y="126.7" width="3.6" height="3.6"/><rect x="469.0" y="120.5" width="3.6" height="3.6"/><rect x="474.0" y="119.7" width="3.6" height="3.6"/><rect x="462.8" y="130.5" width="3.6" height="3.6"/></g>
<path d="M441 122.5H488" stroke="#111" stroke-width="1.1"/>
<path d="M452 121H477M452 124H477" stroke="#fff" stroke-width="0.7" stroke-dasharray="2 1.5" stroke-opacity="0.8"/>
<text x="326" y="160" font-size="12.0" fill="#000" font-weight="bold">C</text>
<path d="M358.5 171.2V283.5" stroke="#1a1a1a" stroke-width="1.05"/>
<path d="M355.5 172.40H358.5" stroke="#1a1a1a" stroke-width="1.05"/>
<text x="352.2" y="175.0" font-size="8.14" fill="#2a2a2a" text-anchor="end" textLength="10.29" lengthAdjust="spacingAndGlyphs" stroke="#2a2a2a" stroke-width="0.12">1.5</text>
<path d="M355.5 209.30H358.5" stroke="#1a1a1a" stroke-width="1.05"/>
<text x="352.2" y="211.9" font-size="8.14" fill="#2a2a2a" text-anchor="end" textLength="10.29" lengthAdjust="spacingAndGlyphs" stroke="#2a2a2a" stroke-width="0.12">1.0</text>
<path d="M355.5 246.20H358.5" stroke="#1a1a1a" stroke-width="1.05"/>
<text x="352.2" y="248.8" font-size="8.14" fill="#2a2a2a" text-anchor="end" textLength="10.29" lengthAdjust="spacingAndGlyphs" stroke="#2a2a2a" stroke-width="0.12">0.5</text>
<path d="M355.5 283.10H358.5" stroke="#1a1a1a" stroke-width="1.05"/>
<text x="352.2" y="285.7" font-size="8.14" fill="#2a2a2a" text-anchor="end" textLength="10.29" lengthAdjust="spacingAndGlyphs" stroke="#2a2a2a" stroke-width="0.12">0.0</text>
<path d="M358 283.5H497.9" stroke="#111" stroke-width="1.05"/>
<path d="M393.5 283.1V286.2M462.9 283.1V286.2" stroke="#1a1a1a" stroke-width="1"/>
<text x="0" y="0" font-size="8.8" fill="#333" stroke="#333" stroke-width="0.12" text-anchor="middle" textLength="114" lengthAdjust="spacingAndGlyphs" transform="translate(335.2 225.5) rotate(-90)">(FOXP3+CTLA-4+) /CD4+ cell ratio</text>
<text x="393.5" y="295.3" font-size="7.98" fill="#333" text-anchor="middle" textLength="55" lengthAdjust="spacingAndGlyphs" stroke="#333" stroke-width="0.12">SOX11+ (n=16)</text>
<text x="462.8" y="295.3" font-size="7.98" fill="#333" text-anchor="middle" textLength="50" lengthAdjust="spacingAndGlyphs" stroke="#333" stroke-width="0.12">SOX11– (n=2)</text>
<path d="M393.7 198.5h0M393.5 216.9h0M388.0 223.1h0M393.5 224.2h0M398.9 223.8h0M390.8 228.8h0M396.5 232.8h0M390.8 246.2h0M395.7 246.2h0M388.0 260.5h0M390.8 259.2h0M396.5 258.9h0M398.9 261.8h0M393.5 264.6h0M393.5 270.8h0M393.5 276.9h0" stroke="#c8102e" stroke-width="4.2" stroke-linecap="round"/>
<path d="M370.3 243.1H416.9" stroke="#222" stroke-width="1.1"/>
<path d="M381.5 237.4H405.8M381.5 248.9H405.8M393.5 237.4V243" stroke="#d03050" stroke-width="0.9"/>
<path d="M451 272.5H475M451 279H475" stroke="#2a6aa8" stroke-width="1"/>
<path d="M439.5 276H486.6" stroke="#222" stroke-width="1.1"/>
<g fill="#0a4c8a"><rect x="461.1" y="270.7" width="3.6" height="3.6"/><rect x="461.1" y="277.2" width="3.6" height="3.6"/></g>
<text x="7.4" y="323" font-size="12.0" fill="#000" font-weight="bold">D</text>
<path d="M50.65 334.8V453.65" stroke="#1a1a1a" stroke-width="1.35"/>
<path d="M47.65 335.35H50.65" stroke="#1a1a1a" stroke-width="1.35"/>
<text x="44.9" y="338.15" font-size="8.8" fill="#2a2a2a" text-anchor="end" textLength="11.12" lengthAdjust="spacingAndGlyphs" stroke="#2a2a2a" stroke-width="0.12">1.5</text>
<path d="M47.65 374.80H50.65" stroke="#1a1a1a" stroke-width="1.35"/>
<text x="44.9" y="377.6" font-size="8.8" fill="#2a2a2a" text-anchor="end" textLength="11.12" lengthAdjust="spacingAndGlyphs" stroke="#2a2a2a" stroke-width="0.12">1.0</text>
<path d="M47.65 414.25H50.65" stroke="#1a1a1a" stroke-width="1.35"/>
<text x="44.9" y="417.05" font-size="8.8" fill="#2a2a2a" text-anchor="end" textLength="11.12" lengthAdjust="spacingAndGlyphs" stroke="#2a2a2a" stroke-width="0.12">0.5</text>
<path d="M47.65 453.70H50.65" stroke="#1a1a1a" stroke-width="1.35"/>
<text x="44.9" y="456.5" font-size="8.8" fill="#2a2a2a" text-anchor="end" textLength="11.12" lengthAdjust="spacingAndGlyphs" stroke="#2a2a2a" stroke-width="0.12">0.0</text>
<path d="M50.0 453.65H210.4" stroke="#1a1a1a" stroke-width="1.35"/>
<path d="M50.70 453.65V456.65" stroke="#1a1a1a" stroke-width="1.35"/>
<text x="50.7" y="465.8" font-size="8.58" fill="#2a2a2a" text-anchor="middle" textLength="4.34" lengthAdjust="spacingAndGlyphs" stroke="#2a2a2a" stroke-width="0.12">0</text>
<path d="M82.64 453.65V456.65" stroke="#1a1a1a" stroke-width="1.35"/>
<text x="82.64" y="465.8" font-size="8.58" fill="#2a2a2a" text-anchor="middle" textLength="8.68" lengthAdjust="spacingAndGlyphs" stroke="#2a2a2a" stroke-width="0.12">20</text>
<path d="M114.58 453.65V456.65" stroke="#1a1a1a" stroke-width="1.35"/>
<text x="114.58" y="465.8" font-size="8.58" fill="#2a2a2a" text-anchor="middle" textLength="8.68" lengthAdjust="spacingAndGlyphs" stroke="#2a2a2a" stroke-width="0.12">40</text>
<path d="M146.52 453.65V456.65" stroke="#1a1a1a" stroke-width="1.35"/>
<text x="146.52" y="465.8" font-size="8.58" fill="#2a2a2a" text-anchor="middle" textLength="8.68" lengthAdjust="spacingAndGlyphs" stroke="#2a2a2a" stroke-width="0.12">60</text>
<path d="M178.46 453.65V456.65" stroke="#1a1a1a" stroke-width="1.35"/>
<text x="178.46" y="465.8" font-size="8.58" fill="#2a2a2a" text-anchor="middle" textLength="8.68" lengthAdjust="spacingAndGlyphs" stroke="#2a2a2a" stroke-width="0.12">80</text>
<path d="M210.40 453.65V456.65" stroke="#1a1a1a" stroke-width="1.35"/>
<text x="210.4" y="465.8" font-size="8.58" fill="#2a2a2a" text-anchor="middle" textLength="13.01" lengthAdjust="spacingAndGlyphs" stroke="#2a2a2a" stroke-width="0.12">100</text>
<text x="0" y="0" font-size="8.8" fill="#333" stroke="#333" stroke-width="0.12" text-anchor="middle" textLength="80.4" lengthAdjust="spacingAndGlyphs" transform="translate(27.4 394) rotate(-90)">FOXP3+/CD4+ cell ratio</text>
<text x="130.4" y="479.6" font-size="8.6" fill="#333" text-anchor="middle" textLength="59.2" lengthAdjust="spacingAndGlyphs" stroke="#333" stroke-width="0.12">% of CD70+ cells</text>
<path d="M59.1 438.1L192.5 382.9" stroke="#c8102e" stroke-width="1.4"/>
<path d="M58.7 374.7h0M58.7 411.9h0M58.7 422.5h0M60.8 454.2h0M67.0 423.9h0M66.1 442.3h0M74.6 396.0h0M75.0 426.5h0M75.0 431.3h0M74.6 438.1h0M74.6 441.9h0M81.3 426.7h0M82.4 430.3h0M83.0 411.9h0M90.9 440.2h0M98.9 390.1h0M98.9 398.1h0M98.9 422.5h0M98.9 440.4h0M101.0 440.4h0M98.9 454.2h0M114.8 398.1h0M114.8 402.8h0M122.8 406.4h0M125.8 390.1h0M117.7 414.0h0M117.7 420.3h0M129.6 432.4h0M129.6 441.9h0M192.5 351.6h0M178.3 374.9h0M162.5 379.8h0M170.3 379.8h0M170.7 388.2h0M154.4 390.1h0M138.6 399.7h0M154.4 399.9h0M133.9 406.2h0M186.2 398.2h0M162.5 409.4h0M148.1 414.0h0M146.4 436.7h0" stroke="#c8102e" stroke-width="4.1" stroke-linecap="round"/>
<path d="M58.7 444.7h0M65.1 450.0h0M67.0 440.2h0M71.8 437.3h0M82.8 443.0h0M82.8 448.3h0M94.7 448.3h0M114.1 429.2h0" stroke="#0a4c8a" stroke-width="4.1" stroke-linecap="round"/>
<text x="166.7" y="426.9" font-size="7.88" fill="#222" textLength="59.6" lengthAdjust="spacingAndGlyphs" stroke="#222" stroke-width="0.12">Pearson r = 0.656</text>
<text x="166.7" y="435.6" font-size="7.88" fill="#222" textLength="73.7" lengthAdjust="spacingAndGlyphs" stroke="#222" stroke-width="0.12">P value = ****&lt;0.0001</text>
<text x="166.7" y="444.2" font-size="7.88" fill="#222" textLength="23.1" lengthAdjust="spacingAndGlyphs" stroke="#222" stroke-width="0.12">N = 53</text>
<text x="326.3" y="322.9" font-size="12.0" fill="#000" font-weight="bold">E</text>
<path d="M358.55 330.6V453.55" stroke="#1a1a1a" stroke-width="1.3"/>
<path d="M355.55 331.20H358.55" stroke="#1a1a1a" stroke-width="1.3"/>
<text x="352.2" y="334.0" font-size="8.58" fill="#2a2a2a" text-anchor="end" textLength="10.84" lengthAdjust="spacingAndGlyphs" stroke="#2a2a2a" stroke-width="0.12">1.5</text>
<path d="M355.55 372.10H358.55" stroke="#1a1a1a" stroke-width="1.3"/>
<text x="352.2" y="374.9" font-size="8.58" fill="#2a2a2a" text-anchor="end" textLength="10.84" lengthAdjust="spacingAndGlyphs" stroke="#2a2a2a" stroke-width="0.12">1.0</text>
<path d="M355.55 413.00H358.55" stroke="#1a1a1a" stroke-width="1.3"/>
<text x="352.2" y="415.8" font-size="8.58" fill="#2a2a2a" text-anchor="end" textLength="10.84" lengthAdjust="spacingAndGlyphs" stroke="#2a2a2a" stroke-width="0.12">0.5</text>
<path d="M355.55 453.90H358.55" stroke="#1a1a1a" stroke-width="1.3"/>
<text x="352.2" y="456.7" font-size="8.58" fill="#2a2a2a" text-anchor="end" textLength="10.84" lengthAdjust="spacingAndGlyphs" stroke="#2a2a2a" stroke-width="0.12">0.0</text>
<path d="M357.9 453.55H496.5" stroke="#1a1a1a" stroke-width="1.3"/>
<path d="M358.20 453.55V456.55" stroke="#1a1a1a" stroke-width="1.3"/>
<text x="358.2" y="466.0" font-size="8.58" fill="#2a2a2a" text-anchor="middle" textLength="4.34" lengthAdjust="spacingAndGlyphs" stroke="#2a2a2a" stroke-width="0.12">0</text>
<path d="M385.86 453.55V456.55" stroke="#1a1a1a" stroke-width="1.3"/>
<text x="385.86" y="466.0" font-size="8.58" fill="#2a2a2a" text-anchor="middle" textLength="8.68" lengthAdjust="spacingAndGlyphs" stroke="#2a2a2a" stroke-width="0.12">20</text>
<path d="M413.52 453.55V456.55" stroke="#1a1a1a" stroke-width="1.3"/>
<text x="413.52" y="466.0" font-size="8.58" fill="#2a2a2a" text-anchor="middle" textLength="8.68" lengthAdjust="spacingAndGlyphs" stroke="#2a2a2a" stroke-width="0.12">40</text>
<path d="M441.18 453.55V456.55" stroke="#1a1a1a" stroke-width="1.3"/>
<text x="441.18" y="466.0" font-size="8.58" fill="#2a2a2a" text-anchor="middle" textLength="8.68" lengthAdjust="spacingAndGlyphs" stroke="#2a2a2a" stroke-width="0.12">60</text>
<path d="M468.84 453.55V456.55" stroke="#1a1a1a" stroke-width="1.3"/>
<text x="468.84" y="466.0" font-size="8.58" fill="#2a2a2a" text-anchor="middle" textLength="8.68" lengthAdjust="spacingAndGlyphs" stroke="#2a2a2a" stroke-width="0.12">80</text>
<path d="M496.50 453.55V456.55" stroke="#1a1a1a" stroke-width="1.3"/>
<text x="496.5" y="466.0" font-size="8.58" fill="#2a2a2a" text-anchor="middle" textLength="13.01" lengthAdjust="spacingAndGlyphs" stroke="#2a2a2a" stroke-width="0.12">100</text>
<text x="0" y="0" font-size="8.8" fill="#333" stroke="#333" stroke-width="0.12" text-anchor="middle" textLength="116" lengthAdjust="spacingAndGlyphs" transform="translate(335.4 392.4) rotate(-90)">(FOXP3+CTLA-4+) /CD4+ cell ratio</text>
<text x="427.7" y="480.2" font-size="8.6" fill="#333" text-anchor="middle" textLength="58.4" lengthAdjust="spacingAndGlyphs" stroke="#333" stroke-width="0.12">% of CD70+ cells</text>
<path d="M373 436.3L480.6 383.7" stroke="#c8102e" stroke-width="1.4"/>
<path d="M379.2 394.2h0M400.0 389.0h0M379.2 429.2h0M401.2 427.0h0M393.0 440.0h0M416.8 413.0h0M430.3 412.9h0M423.2 427.0h0M434.4 433.3h0M427.6 446.8h0M448.3 398.7h0M455.0 387.9h0M469.0 381.2h0M469.0 388.8h0M481.5 361.0h0M423.5 426.9h0" stroke="#c8102e" stroke-width="4.1" stroke-linecap="round"/>
<path d="M372.5 442.0h0M372.5 449.0h0" stroke="#0a4c8a" stroke-width="4.1" stroke-linecap="round"/>
<text x="449.8" y="425" font-size="7.88" fill="#222" textLength="59.6" lengthAdjust="spacingAndGlyphs" stroke="#222" stroke-width="0.12">Pearson r = 0.682</text>
<text x="449.8" y="433.7" font-size="7.88" fill="#222" textLength="65" lengthAdjust="spacingAndGlyphs" stroke="#222" stroke-width="0.12">P value = ** 0.0018</text>
<text x="449.8" y="442.3" font-size="7.88" fill="#222" textLength="23.1" lengthAdjust="spacingAndGlyphs" stroke="#222" stroke-width="0.12">N = 18</text>
<text x="159.6" y="507.3" font-size="12.0" fill="#000" font-weight="bold">F</text>
<path d="M203.3 502.6V619.2" stroke="#1a1a1a" stroke-width="1.35"/>
<path d="M200.3 504.50H203.3" stroke="#1a1a1a" stroke-width="1.35"/>
<text x="197.2" y="507.4" font-size="8.8" fill="#2a2a2a" text-anchor="end" textLength="11.12" lengthAdjust="spacingAndGlyphs" stroke="#2a2a2a" stroke-width="0.12">1.0</text>
<path d="M200.3 527.40H203.3" stroke="#1a1a1a" stroke-width="1.35"/>
<text x="197.2" y="530.3" font-size="8.8" fill="#2a2a2a" text-anchor="end" textLength="11.12" lengthAdjust="spacingAndGlyphs" stroke="#2a2a2a" stroke-width="0.12">0.8</text>
<path d="M200.3 550.30H203.3" stroke="#1a1a1a" stroke-width="1.35"/>
<text x="197.2" y="553.2" font-size="8.8" fill="#2a2a2a" text-anchor="end" textLength="11.12" lengthAdjust="spacingAndGlyphs" stroke="#2a2a2a" stroke-width="0.12">0.6</text>
<path d="M200.3 573.20H203.3" stroke="#1a1a1a" stroke-width="1.35"/>
<text x="197.2" y="576.1" font-size="8.8" fill="#2a2a2a" text-anchor="end" textLength="11.12" lengthAdjust="spacingAndGlyphs" stroke="#2a2a2a" stroke-width="0.12">0.4</text>
<path d="M200.3 596.10H203.3" stroke="#1a1a1a" stroke-width="1.35"/>
<text x="197.2" y="599.0" font-size="8.8" fill="#2a2a2a" text-anchor="end" textLength="11.12" lengthAdjust="spacingAndGlyphs" stroke="#2a2a2a" stroke-width="0.12">0.2</text>
<path d="M200.3 619.00H203.3" stroke="#1a1a1a" stroke-width="1.35"/>
<text x="197.2" y="621.9" font-size="8.8" fill="#2a2a2a" text-anchor="end" textLength="11.12" lengthAdjust="spacingAndGlyphs" stroke="#2a2a2a" stroke-width="0.12">0.0</text>
<path d="M202.6 619.2H372.2" stroke="#1a1a1a" stroke-width="1.35"/>
<path d="M203.30 619.2V622.2" stroke="#1a1a1a" stroke-width="1.35"/>
<text x="203.3" y="631.2" font-size="8.58" fill="#2a2a2a" text-anchor="middle" textLength="4.34" lengthAdjust="spacingAndGlyphs" stroke="#2a2a2a" stroke-width="0.12">0</text>
<path d="M231.42 619.2V622.2" stroke="#1a1a1a" stroke-width="1.35"/>
<text x="231.42" y="631.2" font-size="8.58" fill="#2a2a2a" text-anchor="middle" textLength="4.34" lengthAdjust="spacingAndGlyphs" stroke="#2a2a2a" stroke-width="0.12">2</text>
<path d="M259.54 619.2V622.2" stroke="#1a1a1a" stroke-width="1.35"/>
<text x="259.54" y="631.2" font-size="8.58" fill="#2a2a2a" text-anchor="middle" textLength="4.34" lengthAdjust="spacingAndGlyphs" stroke="#2a2a2a" stroke-width="0.12">4</text>
<path d="M287.66 619.2V622.2" stroke="#1a1a1a" stroke-width="1.35"/>
<text x="287.66" y="631.2" font-size="8.58" fill="#2a2a2a" text-anchor="middle" textLength="4.34" lengthAdjust="spacingAndGlyphs" stroke="#2a2a2a" stroke-width="0.12">6</text>
<path d="M315.78 619.2V622.2" stroke="#1a1a1a" stroke-width="1.35"/>
<text x="315.78" y="631.2" font-size="8.58" fill="#2a2a2a" text-anchor="middle" textLength="4.34" lengthAdjust="spacingAndGlyphs" stroke="#2a2a2a" stroke-width="0.12">8</text>
<path d="M343.90 619.2V622.2" stroke="#1a1a1a" stroke-width="1.35"/>
<text x="343.9" y="631.2" font-size="8.58" fill="#2a2a2a" text-anchor="middle" textLength="8.68" lengthAdjust="spacingAndGlyphs" stroke="#2a2a2a" stroke-width="0.12">10</text>
<path d="M372.02 619.2V622.2" stroke="#1a1a1a" stroke-width="1.35"/>
<text x="372.02" y="631.2" font-size="8.58" fill="#2a2a2a" text-anchor="middle" textLength="8.68" lengthAdjust="spacingAndGlyphs" stroke="#2a2a2a" stroke-width="0.12">12</text>
<text x="0" y="0" font-size="8.8" fill="#333" stroke="#333" stroke-width="0.12" text-anchor="middle" textLength="36" lengthAdjust="spacingAndGlyphs" transform="translate(178.2 560) rotate(-90)">Probability</text>
<text x="287.6" y="644.4" font-size="8.6" fill="#333" text-anchor="middle" textLength="33.2" lengthAdjust="spacingAndGlyphs" stroke="#333" stroke-width="0.12">OS (years)</text>
<rect x="203.3" y="578.7" width="85.9" height="40.3" fill="#fff" stroke="#222" stroke-width="0.9"/>
<text x="206" y="586.3" font-size="7.88" fill="#222" textLength="80.3" lengthAdjust="spacingAndGlyphs" stroke="#222" stroke-width="0.12">Cox model (continuous)</text>
<path d="M206 588.4H286.3" stroke="#666" stroke-width="0.9"/>
<text x="206" y="596.5" font-size="7.9" fill="#222" stroke="#222" stroke-width="0.12" textLength="65.9" lengthAdjust="spacingAndGlyphs">HR<tspan font-size="5.3" dy="1.8">(per 0.1 units)</tspan><tspan dy="-1.8"> = 1.36</tspan></text>
<text x="206" y="606.9" font-size="7.88" fill="#222" textLength="70.7" lengthAdjust="spacingAndGlyphs" stroke="#222" stroke-width="0.12">95% CI = [1.04–1.79]</text>
<text x="206" y="615.6" font-size="7.88" fill="#222" textLength="31.7" lengthAdjust="spacingAndGlyphs" stroke="#222" stroke-width="0.12">P = 0.027</text>
<path d="M203.3 504.6H261.9V515.8H371.9" fill="none" stroke="#d02038" stroke-width="1.3"/>
<path d="M211.2 502.6V506.6M217.9 502.6V506.6M242.7 502.6V506.6M256.2 502.6V506.6M271.2 513.8V517.8M299.6 513.8V517.8M315.6 513.8V517.8M328.1 513.8V517.8M341.5 513.8V517.8" stroke="#d02038" stroke-width="0.8"/>
<path d="M203.3 504.6H211.9V511.3H224V525.8H230.4V533.1H240V541.7H270.2V551.7H274.6V561.2H313.1V580.4H350.2" fill="none" stroke="#1a5a98" stroke-width="1.3" stroke-dasharray="2.5 1.1"/>
<path d="M213 509.3V513.3M233.7 531.1V535.1M236.5 531.1V535.1M265.4 539.7V543.7M285.8 559.2V563.2M287.3 559.2V563.2M301.2 559.2V563.2M345.4 578.4V582.4M348.3 578.4V582.4" stroke="#1a5a98" stroke-width="0.8"/>
<text x="286.7" y="538.8" font-size="7.88" fill="#333" textLength="82.3" lengthAdjust="spacingAndGlyphs" stroke="#333" stroke-width="0.12">FOXP3+/CD4+ cell ratio</text>
<path d="M286.7 540.4H369" stroke="#666" stroke-width="0.5"/>
<path d="M337.3 546.3H348.8" stroke="#d02038" stroke-width="1.3"/>
<path d="M337.3 555H348.8" stroke="#1a5a98" stroke-width="1.3" stroke-dasharray="2.5 1.1"/>
<text x="352.7" y="548.9" font-size="7.88" fill="#333" textLength="13.76" lengthAdjust="spacingAndGlyphs" stroke="#333" stroke-width="0.12">Low</text>
<text x="352.7" y="557.6" font-size="7.88" fill="#333" textLength="15.42" lengthAdjust="spacingAndGlyphs" stroke="#333" stroke-width="0.12">High</text>
<text x="305" y="608.8" font-size="7.88" fill="#222" textLength="32.1" lengthAdjust="spacingAndGlyphs" stroke="#222" stroke-width="0.12">P &lt; 0.001</text>
<text x="159.4" y="654.5" font-size="7.67" fill="#222" textLength="36.9" lengthAdjust="spacingAndGlyphs" stroke="#222" stroke-width="0.12">No. at risk:</text>
<path d="M173.8 660.6H189.2" stroke="#d02038" stroke-width="1.3"/>
<path d="M173.8 669.2H189.2" stroke="#1a5a98" stroke-width="1.3" stroke-dasharray="2.5 1.1"/>
<text x="203.3" y="662.9" font-size="7.67" fill="#222" text-anchor="middle" textLength="8.12" lengthAdjust="spacingAndGlyphs" stroke="#222" stroke-width="0.12">14</text>
<text x="203.3" y="672.3" font-size="7.67" fill="#222" text-anchor="middle" textLength="8.12" lengthAdjust="spacingAndGlyphs" stroke="#222" stroke-width="0.12">17</text>
<text x="231.4" y="662.9" font-size="7.67" fill="#222" text-anchor="middle" textLength="8.12" lengthAdjust="spacingAndGlyphs" stroke="#222" stroke-width="0.12">12</text>
<text x="231.4" y="672.3" font-size="7.67" fill="#222" text-anchor="middle" textLength="8.12" lengthAdjust="spacingAndGlyphs" stroke="#222" stroke-width="0.12">12</text>
<text x="259.5" y="662.9" font-size="7.67" fill="#222" text-anchor="middle" textLength="8.12" lengthAdjust="spacingAndGlyphs" stroke="#222" stroke-width="0.12">10</text>
<text x="259.5" y="672.3" font-size="7.67" fill="#222" text-anchor="middle" textLength="4.06" lengthAdjust="spacingAndGlyphs" stroke="#222" stroke-width="0.12">9</text>
<text x="287.7" y="662.9" font-size="7.67" fill="#222" text-anchor="middle" textLength="4.06" lengthAdjust="spacingAndGlyphs" stroke="#222" stroke-width="0.12">7</text>
<text x="287.7" y="672.3" font-size="7.67" fill="#222" text-anchor="middle" textLength="4.06" lengthAdjust="spacingAndGlyphs" stroke="#222" stroke-width="0.12">5</text>
<text x="315.8" y="662.9" font-size="7.67" fill="#222" text-anchor="middle" textLength="4.06" lengthAdjust="spacingAndGlyphs" stroke="#222" stroke-width="0.12">6</text>
<text x="315.8" y="672.3" font-size="7.67" fill="#222" text-anchor="middle" textLength="4.06" lengthAdjust="spacingAndGlyphs" stroke="#222" stroke-width="0.12">2</text>
<text x="343.9" y="662.9" font-size="7.67" fill="#222" text-anchor="middle" textLength="4.06" lengthAdjust="spacingAndGlyphs" stroke="#222" stroke-width="0.12">3</text>
<text x="343.9" y="672.3" font-size="7.67" fill="#222" text-anchor="middle" textLength="4.06" lengthAdjust="spacingAndGlyphs" stroke="#222" stroke-width="0.12">2</text>
<text x="372.0" y="662.9" font-size="7.67" fill="#222" text-anchor="middle" textLength="4.06" lengthAdjust="spacingAndGlyphs" stroke="#222" stroke-width="0.12">3</text>
<text x="372.0" y="672.3" font-size="7.67" fill="#222" text-anchor="middle" textLength="4.06" lengthAdjust="spacingAndGlyphs" stroke="#222" stroke-width="0.12">0</text>
<rect x="0.55" y="0.55" width="518.9" height="678.9" fill="none" stroke="#000" stroke-width="1.1"/>
</svg>
</body></html>
